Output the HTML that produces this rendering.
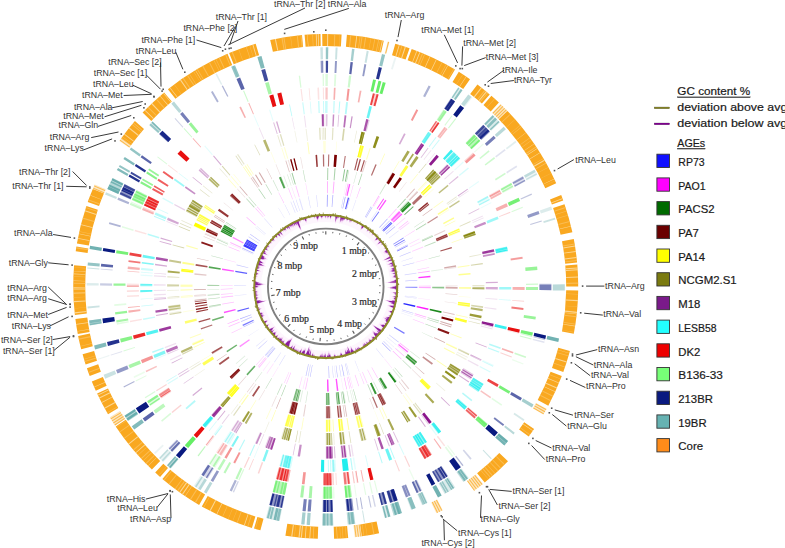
<!DOCTYPE html>
<html><head><meta charset="utf-8"><style>
html,body{margin:0;padding:0;background:#fff;width:785px;height:548px;overflow:hidden}
svg{display:block}
</style></head><body>
<svg width="785" height="548" viewBox="0 0 785 548">
<rect width="785" height="548" fill="#fff"/>
<path d="M167.9,89.3A252.5,252.5 0 0 1 227.5,53.8L232.2,64.9A240.5,240.5 0 0 0 175.4,98.7ZM229.1,53.1A252.5,252.5 0 0 1 255.7,43.8L259.1,55.3A240.5,240.5 0 0 0 233.7,64.2ZM270.2,40.1A252.5,252.5 0 0 1 302.0,35.0L303.1,47.0A240.5,240.5 0 0 0 272.9,51.8ZM304.6,34.8A252.5,252.5 0 0 1 320.5,34.0L320.7,46.0A240.5,240.5 0 0 0 305.6,46.7ZM322.2,33.9A252.5,252.5 0 0 1 341.6,34.4L340.9,46.4A240.5,240.5 0 0 0 322.4,45.9ZM346.9,34.8A252.5,252.5 0 0 1 383.8,40.7L381.1,52.4A240.5,240.5 0 0 0 345.9,46.7ZM395.3,43.7A252.5,252.5 0 0 1 409.6,48.2L405.6,59.6A240.5,240.5 0 0 0 392.0,55.2ZM411.7,49.0A252.5,252.5 0 0 1 455.0,69.5L448.9,79.8A240.5,240.5 0 0 0 407.6,60.3ZM458.8,71.8A252.5,252.5 0 0 1 470.0,79.2L463.2,89.0A240.5,240.5 0 0 0 452.5,82.0ZM477.4,84.5A252.5,252.5 0 0 1 489.7,94.4L481.9,103.5A240.5,240.5 0 0 0 470.2,94.1ZM491.4,95.8A252.5,252.5 0 0 1 498.9,102.6L490.7,111.4A240.5,240.5 0 0 0 483.5,104.9ZM507.4,111.0A252.5,252.5 0 0 1 556.2,183.3L545.3,188.2A240.5,240.5 0 0 0 498.8,119.3ZM561.2,195.1A252.5,252.5 0 0 1 563.2,200.5L551.9,204.5A240.5,240.5 0 0 0 550.0,199.4ZM564.5,204.2A252.5,252.5 0 0 1 572.4,232.2L560.6,234.8A240.5,240.5 0 0 0 553.1,208.1ZM573.8,239.1A252.5,252.5 0 0 1 577.1,262.6L565.2,263.8A240.5,240.5 0 0 0 562.0,241.3ZM577.3,264.4A252.5,252.5 0 0 1 578.2,286.4L566.2,286.4A240.5,240.5 0 0 0 565.3,265.4ZM578.2,290.4A252.5,252.5 0 0 1 573.8,333.7L562.0,331.5A240.5,240.5 0 0 0 566.2,290.2ZM569.9,350.9A252.5,252.5 0 0 1 563.3,371.9L552.0,367.9A240.5,240.5 0 0 0 558.3,347.8ZM561.8,376.1A252.5,252.5 0 0 1 548.3,405.7L537.7,400.0A240.5,240.5 0 0 0 550.6,371.8ZM534.1,429.1A252.5,252.5 0 0 1 528.7,436.6L519.1,429.5A240.5,240.5 0 0 0 524.2,422.3ZM508.0,461.2A252.5,252.5 0 0 1 484.7,482.6L477.1,473.3A240.5,240.5 0 0 0 499.3,452.9ZM379.1,533.2A252.5,252.5 0 0 1 361.8,536.3L360.1,524.4A240.5,240.5 0 0 0 376.6,521.5ZM348.2,537.9A252.5,252.5 0 0 1 334.1,538.8L333.7,526.8A240.5,240.5 0 0 0 347.1,525.9ZM317.8,538.8A252.5,252.5 0 0 1 285.4,535.7L287.3,523.8A240.5,240.5 0 0 0 318.2,526.8ZM260.4,530.3A252.5,252.5 0 0 1 254.0,528.5L257.4,517.0A240.5,240.5 0 0 0 263.5,518.7ZM251.9,527.9A252.5,252.5 0 0 1 201.8,506.4L207.7,495.9A240.5,240.5 0 0 0 255.4,516.4ZM199.1,504.9A252.5,252.5 0 0 1 162.4,479.0L170.2,469.8A240.5,240.5 0 0 0 205.1,494.5ZM160.1,477.0A252.5,252.5 0 0 1 155.2,472.6L163.3,463.7A240.5,240.5 0 0 0 168.0,467.9ZM151.9,469.6A252.5,252.5 0 0 1 115.7,426.5L125.7,419.8A240.5,240.5 0 0 0 160.2,460.9ZM108.0,414.2A252.5,252.5 0 0 1 97.1,393.5L108.0,388.4A240.5,240.5 0 0 0 118.3,408.1ZM95.8,390.7A252.5,252.5 0 0 1 91.8,381.4L102.9,376.9A240.5,240.5 0 0 0 106.7,385.8ZM89.7,376.1A252.5,252.5 0 0 1 86.9,368.2L98.2,364.3A240.5,240.5 0 0 0 100.9,371.8ZM85.6,364.4A252.5,252.5 0 0 1 82.6,354.3L94.1,351.1A240.5,240.5 0 0 0 97.0,360.7ZM81.2,349.2A252.5,252.5 0 0 1 78.1,335.9L89.9,333.5A240.5,240.5 0 0 0 92.8,346.2ZM77.8,334.1A252.5,252.5 0 0 1 75.4,318.9L87.3,317.4A240.5,240.5 0 0 0 89.6,331.9ZM74.9,315.0A252.5,252.5 0 0 1 74.1,265.3L86.1,266.3A240.5,240.5 0 0 0 86.8,313.6ZM75.7,251.3A252.5,252.5 0 0 1 76.4,246.5L88.3,248.4A240.5,240.5 0 0 0 87.6,252.9ZM76.9,243.4A252.5,252.5 0 0 1 86.4,205.9L97.8,209.7A240.5,240.5 0 0 0 88.8,245.5ZM87.7,202.1A252.5,252.5 0 0 1 92.8,189.0L103.9,193.6A240.5,240.5 0 0 0 99.0,206.1ZM121.5,138.0A252.5,252.5 0 0 1 134.9,121.1L144.0,128.9A240.5,240.5 0 0 0 131.2,145.0ZM142.6,112.6A252.5,252.5 0 0 1 164.1,92.4L171.8,101.6A240.5,240.5 0 0 0 151.3,120.9Z" fill="#f9a820"/>
<path d="M387.7,41.6A252.5,252.5 0 0 1 389.4,42.1L386.4,53.7A240.5,240.5 0 0 0 384.7,53.2ZM500.5,104.2A252.5,252.5 0 0 1 507.4,111.0L498.8,119.3A240.5,240.5 0 0 0 492.2,112.8ZM546.6,408.8A252.5,252.5 0 0 1 543.3,414.6L533.0,408.5A240.5,240.5 0 0 0 536.1,403.0ZM482.9,484.0A252.5,252.5 0 0 1 474.2,490.7L467.1,481.0A240.5,240.5 0 0 0 475.5,474.6ZM442.7,510.2A252.5,252.5 0 0 1 436.4,513.3L431.2,502.6A240.5,240.5 0 0 0 437.2,499.5ZM361.8,536.3A252.5,252.5 0 0 1 354.8,537.2L353.4,525.3A240.5,240.5 0 0 0 360.1,524.4ZM115.2,425.8A252.5,252.5 0 0 1 109.8,417.2L120.0,411.0A240.5,240.5 0 0 0 125.2,419.1ZM92.8,189.0A252.5,252.5 0 0 1 94.7,184.5L105.7,189.3A240.5,240.5 0 0 0 103.9,193.6ZM119.4,140.9A252.5,252.5 0 0 1 121.5,138.0L131.2,145.0A240.5,240.5 0 0 0 129.2,147.8Z" fill="#f9a820" fill-opacity="0.3"/>
<path d="M388.1,41.7A252.5,252.5 0 0 1 389.1,42.0L386.0,53.6A240.5,240.5 0 0 0 385.2,53.4ZM500.8,104.5A252.5,252.5 0 0 1 501.5,105.1L493.2,113.7A240.5,240.5 0 0 0 492.5,113.1ZM502.6,106.1A252.5,252.5 0 0 1 503.3,106.8L494.8,115.4A240.5,240.5 0 0 0 494.2,114.7ZM504.3,107.9A252.5,252.5 0 0 1 505.0,108.5L496.5,117.0A240.5,240.5 0 0 0 495.8,116.3ZM506.0,109.6A252.5,252.5 0 0 1 506.7,110.3L498.1,118.6A240.5,240.5 0 0 0 497.4,118.0ZM546.4,409.2A252.5,252.5 0 0 1 545.9,410.0L535.4,404.2A240.5,240.5 0 0 0 535.9,403.4ZM545.2,411.3A252.5,252.5 0 0 1 544.7,412.2L534.3,406.2A240.5,240.5 0 0 0 534.8,405.4ZM544.0,413.4A252.5,252.5 0 0 1 543.5,414.2L533.1,408.2A240.5,240.5 0 0 0 533.6,407.4ZM482.6,484.3A252.5,252.5 0 0 1 481.8,484.9L474.4,475.5A240.5,240.5 0 0 0 475.1,474.9ZM480.7,485.8A252.5,252.5 0 0 1 479.9,486.4L472.6,476.9A240.5,240.5 0 0 0 473.3,476.3ZM478.8,487.3A252.5,252.5 0 0 1 478.0,487.8L470.8,478.3A240.5,240.5 0 0 0 471.5,477.7ZM476.8,488.7A252.5,252.5 0 0 1 476.0,489.3L468.9,479.7A240.5,240.5 0 0 0 469.6,479.1ZM474.9,490.2A252.5,252.5 0 0 1 474.1,490.7L467.0,481.0A240.5,240.5 0 0 0 467.8,480.5ZM442.3,510.4A252.5,252.5 0 0 1 441.5,510.8L436.0,500.2A240.5,240.5 0 0 0 436.8,499.7ZM440.2,511.5A252.5,252.5 0 0 1 439.3,511.9L433.9,501.2A240.5,240.5 0 0 0 434.7,500.8ZM438.0,512.6A252.5,252.5 0 0 1 437.2,513.0L431.9,502.2A240.5,240.5 0 0 0 432.7,501.8ZM361.3,536.4A252.5,252.5 0 0 1 360.4,536.5L358.7,524.6A240.5,240.5 0 0 0 359.6,524.5ZM358.9,536.7A252.5,252.5 0 0 1 358.0,536.8L356.4,524.9A240.5,240.5 0 0 0 357.3,524.8ZM356.5,537.0A252.5,252.5 0 0 1 355.6,537.1L354.1,525.2A240.5,240.5 0 0 0 355.1,525.1ZM115.0,425.4A252.5,252.5 0 0 1 114.4,424.6L124.5,418.0A240.5,240.5 0 0 0 125.0,418.8ZM113.6,423.4A252.5,252.5 0 0 1 113.1,422.6L123.2,416.1A240.5,240.5 0 0 0 123.7,416.9ZM112.3,421.3A252.5,252.5 0 0 1 111.8,420.5L122.0,414.1A240.5,240.5 0 0 0 122.5,414.9ZM111.0,419.3A252.5,252.5 0 0 1 110.5,418.4L120.8,412.2A240.5,240.5 0 0 0 121.2,413.0ZM93.0,188.6A252.5,252.5 0 0 1 93.4,187.7L104.4,192.4A240.5,240.5 0 0 0 104.0,193.2ZM93.9,186.3A252.5,252.5 0 0 1 94.3,185.4L105.3,190.2A240.5,240.5 0 0 0 104.9,191.1ZM119.7,140.5A252.5,252.5 0 0 1 120.2,139.7L130.0,146.7A240.5,240.5 0 0 0 129.5,147.4ZM121.1,138.5A252.5,252.5 0 0 1 121.7,137.7L131.4,144.8A240.5,240.5 0 0 0 130.8,145.5Z" fill="#f9a820" fill-opacity="0.75"/>
<path d="M169.7,87.9A252.5,252.5 0 0 1 170.2,87.5L177.6,97.0A240.5,240.5 0 0 0 177.1,97.4ZM180.0,80.2A252.5,252.5 0 0 1 180.9,79.6L187.7,89.4A240.5,240.5 0 0 0 186.9,90.0ZM195.2,70.3A252.5,252.5 0 0 1 195.6,70.1L201.7,80.3A240.5,240.5 0 0 0 201.4,80.5ZM252.4,44.8A252.5,252.5 0 0 1 253.3,44.5L256.7,56.0A240.5,240.5 0 0 0 255.9,56.3ZM274.8,39.1A252.5,252.5 0 0 1 275.9,38.9L278.3,50.6A240.5,240.5 0 0 0 277.3,50.8ZM307.2,34.6A252.5,252.5 0 0 1 307.6,34.6L308.5,46.5A240.5,240.5 0 0 0 308.0,46.6ZM315.8,34.1A252.5,252.5 0 0 1 316.7,34.1L317.1,46.1A240.5,240.5 0 0 0 316.3,46.1ZM317.8,34.0A252.5,252.5 0 0 1 318.7,34.0L319.0,46.0A240.5,240.5 0 0 0 318.2,46.0ZM327.1,33.9A252.5,252.5 0 0 1 328.2,33.9L328.1,45.9A240.5,240.5 0 0 0 327.0,45.9ZM356.3,35.8A252.5,252.5 0 0 1 357.2,35.9L355.7,47.8A240.5,240.5 0 0 0 354.9,47.7ZM382.0,40.3A252.5,252.5 0 0 1 382.9,40.5L380.2,52.1A240.5,240.5 0 0 0 379.4,52.0ZM398.9,44.7A252.5,252.5 0 0 1 399.7,45.0L396.2,56.4A240.5,240.5 0 0 0 395.4,56.2ZM404.9,46.6A252.5,252.5 0 0 1 405.9,47.0L402.1,58.3A240.5,240.5 0 0 0 401.1,58.0ZM416.5,50.8A252.5,252.5 0 0 1 417.2,51.0L412.8,62.2A240.5,240.5 0 0 0 412.2,62.0ZM419.5,51.9A252.5,252.5 0 0 1 420.3,52.3L415.8,63.4A240.5,240.5 0 0 0 415.0,63.1ZM429.8,56.3A252.5,252.5 0 0 1 430.4,56.6L425.4,67.5A240.5,240.5 0 0 0 424.8,67.3ZM436.1,59.3A252.5,252.5 0 0 1 436.7,59.6L431.5,70.4A240.5,240.5 0 0 0 430.9,70.1ZM447.6,65.2A252.5,252.5 0 0 1 448.1,65.5L442.3,76.0A240.5,240.5 0 0 0 441.8,75.7ZM466.0,76.4A252.5,252.5 0 0 1 466.5,76.8L459.8,86.7A240.5,240.5 0 0 0 459.3,86.4ZM481.1,87.3A252.5,252.5 0 0 1 481.9,88.0L474.5,97.4A240.5,240.5 0 0 0 473.7,96.8ZM486.0,91.3A252.5,252.5 0 0 1 486.9,92.0L479.2,101.2A240.5,240.5 0 0 0 478.4,100.6ZM525.9,132.4A252.5,252.5 0 0 1 526.1,132.8L516.6,140.1A240.5,240.5 0 0 0 516.4,139.7ZM534.0,143.7A252.5,252.5 0 0 1 534.3,144.0L524.4,150.8A240.5,240.5 0 0 0 524.1,150.5ZM537.1,148.2A252.5,252.5 0 0 1 537.4,148.8L527.4,155.3A240.5,240.5 0 0 0 527.0,154.8ZM539.8,152.5A252.5,252.5 0 0 1 540.0,152.9L529.9,159.2A240.5,240.5 0 0 0 529.6,158.8ZM544.2,159.7A252.5,252.5 0 0 1 544.7,160.7L534.3,166.7A240.5,240.5 0 0 0 533.8,165.7ZM554.2,178.8A252.5,252.5 0 0 1 554.3,179.2L543.5,184.3A240.5,240.5 0 0 0 543.3,183.9ZM562.3,198.2A252.5,252.5 0 0 1 562.6,199.0L551.4,203.2A240.5,240.5 0 0 0 551.1,202.4ZM570.9,225.9A252.5,252.5 0 0 1 571.0,226.4L559.4,229.2A240.5,240.5 0 0 0 559.3,228.8ZM574.9,245.4A252.5,252.5 0 0 1 575.1,246.5L563.2,248.4A240.5,240.5 0 0 0 563.1,247.4ZM575.8,251.0A252.5,252.5 0 0 1 575.9,251.9L564.0,253.5A240.5,240.5 0 0 0 563.9,252.7ZM576.5,257.0A252.5,252.5 0 0 1 576.7,258.1L564.7,259.4A240.5,240.5 0 0 0 564.6,258.4ZM577.5,267.4A252.5,252.5 0 0 1 577.6,268.5L565.6,269.3A240.5,240.5 0 0 0 565.6,268.3ZM577.7,269.3A252.5,252.5 0 0 1 577.7,270.2L565.8,271.0A240.5,240.5 0 0 0 565.7,270.1ZM578.1,276.6A252.5,252.5 0 0 1 578.1,277.5L566.1,277.9A240.5,240.5 0 0 0 566.1,277.1ZM577.9,300.1A252.5,252.5 0 0 1 577.8,301.2L565.8,300.5A240.5,240.5 0 0 0 565.9,299.5ZM577.0,311.8A252.5,252.5 0 0 1 576.9,312.9L564.9,311.7A240.5,240.5 0 0 0 565.0,310.6ZM576.8,313.7A252.5,252.5 0 0 1 576.7,314.2L564.8,312.9A240.5,240.5 0 0 0 564.8,312.4ZM575.2,325.7A252.5,252.5 0 0 1 575.1,326.4L563.2,324.5A240.5,240.5 0 0 0 563.3,323.9ZM569.3,352.9A252.5,252.5 0 0 1 569.2,353.3L557.7,350.1A240.5,240.5 0 0 0 557.8,349.7ZM566.8,361.5A252.5,252.5 0 0 1 566.5,362.5L555.1,358.9A240.5,240.5 0 0 0 555.4,357.9ZM559.2,382.7A252.5,252.5 0 0 1 558.9,383.3L547.8,378.7A240.5,240.5 0 0 0 548.1,378.1ZM557.1,387.5A252.5,252.5 0 0 1 556.7,388.5L545.7,383.7A240.5,240.5 0 0 0 546.1,382.7ZM555.4,391.4A252.5,252.5 0 0 1 555.1,392.0L544.2,387.0A240.5,240.5 0 0 0 544.5,386.4ZM533.0,430.6A252.5,252.5 0 0 1 532.7,431.1L522.8,424.3A240.5,240.5 0 0 0 523.2,423.7ZM337.4,538.6A252.5,252.5 0 0 1 337.0,538.7L336.4,526.7A240.5,240.5 0 0 0 336.9,526.6ZM313.6,538.6A252.5,252.5 0 0 1 313.2,538.6L313.8,526.6A240.5,240.5 0 0 0 314.2,526.6ZM310.2,538.4A252.5,252.5 0 0 1 309.3,538.4L310.1,526.4A240.5,240.5 0 0 0 311.0,526.4ZM305.7,538.1A252.5,252.5 0 0 1 304.8,538.0L305.8,526.1A240.5,240.5 0 0 0 306.6,526.1ZM301.9,537.8A252.5,252.5 0 0 1 300.8,537.7L302.0,525.7A240.5,240.5 0 0 0 303.0,525.8ZM299.6,537.5A252.5,252.5 0 0 1 298.5,537.4L299.8,525.5A240.5,240.5 0 0 0 300.9,525.6ZM292.3,536.7A252.5,252.5 0 0 1 291.2,536.5L292.9,524.6A240.5,240.5 0 0 0 293.9,524.8ZM244.7,525.5A252.5,252.5 0 0 1 243.9,525.3L247.8,513.9A240.5,240.5 0 0 0 248.5,514.2ZM217.1,514.3A252.5,252.5 0 0 1 216.5,514.1L221.7,503.2A240.5,240.5 0 0 0 222.3,503.5ZM210.6,511.1A252.5,252.5 0 0 1 209.6,510.6L215.2,500.0A240.5,240.5 0 0 0 216.1,500.4ZM185.3,496.3A252.5,252.5 0 0 1 185.0,496.0L191.7,486.1A240.5,240.5 0 0 0 192.0,486.3ZM183.0,494.6A252.5,252.5 0 0 1 182.0,494.0L188.9,484.1A240.5,240.5 0 0 0 189.7,484.7ZM180.2,492.7A252.5,252.5 0 0 1 179.3,492.1L186.2,482.3A240.5,240.5 0 0 0 187.1,482.9ZM148.4,466.1A252.5,252.5 0 0 1 148.1,465.8L156.5,457.3A240.5,240.5 0 0 0 156.8,457.6ZM136.1,453.1A252.5,252.5 0 0 1 135.5,452.4L144.6,444.6A240.5,240.5 0 0 0 145.1,445.2ZM128.9,444.5A252.5,252.5 0 0 1 128.2,443.7L137.6,436.2A240.5,240.5 0 0 0 138.3,437.0ZM104.8,408.7A252.5,252.5 0 0 1 104.3,407.7L114.8,401.9A240.5,240.5 0 0 0 115.3,402.9ZM101.7,402.9A252.5,252.5 0 0 1 101.4,402.3L112.1,396.8A240.5,240.5 0 0 0 112.4,397.3ZM99.5,398.5A252.5,252.5 0 0 1 99.0,397.6L109.8,392.3A240.5,240.5 0 0 0 110.3,393.2ZM98.0,395.4A252.5,252.5 0 0 1 97.7,394.8L108.5,389.6A240.5,240.5 0 0 0 108.8,390.2ZM94.3,387.2A252.5,252.5 0 0 1 94.1,386.8L105.1,382.1A240.5,240.5 0 0 0 105.3,382.4ZM77.3,331.6A252.5,252.5 0 0 1 77.3,331.2L89.1,329.1A240.5,240.5 0 0 0 89.1,329.5ZM76.2,324.7A252.5,252.5 0 0 1 76.1,324.1L87.9,322.3A240.5,240.5 0 0 0 88.0,322.9ZM74.7,313.4A252.5,252.5 0 0 1 74.6,312.3L86.5,311.1A240.5,240.5 0 0 0 86.6,312.1ZM73.7,302.2A252.5,252.5 0 0 1 73.7,301.1L85.7,300.4A240.5,240.5 0 0 0 85.7,301.5ZM73.4,293.6A252.5,252.5 0 0 1 73.3,292.8L85.3,292.5A240.5,240.5 0 0 0 85.3,293.3ZM73.3,289.6A252.5,252.5 0 0 1 73.3,288.5L85.3,288.4A240.5,240.5 0 0 0 85.3,289.5ZM73.3,287.9A252.5,252.5 0 0 1 73.3,287.2L85.3,287.2A240.5,240.5 0 0 0 85.3,287.8ZM73.3,281.1A252.5,252.5 0 0 1 73.3,280.6L85.3,280.9A240.5,240.5 0 0 0 85.3,281.3ZM73.5,274.2A252.5,252.5 0 0 1 73.6,273.5L85.6,274.2A240.5,240.5 0 0 0 85.5,274.8ZM73.7,271.3A252.5,252.5 0 0 1 73.7,270.9L85.7,271.6A240.5,240.5 0 0 0 85.7,272.0ZM77.8,238.7A252.5,252.5 0 0 1 77.9,238.0L89.7,240.3A240.5,240.5 0 0 0 89.6,240.9ZM78.7,234.1A252.5,252.5 0 0 1 78.9,233.4L90.6,235.9A240.5,240.5 0 0 0 90.5,236.6ZM80.8,225.1A252.5,252.5 0 0 1 81.0,224.2L92.7,227.2A240.5,240.5 0 0 0 92.4,228.0ZM84.7,211.3A252.5,252.5 0 0 1 85.0,210.3L96.4,213.9A240.5,240.5 0 0 0 96.1,214.9ZM90.2,195.4A252.5,252.5 0 0 1 90.4,195.0L101.5,199.4A240.5,240.5 0 0 0 101.4,199.8ZM124.0,134.5A252.5,252.5 0 0 1 124.6,133.8L134.1,141.1A240.5,240.5 0 0 0 133.6,141.7ZM128.8,128.4A252.5,252.5 0 0 1 129.5,127.5L138.8,135.1A240.5,240.5 0 0 0 138.2,135.9ZM144.6,110.5A252.5,252.5 0 0 1 145.2,109.9L153.8,118.3A240.5,240.5 0 0 0 153.2,118.9ZM151.3,103.9A252.5,252.5 0 0 1 152.1,103.1L160.3,111.8A240.5,240.5 0 0 0 159.5,112.6ZM159.7,96.1A252.5,252.5 0 0 1 160.2,95.7L168.1,104.8A240.5,240.5 0 0 0 167.6,105.2ZM163.0,93.3A252.5,252.5 0 0 1 163.5,92.9L171.2,102.1A240.5,240.5 0 0 0 170.8,102.5Z" fill="#fde6b8" fill-opacity="0.75"/>
<path d="M174.0,84.6A252.5,252.5 0 0 1 174.4,84.3L181.5,93.9A240.5,240.5 0 0 0 181.2,94.2ZM182.6,78.4A252.5,252.5 0 0 1 183.5,77.8L190.3,87.7A240.5,240.5 0 0 0 189.4,88.3ZM186.9,75.5A252.5,252.5 0 0 1 187.8,74.9L194.3,85.0A240.5,240.5 0 0 0 193.5,85.6ZM189.1,74.1A252.5,252.5 0 0 1 189.7,73.7L196.1,83.8A240.5,240.5 0 0 0 195.6,84.2ZM193.3,71.4A252.5,252.5 0 0 1 193.7,71.2L200.0,81.4A240.5,240.5 0 0 0 199.6,81.6ZM196.9,69.3A252.5,252.5 0 0 1 197.6,68.8L203.7,79.2A240.5,240.5 0 0 0 203.0,79.6ZM202.2,66.2A252.5,252.5 0 0 1 203.2,65.6L209.0,76.1A240.5,240.5 0 0 0 208.1,76.6ZM208.8,62.6A252.5,252.5 0 0 1 209.8,62.1L215.3,72.8A240.5,240.5 0 0 0 214.3,73.3ZM213.5,60.2A252.5,252.5 0 0 1 214.1,59.9L219.4,70.7A240.5,240.5 0 0 0 218.9,71.0ZM215.6,59.2A252.5,252.5 0 0 1 216.2,58.9L221.4,69.7A240.5,240.5 0 0 0 220.9,70.0ZM218.7,57.7A252.5,252.5 0 0 1 219.7,57.3L224.7,68.2A240.5,240.5 0 0 0 223.8,68.6ZM225.1,54.8A252.5,252.5 0 0 1 226.1,54.4L230.8,65.4A240.5,240.5 0 0 0 229.9,65.8ZM231.6,52.1A252.5,252.5 0 0 1 232.7,51.7L237.1,62.8A240.5,240.5 0 0 0 236.1,63.2ZM238.5,49.5A252.5,252.5 0 0 1 238.9,49.3L243.0,60.6A240.5,240.5 0 0 0 242.6,60.7ZM245.9,46.9A252.5,252.5 0 0 1 246.5,46.6L250.3,58.0A240.5,240.5 0 0 0 249.7,58.2ZM249.5,45.7A252.5,252.5 0 0 1 249.9,45.6L253.5,57.0A240.5,240.5 0 0 0 253.1,57.1ZM281.4,37.8A252.5,252.5 0 0 1 282.5,37.6L284.6,49.5A240.5,240.5 0 0 0 283.5,49.6ZM283.3,37.5A252.5,252.5 0 0 1 284.4,37.3L286.3,49.2A240.5,240.5 0 0 0 285.3,49.3ZM290.3,36.4A252.5,252.5 0 0 1 290.8,36.3L292.4,48.2A240.5,240.5 0 0 0 292.0,48.3ZM296.8,35.6A252.5,252.5 0 0 1 297.8,35.4L299.2,47.4A240.5,240.5 0 0 0 298.1,47.5ZM300.5,35.2A252.5,252.5 0 0 1 301.4,35.1L302.6,47.0A240.5,240.5 0 0 0 301.7,47.1ZM312.2,34.3A252.5,252.5 0 0 1 312.9,34.2L313.5,46.2A240.5,240.5 0 0 0 312.9,46.2ZM334.2,34.0A252.5,252.5 0 0 1 335.3,34.1L334.9,46.1A240.5,240.5 0 0 0 333.8,46.0ZM339.7,34.3A252.5,252.5 0 0 1 340.1,34.3L339.4,46.3A240.5,240.5 0 0 0 339.0,46.3ZM350.2,35.1A252.5,252.5 0 0 1 351.3,35.2L350.1,47.1A240.5,240.5 0 0 0 349.0,47.0ZM359.7,36.2A252.5,252.5 0 0 1 360.5,36.3L358.9,48.2A240.5,240.5 0 0 0 358.1,48.1ZM361.5,36.4A252.5,252.5 0 0 1 362.6,36.6L360.8,48.5A240.5,240.5 0 0 0 359.8,48.3ZM365.1,37.0A252.5,252.5 0 0 1 366.2,37.2L364.3,49.0A240.5,240.5 0 0 0 363.3,48.8ZM370.7,37.9A252.5,252.5 0 0 1 371.2,38.0L369.0,49.8A240.5,240.5 0 0 0 368.6,49.7ZM374.5,38.6A252.5,252.5 0 0 1 375.3,38.8L373.0,50.6A240.5,240.5 0 0 0 372.2,50.4ZM378.3,39.4A252.5,252.5 0 0 1 379.2,39.6L376.7,51.3A240.5,240.5 0 0 0 375.8,51.2ZM380.2,39.8A252.5,252.5 0 0 1 380.6,39.9L378.0,51.6A240.5,240.5 0 0 0 377.6,51.6ZM401.6,45.6A252.5,252.5 0 0 1 402.5,45.8L398.8,57.3A240.5,240.5 0 0 0 398.0,57.0ZM422.2,53.0A252.5,252.5 0 0 1 423.2,53.5L418.6,64.5A240.5,240.5 0 0 0 417.6,64.1ZM424.3,53.9A252.5,252.5 0 0 1 425.2,54.3L420.4,65.3A240.5,240.5 0 0 0 419.7,65.0ZM441.8,62.2A252.5,252.5 0 0 1 442.4,62.5L436.9,73.1A240.5,240.5 0 0 0 436.3,72.8ZM445.8,64.3A252.5,252.5 0 0 1 446.4,64.6L440.7,75.1A240.5,240.5 0 0 0 440.1,74.8ZM453.6,68.6A252.5,252.5 0 0 1 454.2,69.0L448.0,79.3A240.5,240.5 0 0 0 447.5,79.0ZM462.7,74.3A252.5,252.5 0 0 1 463.1,74.5L456.5,84.6A240.5,240.5 0 0 0 456.2,84.3ZM484.5,90.0A252.5,252.5 0 0 1 485.3,90.7L477.7,100.0A240.5,240.5 0 0 0 476.9,99.4ZM487.4,92.4A252.5,252.5 0 0 1 488.2,93.1L480.5,102.3A240.5,240.5 0 0 0 479.7,101.6ZM494.5,98.6A252.5,252.5 0 0 1 494.9,98.9L486.8,107.8A240.5,240.5 0 0 0 486.5,107.5ZM510.1,113.9A252.5,252.5 0 0 1 510.7,114.5L501.9,122.7A240.5,240.5 0 0 0 501.3,122.1ZM515.0,119.2A252.5,252.5 0 0 1 515.3,119.6L506.3,127.5A240.5,240.5 0 0 0 506.0,127.2ZM520.0,125.1A252.5,252.5 0 0 1 520.3,125.5L511.1,133.1A240.5,240.5 0 0 0 510.8,132.8ZM521.3,126.7A252.5,252.5 0 0 1 521.7,127.2L512.4,134.8A240.5,240.5 0 0 0 512.0,134.3ZM529.7,137.5A252.5,252.5 0 0 1 530.1,138.0L520.4,145.1A240.5,240.5 0 0 0 520.0,144.6ZM531.6,140.1A252.5,252.5 0 0 1 531.8,140.5L522.0,147.4A240.5,240.5 0 0 0 521.8,147.1ZM535.9,146.4A252.5,252.5 0 0 1 536.5,147.3L526.5,154.0A240.5,240.5 0 0 0 525.9,153.1ZM543.3,158.2A252.5,252.5 0 0 1 543.6,158.7L533.2,164.8A240.5,240.5 0 0 0 532.9,164.3ZM545.9,162.7A252.5,252.5 0 0 1 546.3,163.5L535.8,169.3A240.5,240.5 0 0 0 535.4,168.6ZM548.3,167.1A252.5,252.5 0 0 1 548.5,167.5L537.9,173.1A240.5,240.5 0 0 0 537.7,172.7ZM551.3,172.9A252.5,252.5 0 0 1 551.5,173.3L540.8,178.6A240.5,240.5 0 0 0 540.6,178.3ZM555.1,180.7A252.5,252.5 0 0 1 555.3,181.1L544.4,186.1A240.5,240.5 0 0 0 544.2,185.8ZM565.4,206.9A252.5,252.5 0 0 1 565.8,207.9L554.3,211.7A240.5,240.5 0 0 0 554.0,210.7ZM566.6,210.7A252.5,252.5 0 0 1 566.8,211.3L555.4,214.9A240.5,240.5 0 0 0 555.2,214.3ZM567.9,214.9A252.5,252.5 0 0 1 568.1,215.5L556.6,218.9A240.5,240.5 0 0 0 556.4,218.3ZM569.6,220.9A252.5,252.5 0 0 1 569.9,221.9L558.3,225.0A240.5,240.5 0 0 0 558.0,224.0ZM574.6,243.4A252.5,252.5 0 0 1 574.8,244.5L562.9,246.5A240.5,240.5 0 0 0 562.7,245.5ZM576.9,260.1A252.5,252.5 0 0 1 577.0,261.0L565.0,262.2A240.5,240.5 0 0 0 564.9,261.4ZM578.2,282.6A252.5,252.5 0 0 1 578.2,283.7L566.2,283.9A240.5,240.5 0 0 0 566.2,282.8ZM578.1,293.9A252.5,252.5 0 0 1 578.1,294.4L566.1,294.0A240.5,240.5 0 0 0 566.1,293.6ZM577.4,306.6A252.5,252.5 0 0 1 577.4,307.1L565.4,306.1A240.5,240.5 0 0 0 565.5,305.7ZM576.5,316.2A252.5,252.5 0 0 1 576.4,317.3L564.4,315.8A240.5,240.5 0 0 0 564.6,314.8ZM575.5,323.8A252.5,252.5 0 0 1 575.3,324.6L563.5,322.8A240.5,240.5 0 0 0 563.6,322.0ZM574.1,332.0A252.5,252.5 0 0 1 574.0,332.5L562.2,330.3A240.5,240.5 0 0 0 562.3,329.9ZM568.6,355.6A252.5,252.5 0 0 1 568.4,356.3L556.9,352.9A240.5,240.5 0 0 0 557.0,352.3ZM565.2,366.7A252.5,252.5 0 0 1 564.9,367.5L553.5,363.6A240.5,240.5 0 0 0 553.8,362.8ZM560.8,378.7A252.5,252.5 0 0 1 560.5,379.3L549.4,374.9A240.5,240.5 0 0 0 549.6,374.3ZM553.3,395.8A252.5,252.5 0 0 1 552.8,396.8L542.1,391.5A240.5,240.5 0 0 0 542.5,390.6ZM551.1,400.2A252.5,252.5 0 0 1 550.6,401.2L540.0,395.8A240.5,240.5 0 0 0 540.4,394.8ZM530.2,434.6A252.5,252.5 0 0 1 529.8,435.2L520.1,428.1A240.5,240.5 0 0 0 520.5,427.6ZM504.9,464.3A252.5,252.5 0 0 1 504.1,465.1L495.7,456.6A240.5,240.5 0 0 0 496.4,455.9ZM501.1,468.1A252.5,252.5 0 0 1 500.5,468.7L492.1,460.0A240.5,240.5 0 0 0 492.8,459.5ZM498.4,470.6A252.5,252.5 0 0 1 497.8,471.2L489.6,462.4A240.5,240.5 0 0 0 490.2,461.9ZM495.4,473.4A252.5,252.5 0 0 1 494.9,473.9L486.9,464.9A240.5,240.5 0 0 0 487.3,464.5ZM493.0,475.6A252.5,252.5 0 0 1 492.2,476.3L484.3,467.3A240.5,240.5 0 0 0 485.0,466.6ZM491.0,477.3A252.5,252.5 0 0 1 490.2,478.0L482.4,468.9A240.5,240.5 0 0 0 483.1,468.2ZM488.7,479.3A252.5,252.5 0 0 1 488.4,479.6L480.6,470.4A240.5,240.5 0 0 0 481.0,470.1ZM374.5,534.2A252.5,252.5 0 0 1 373.4,534.4L371.1,522.6A240.5,240.5 0 0 0 372.2,522.4ZM367.4,535.4A252.5,252.5 0 0 1 367.0,535.5L365.0,523.7A240.5,240.5 0 0 0 365.4,523.6ZM364.3,535.9A252.5,252.5 0 0 1 363.6,536.0L361.8,524.2A240.5,240.5 0 0 0 362.4,524.1ZM346.6,538.0A252.5,252.5 0 0 1 345.9,538.1L345.0,526.1A240.5,240.5 0 0 0 345.6,526.1ZM343.4,538.3A252.5,252.5 0 0 1 342.7,538.3L341.9,526.4A240.5,240.5 0 0 0 342.5,526.3ZM340.8,538.5A252.5,252.5 0 0 1 340.3,538.5L339.6,526.5A240.5,240.5 0 0 0 340.0,526.5ZM294.5,537.0A252.5,252.5 0 0 1 294.1,536.9L295.6,525.0A240.5,240.5 0 0 0 296.0,525.1ZM255.7,529.0A252.5,252.5 0 0 1 255.2,528.9L258.6,517.3A240.5,240.5 0 0 0 259.0,517.4ZM248.1,526.7A252.5,252.5 0 0 1 247.3,526.4L251.0,515.0A240.5,240.5 0 0 0 251.8,515.2ZM237.5,523.0A252.5,252.5 0 0 1 236.7,522.7L240.9,511.5A240.5,240.5 0 0 0 241.7,511.7ZM232.8,521.2A252.5,252.5 0 0 1 232.4,521.0L236.8,509.9A240.5,240.5 0 0 0 237.2,510.0ZM228.3,519.3A252.5,252.5 0 0 1 227.9,519.2L232.5,508.1A240.5,240.5 0 0 0 232.9,508.3ZM222.8,517.0A252.5,252.5 0 0 1 222.2,516.7L227.1,505.7A240.5,240.5 0 0 0 227.7,506.0ZM204.0,507.6A252.5,252.5 0 0 1 203.4,507.3L209.2,496.8A240.5,240.5 0 0 0 209.8,497.1ZM195.8,502.9A252.5,252.5 0 0 1 194.8,502.3L201.0,492.0A240.5,240.5 0 0 0 201.9,492.6ZM190.9,499.8A252.5,252.5 0 0 1 189.9,499.3L196.4,489.1A240.5,240.5 0 0 0 197.3,489.7ZM178.0,491.2A252.5,252.5 0 0 1 177.1,490.5L184.2,480.8A240.5,240.5 0 0 0 185.1,481.5ZM175.4,489.2A252.5,252.5 0 0 1 174.7,488.7L181.9,479.1A240.5,240.5 0 0 0 182.5,479.6ZM169.4,484.6A252.5,252.5 0 0 1 168.5,483.9L176.0,474.6A240.5,240.5 0 0 0 176.8,475.2ZM164.3,480.5A252.5,252.5 0 0 1 163.6,480.0L171.3,470.8A240.5,240.5 0 0 0 172.0,471.3ZM158.6,475.7A252.5,252.5 0 0 1 158.3,475.4L166.3,466.4A240.5,240.5 0 0 0 166.6,466.7ZM146.3,464.1A252.5,252.5 0 0 1 145.5,463.3L154.1,454.9A240.5,240.5 0 0 0 154.9,455.6ZM143.4,461.1A252.5,252.5 0 0 1 143.0,460.6L151.6,452.3A240.5,240.5 0 0 0 152.1,452.8ZM141.6,459.1A252.5,252.5 0 0 1 140.8,458.3L149.6,450.2A240.5,240.5 0 0 0 150.3,450.9ZM138.1,455.4A252.5,252.5 0 0 1 137.7,454.9L146.6,446.9A240.5,240.5 0 0 0 147.0,447.3ZM133.8,450.4A252.5,252.5 0 0 1 133.1,449.6L142.2,441.8A240.5,240.5 0 0 0 142.9,442.6ZM124.4,438.7A252.5,252.5 0 0 1 123.9,438.0L133.5,430.8A240.5,240.5 0 0 0 134.0,431.5ZM119.8,432.5A252.5,252.5 0 0 1 119.3,431.7L129.1,424.8A240.5,240.5 0 0 0 129.6,425.5ZM116.4,427.6A252.5,252.5 0 0 1 116.2,427.3L126.1,420.6A240.5,240.5 0 0 0 126.4,420.9ZM107.3,413.0A252.5,252.5 0 0 1 107.0,412.5L117.4,406.5A240.5,240.5 0 0 0 117.7,407.0ZM88.5,372.9A252.5,252.5 0 0 1 88.2,371.9L99.5,367.8A240.5,240.5 0 0 0 99.8,368.8ZM84.8,361.9A252.5,252.5 0 0 1 84.6,361.1L96.0,357.6A240.5,240.5 0 0 0 96.3,358.4ZM84.1,359.5A252.5,252.5 0 0 1 83.9,359.0L95.4,355.6A240.5,240.5 0 0 0 95.5,356.0ZM80.5,346.6A252.5,252.5 0 0 1 80.4,345.9L92.0,343.1A240.5,240.5 0 0 0 92.2,343.7ZM78.9,339.7A252.5,252.5 0 0 1 78.7,338.6L90.4,336.1A240.5,240.5 0 0 0 90.7,337.2ZM74.2,308.6A252.5,252.5 0 0 1 74.2,308.2L86.1,307.2A240.5,240.5 0 0 0 86.2,307.6ZM73.5,297.7A252.5,252.5 0 0 1 73.5,297.2L85.5,296.7A240.5,240.5 0 0 0 85.5,297.1ZM73.3,283.8A252.5,252.5 0 0 1 73.3,282.7L85.3,282.9A240.5,240.5 0 0 0 85.3,283.9ZM73.4,276.8A252.5,252.5 0 0 1 73.5,276.2L85.4,276.7A240.5,240.5 0 0 0 85.4,277.3ZM74.0,267.6A252.5,252.5 0 0 1 74.0,267.2L85.9,268.1A240.5,240.5 0 0 0 85.9,268.5ZM76.1,248.4A252.5,252.5 0 0 1 76.3,247.3L88.2,249.1A240.5,240.5 0 0 0 88.0,250.2ZM79.3,231.7A252.5,252.5 0 0 1 79.4,231.2L91.1,233.8A240.5,240.5 0 0 0 91.0,234.3ZM82.5,218.7A252.5,252.5 0 0 1 82.8,217.6L94.3,220.9A240.5,240.5 0 0 0 94.1,221.9ZM85.7,208.1A252.5,252.5 0 0 1 86.0,207.2L97.4,211.0A240.5,240.5 0 0 0 97.1,211.8ZM88.3,200.5A252.5,252.5 0 0 1 88.7,199.5L99.9,203.6A240.5,240.5 0 0 0 99.6,204.6ZM122.3,136.9A252.5,252.5 0 0 1 122.6,136.5L132.2,143.6A240.5,240.5 0 0 0 132.0,144.0ZM131.8,124.7A252.5,252.5 0 0 1 132.4,124.0L141.6,131.8A240.5,240.5 0 0 0 141.0,132.4ZM133.1,123.2A252.5,252.5 0 0 1 133.6,122.5L142.8,130.3A240.5,240.5 0 0 0 142.2,131.0ZM147.6,107.4A252.5,252.5 0 0 1 148.4,106.7L156.8,115.2A240.5,240.5 0 0 0 156.1,115.9ZM155.9,99.6A252.5,252.5 0 0 1 156.7,98.8L164.7,107.8A240.5,240.5 0 0 0 164.0,108.5Z" fill="#fbc568" fill-opacity="0.7"/>
<path d="M534.4,169.6A239.1,239.1 0 0 1 537.4,175.1L526.7,180.7A227.1,227.1 0 0 0 523.9,175.4Z" fill="#5fa8a8" fill-opacity="0.1"/>
<path d="M98.2,359.7A239.1,239.1 0 0 1 97.9,358.7L109.3,355.1A227.1,227.1 0 0 0 109.6,356.0ZM155.3,454.1A239.1,239.1 0 0 1 154.0,452.8L162.6,444.4A227.1,227.1 0 0 0 163.9,445.7ZM394.5,57.4A239.1,239.1 0 0 1 396.3,57.9L392.8,69.4A227.1,227.1 0 0 0 391.0,68.9Z" fill="#5fa8a8" fill-opacity="0.12"/>
<path d="M468.3,94.4A239.1,239.1 0 0 1 472.3,97.5L464.9,107.0A227.1,227.1 0 0 0 461.2,104.1ZM163.4,462.0A239.1,239.1 0 0 1 158.9,457.7L167.3,449.1A227.1,227.1 0 0 0 171.6,453.2ZM200.8,490.3A239.1,239.1 0 0 1 193.8,485.8L200.4,475.8A227.1,227.1 0 0 0 207.1,480.0Z" fill="#5fa8a8" fill-opacity="0.13"/>
<path d="M515.4,140.8A239.1,239.1 0 0 1 516.5,142.2L506.9,149.5A227.1,227.1 0 0 0 505.9,148.1ZM215.5,74.2A239.1,239.1 0 0 1 216.8,73.6L222.3,84.2A227.1,227.1 0 0 0 221.1,84.9Z" fill="#5fa8a8" fill-opacity="0.18"/>
<path d="M458.1,87.2A239.1,239.1 0 0 1 462.2,90.1L455.4,99.9A227.1,227.1 0 0 0 451.4,97.2ZM427.7,502.7A239.1,239.1 0 0 1 422.0,505.3L417.2,494.3A227.1,227.1 0 0 0 422.6,491.8Z" fill="#5fa8a8" fill-opacity="0.2"/>
<path d="M86.7,285.6A239.1,239.1 0 0 1 86.7,283.1L98.7,283.2A227.1,227.1 0 0 0 98.7,285.6ZM551.1,206.6A239.1,239.1 0 0 1 552.2,209.7L540.9,213.6A227.1,227.1 0 0 0 539.8,210.6Z" fill="#5fa8a8" fill-opacity="0.22"/>
<path d="M149.2,125.2A239.1,239.1 0 0 1 152.6,121.5L161.3,129.8A227.1,227.1 0 0 0 158.0,133.3ZM492.6,115.1A239.1,239.1 0 0 1 499.9,122.6L491.2,130.8A227.1,227.1 0 0 0 484.2,123.7ZM468.8,478.0A239.1,239.1 0 0 1 463.7,481.7L456.8,471.9A227.1,227.1 0 0 0 461.6,468.4ZM455.3,487.4A239.1,239.1 0 0 1 444.6,493.9L438.6,483.5A227.1,227.1 0 0 0 448.8,477.3ZM390.7,516.5A239.1,239.1 0 0 1 384.6,518.1L381.7,506.5A227.1,227.1 0 0 0 387.4,505.0ZM279.7,521.0A239.1,239.1 0 0 1 265.9,517.9L268.9,506.3A227.1,227.1 0 0 0 282.0,509.3ZM415.7,507.9A239.1,239.1 0 0 1 411.0,509.8L406.8,498.6A227.1,227.1 0 0 0 411.2,496.8Z" fill="#5fa8a8" fill-opacity="0.23"/>
<path d="M464.5,481.1A239.1,239.1 0 0 1 463.3,482.0L456.4,472.2A227.1,227.1 0 0 0 457.5,471.4ZM524.5,419.4A239.1,239.1 0 0 1 523.4,420.9L513.5,414.2A227.1,227.1 0 0 0 514.5,412.7ZM232.6,66.2A239.1,239.1 0 0 1 233.8,65.7L238.4,76.8A227.1,227.1 0 0 0 237.3,77.2Z" fill="#5fa8a8" fill-opacity="0.25"/>
<path d="M536.4,173.2A239.1,239.1 0 0 1 537.1,174.5L526.5,180.1A227.1,227.1 0 0 0 525.8,178.9Z" fill="#5fa8a8" fill-opacity="0.28"/>
<path d="M468.3,94.4A239.1,239.1 0 0 1 470.4,96.0L463.1,105.6A227.1,227.1 0 0 0 461.1,104.1ZM470.3,95.9A239.1,239.1 0 0 1 471.5,96.8L464.1,106.3A227.1,227.1 0 0 0 463.0,105.5ZM162.8,461.4A239.1,239.1 0 0 1 161.7,460.3L169.9,451.6A227.1,227.1 0 0 0 171.0,452.6ZM160.2,459.0A239.1,239.1 0 0 1 159.2,457.9L167.5,449.3A227.1,227.1 0 0 0 168.5,450.3Z" fill="#5fa8a8" fill-opacity="0.31"/>
<path d="M365.0,522.3A239.1,239.1 0 0 1 364.0,522.4L362.1,510.6A227.1,227.1 0 0 0 363.0,510.4ZM425.7,503.6A239.1,239.1 0 0 1 424.4,504.2L419.4,493.3A227.1,227.1 0 0 0 420.7,492.7ZM87.3,268.6A239.1,239.1 0 0 1 87.4,267.6L99.4,268.5A227.1,227.1 0 0 0 99.3,269.5ZM491.8,458.5A239.1,239.1 0 0 1 491.0,459.2L482.7,450.5A227.1,227.1 0 0 0 483.4,449.8ZM554.8,217.8A239.1,239.1 0 0 1 555.3,219.6L543.8,223.0A227.1,227.1 0 0 0 543.3,221.2ZM87.7,308.4A239.1,239.1 0 0 1 87.5,306.6L99.5,305.6A227.1,227.1 0 0 0 99.6,307.3Z" fill="#5fa8a8" fill-opacity="0.32"/>
<path d="M105.0,194.5A239.1,239.1 0 0 1 106.0,192.2L117.0,196.9A227.1,227.1 0 0 0 116.1,199.1ZM320.3,47.4A239.1,239.1 0 0 1 322.8,47.3L323.0,59.3A227.1,227.1 0 0 0 320.6,59.4ZM335.6,47.5A239.1,239.1 0 0 1 337.6,47.6L337.0,59.6A227.1,227.1 0 0 0 335.1,59.5ZM366.7,50.8A239.1,239.1 0 0 1 368.7,51.2L366.6,63.0A227.1,227.1 0 0 0 364.6,62.6ZM534.5,169.7A239.1,239.1 0 0 1 535.7,172.1L525.2,177.8A227.1,227.1 0 0 0 524.0,175.6ZM105.2,378.7A239.1,239.1 0 0 1 103.6,374.8L114.7,370.4A227.1,227.1 0 0 0 116.2,374.0Z" fill="#5fa8a8" fill-opacity="0.33"/>
<path d="M200.5,490.1A239.1,239.1 0 0 1 198.2,488.7L204.6,478.5A227.1,227.1 0 0 0 206.8,479.9ZM196.3,487.4A239.1,239.1 0 0 1 195.0,486.6L201.6,476.6A227.1,227.1 0 0 0 202.8,477.3Z" fill="#5fa8a8" fill-opacity="0.37"/>
<path d="M171.4,103.8A239.1,239.1 0 0 1 174.0,101.6L181.6,110.9A227.1,227.1 0 0 0 179.2,112.9ZM503.7,126.7A239.1,239.1 0 0 1 505.9,129.2L496.9,137.1A227.1,227.1 0 0 0 494.8,134.7ZM564.8,284.3A239.1,239.1 0 0 1 564.8,287.7L552.8,287.6A227.1,227.1 0 0 0 552.8,284.4ZM564.8,287.2A239.1,239.1 0 0 1 564.8,290.6L552.8,290.4A227.1,227.1 0 0 0 552.8,287.2ZM514.8,432.8A239.1,239.1 0 0 1 513.5,434.4L504.1,427.0A227.1,227.1 0 0 0 505.3,425.4ZM206.4,493.6A239.1,239.1 0 0 1 203.9,492.1L210.0,481.8A227.1,227.1 0 0 0 212.4,483.2Z" fill="#5fa8a8" fill-opacity="0.44"/>
<path d="M107.3,189.1A239.1,239.1 0 0 1 112.7,177.9L123.4,183.3A227.1,227.1 0 0 0 118.3,194.0ZM508.1,441.0A239.1,239.1 0 0 1 504.3,445.5L495.3,437.5A227.1,227.1 0 0 0 499.0,433.3ZM333.3,525.4A239.1,239.1 0 0 1 322.4,525.5L322.6,513.5A227.1,227.1 0 0 0 332.9,513.4ZM355.3,523.7A239.1,239.1 0 0 1 347.8,524.5L346.7,512.5A227.1,227.1 0 0 0 353.8,511.8ZM401.6,513.1A239.1,239.1 0 0 1 393.7,515.7L390.2,504.1A227.1,227.1 0 0 0 397.8,501.8ZM170.8,468.5A239.1,239.1 0 0 1 167.0,465.2L175.0,456.2A227.1,227.1 0 0 0 178.6,459.3ZM89.9,325.5A239.1,239.1 0 0 1 89.1,320.5L101.0,318.8A227.1,227.1 0 0 0 101.7,323.5ZM128.2,421.1A239.1,239.1 0 0 1 124.5,415.6L134.6,409.1A227.1,227.1 0 0 0 138.1,414.4Z" fill="#5fa8a8" fill-opacity="0.45"/>
<path d="M425.2,503.8A239.1,239.1 0 0 1 422.8,504.9L417.9,494.0A227.1,227.1 0 0 0 420.2,492.9Z" fill="#5fa8a8" fill-opacity="0.47"/>
<path d="M149.4,124.9A239.1,239.1 0 0 1 150.9,123.4L159.6,131.5A227.1,227.1 0 0 0 158.3,133.0ZM448.8,491.4A239.1,239.1 0 0 1 447.5,492.2L441.4,481.9A227.1,227.1 0 0 0 442.6,481.1ZM446.8,492.6A239.1,239.1 0 0 1 445.5,493.3L439.5,482.9A227.1,227.1 0 0 0 440.8,482.2Z" fill="#5fa8a8" fill-opacity="0.55"/>
<path d="M352.0,48.7A239.1,239.1 0 0 1 354.5,49.0L353.0,60.9A227.1,227.1 0 0 0 350.7,60.7ZM533.6,404.5A239.1,239.1 0 0 1 532.0,407.4L521.6,401.3A227.1,227.1 0 0 0 523.2,398.6ZM304.5,524.6A239.1,239.1 0 0 1 301.2,524.2L302.4,512.3A227.1,227.1 0 0 0 305.6,512.6ZM309.9,525.0A239.1,239.1 0 0 1 306.6,524.7L307.5,512.8A227.1,227.1 0 0 0 310.7,513.0Z" fill="#5fa8a8" fill-opacity="0.56"/>
<path d="M458.3,87.4A239.1,239.1 0 0 1 459.5,88.2L452.8,98.2A227.1,227.1 0 0 0 451.6,97.4Z" fill="#5fa8a8" fill-opacity="0.57"/>
<path d="M332.6,525.4A239.1,239.1 0 0 1 330.5,525.5L330.2,513.5A227.1,227.1 0 0 0 332.2,513.4ZM328.4,525.5A239.1,239.1 0 0 1 326.9,525.5L326.8,513.5A227.1,227.1 0 0 0 328.3,513.5ZM325.4,525.5A239.1,239.1 0 0 1 322.7,525.5L322.9,513.5A227.1,227.1 0 0 0 325.4,513.5ZM354.4,523.8A239.1,239.1 0 0 1 351.7,524.1L350.4,512.2A227.1,227.1 0 0 0 353.0,511.9ZM350.6,524.2A239.1,239.1 0 0 1 349.1,524.4L347.9,512.4A227.1,227.1 0 0 0 349.3,512.3ZM168.2,466.3A239.1,239.1 0 0 1 167.1,465.3L175.1,456.3A227.1,227.1 0 0 0 176.1,457.2ZM89.8,325.3A239.1,239.1 0 0 1 89.6,323.8L101.4,321.9A227.1,227.1 0 0 0 101.7,323.3ZM89.5,323.3A239.1,239.1 0 0 1 89.1,320.6L101.0,318.9A227.1,227.1 0 0 0 101.4,321.4Z" fill="#5fa8a8" fill-opacity="0.62"/>
<path d="M492.7,115.2A239.1,239.1 0 0 1 494.2,116.7L485.7,125.2A227.1,227.1 0 0 0 484.3,123.8ZM495.1,117.6A239.1,239.1 0 0 1 497.0,119.5L488.4,127.9A227.1,227.1 0 0 0 486.6,126.1ZM498.4,121.0A239.1,239.1 0 0 1 499.4,122.1L490.7,130.3A227.1,227.1 0 0 0 489.7,129.3ZM452.4,489.2A239.1,239.1 0 0 1 451.1,490.0L444.8,479.8A227.1,227.1 0 0 0 446.0,479.0ZM279.0,520.9A239.1,239.1 0 0 1 276.4,520.4L278.9,508.6A227.1,227.1 0 0 0 281.4,509.1ZM271.5,519.3A239.1,239.1 0 0 1 269.5,518.8L272.3,507.1A227.1,227.1 0 0 0 274.2,507.6ZM268.8,518.6A239.1,239.1 0 0 1 266.8,518.1L269.8,506.5A227.1,227.1 0 0 0 271.7,507.0ZM415.7,507.9A239.1,239.1 0 0 1 413.2,508.9L408.8,497.8A227.1,227.1 0 0 0 411.2,496.8ZM413.7,508.7A239.1,239.1 0 0 1 411.8,509.5L407.5,498.3A227.1,227.1 0 0 0 409.3,497.6Z" fill="#5fa8a8" fill-opacity="0.66"/>
<path d="M87.6,265.4A239.1,239.1 0 0 1 87.9,262.4L99.8,263.6A227.1,227.1 0 0 0 99.5,266.4ZM118.8,166.7A239.1,239.1 0 0 1 119.8,164.9L130.2,171.0A227.1,227.1 0 0 0 129.2,172.7ZM129.7,149.6A239.1,239.1 0 0 1 131.1,147.6L140.9,154.5A227.1,227.1 0 0 0 139.5,156.5ZM231.2,66.8A239.1,239.1 0 0 1 235.0,65.2L239.6,76.3A227.1,227.1 0 0 0 235.9,77.8ZM325.8,47.3A239.1,239.1 0 0 1 328.3,47.3L328.1,59.3A227.1,227.1 0 0 0 325.8,59.3ZM382.0,54.0A239.1,239.1 0 0 1 385.2,54.8L382.2,66.4A227.1,227.1 0 0 0 379.2,65.7ZM460.7,89.1A239.1,239.1 0 0 1 462.5,90.2L455.6,100.1A227.1,227.1 0 0 0 454.0,99.0ZM427.1,502.9A239.1,239.1 0 0 1 425.8,503.6L420.8,492.7A227.1,227.1 0 0 0 422.1,492.1ZM402.0,513.0A239.1,239.1 0 0 1 398.0,514.3L394.4,502.9A227.1,227.1 0 0 0 398.2,501.6Z" fill="#5fa8a8" fill-opacity="0.67"/>
<path d="M110.4,182.4A239.1,239.1 0 0 1 111.1,181.1L121.9,186.3A227.1,227.1 0 0 0 121.3,187.6ZM506.0,443.5A239.1,239.1 0 0 1 504.3,445.5L495.3,437.5A227.1,227.1 0 0 0 497.0,435.6ZM400.1,513.7A239.1,239.1 0 0 1 398.6,514.1L395.0,502.7A227.1,227.1 0 0 0 396.3,502.3ZM397.0,514.6A239.1,239.1 0 0 1 395.0,515.2L391.6,503.8A227.1,227.1 0 0 0 393.5,503.2Z" fill="#5fa8a8" fill-opacity="0.76"/>
<path d="M116.8,170.1A239.1,239.1 0 0 1 118.1,167.9L128.5,173.9A227.1,227.1 0 0 0 127.3,176.0ZM123.4,159.0A239.1,239.1 0 0 1 124.8,156.9L134.9,163.4A227.1,227.1 0 0 0 133.6,165.4ZM151.5,122.7A239.1,239.1 0 0 1 152.5,121.6L161.2,129.9A227.1,227.1 0 0 0 160.2,130.9ZM257.4,57.3A239.1,239.1 0 0 1 261.5,56.1L264.7,67.7A227.1,227.1 0 0 0 260.9,68.8ZM468.0,478.6A239.1,239.1 0 0 1 466.4,479.8L459.3,470.1A227.1,227.1 0 0 0 460.9,468.9ZM466.1,480.0A239.1,239.1 0 0 1 464.4,481.2L457.5,471.4A227.1,227.1 0 0 0 459.1,470.2ZM454.1,488.1A239.1,239.1 0 0 1 452.8,488.9L446.4,478.8A227.1,227.1 0 0 0 447.6,478.0ZM390.3,516.6A239.1,239.1 0 0 1 388.3,517.2L385.2,505.6A227.1,227.1 0 0 0 387.1,505.1ZM386.7,517.6A239.1,239.1 0 0 1 385.2,518.0L382.3,506.4A227.1,227.1 0 0 0 383.6,506.0ZM276.1,520.3A239.1,239.1 0 0 1 273.5,519.7L276.1,508.0A227.1,227.1 0 0 0 278.6,508.5ZM95.1,349.5A239.1,239.1 0 0 1 94.1,345.5L105.7,342.5A227.1,227.1 0 0 0 106.7,346.3ZM134.3,429.6A239.1,239.1 0 0 1 131.8,426.3L141.6,419.2A227.1,227.1 0 0 0 143.9,422.4Z" fill="#5fa8a8" fill-opacity="0.78"/>
<path d="M89.6,249.0A239.1,239.1 0 0 1 90.1,245.7L102.0,247.7A227.1,227.1 0 0 0 101.4,250.9ZM107.4,189.1A239.1,239.1 0 0 1 108.5,186.6L119.4,191.6A227.1,227.1 0 0 0 118.3,194.0ZM108.6,186.2A239.1,239.1 0 0 1 109.5,184.4L120.4,189.5A227.1,227.1 0 0 0 119.5,191.3ZM111.6,180.2A239.1,239.1 0 0 1 112.5,178.3L123.2,183.7A227.1,227.1 0 0 0 122.3,185.5ZM559.1,338.4A239.1,239.1 0 0 1 558.3,342.0L546.6,339.2A227.1,227.1 0 0 0 547.4,335.7ZM508.0,441.1A239.1,239.1 0 0 1 506.3,443.2L497.2,435.3A227.1,227.1 0 0 0 498.9,433.4ZM441.7,495.5A239.1,239.1 0 0 1 438.0,497.5L432.4,486.9A227.1,227.1 0 0 0 435.9,485.0ZM170.3,468.0A239.1,239.1 0 0 1 169.1,467.1L177.0,458.0A227.1,227.1 0 0 0 178.1,458.9ZM127.8,420.6A239.1,239.1 0 0 1 126.4,418.4L136.4,411.7A227.1,227.1 0 0 0 137.8,413.8ZM125.8,417.5A239.1,239.1 0 0 1 124.6,415.7L134.7,409.2A227.1,227.1 0 0 0 135.8,410.9Z" fill="#5fa8a8" fill-opacity="0.89"/>
<path d="M461.3,466.8A225.7,225.7 0 0 1 459.9,467.9L452.8,458.3A213.7,213.7 0 0 0 454.1,457.2ZM544.6,341.6A225.7,225.7 0 0 1 544.2,343.0L532.6,340.0A213.7,213.7 0 0 0 533.0,338.7ZM504.7,148.9A225.7,225.7 0 0 1 505.8,150.3L496.2,157.6A213.7,213.7 0 0 0 495.2,156.2ZM516.4,165.5A225.7,225.7 0 0 1 517.3,167.0L507.1,173.4A213.7,213.7 0 0 0 506.2,172.0ZM110.9,355.6A225.7,225.7 0 0 1 110.6,354.7L122.1,351.0A213.7,213.7 0 0 0 122.3,351.9ZM551.4,283.4A225.7,225.7 0 0 1 551.4,284.7L539.4,284.8A213.7,213.7 0 0 0 539.4,283.5ZM496.0,434.6A225.7,225.7 0 0 1 495.2,435.5L486.2,427.6A213.7,213.7 0 0 0 486.9,426.7Z" fill="#0a1a80" fill-opacity="0.12"/>
<path d="M522.7,176.1A225.7,225.7 0 0 1 525.5,181.3L514.9,186.9A213.7,213.7 0 0 0 512.2,182.0Z" fill="#0a1a80" fill-opacity="0.13"/>
<path d="M172.5,452.1A225.7,225.7 0 0 1 168.3,448.1L176.6,439.5A213.7,213.7 0 0 0 180.7,443.3ZM207.8,478.8A225.7,225.7 0 0 1 201.2,474.6L207.8,464.6A213.7,213.7 0 0 0 214.1,468.6ZM410.7,495.5A225.7,225.7 0 0 1 406.3,497.2L402.0,486.0A213.7,213.7 0 0 0 406.1,484.4Z" fill="#0a1a80" fill-opacity="0.17"/>
<path d="M174.6,118.8A225.7,225.7 0 0 1 175.4,118.1L183.4,127.1A213.7,213.7 0 0 0 182.7,127.7ZM234.0,492.6A225.7,225.7 0 0 1 232.7,492.0L237.7,481.1A213.7,213.7 0 0 0 238.9,481.6ZM100.7,269.6A225.7,225.7 0 0 1 100.7,268.7L112.7,269.6A213.7,213.7 0 0 0 112.6,270.5ZM471.7,458.6A225.7,225.7 0 0 1 470.3,459.7L462.7,450.5A213.7,213.7 0 0 0 463.9,449.4ZM322.4,60.7A225.7,225.7 0 0 1 323.6,60.7L323.7,72.7A213.7,213.7 0 0 0 322.6,72.7ZM375.9,506.5A225.7,225.7 0 0 1 374.5,506.8L371.9,495.1A213.7,213.7 0 0 0 373.2,494.8Z" fill="#0a1a80" fill-opacity="0.18"/>
<path d="M100.1,285.6A225.7,225.7 0 0 1 100.1,283.2L112.1,283.4A213.7,213.7 0 0 0 112.1,285.7Z" fill="#0a1a80" fill-opacity="0.22"/>
<path d="M422.0,490.5A225.7,225.7 0 0 1 416.6,493.0L411.8,482.0A213.7,213.7 0 0 0 416.9,479.7Z" fill="#0a1a80" fill-opacity="0.23"/>
<path d="M545.2,339.2A225.7,225.7 0 0 1 545.0,340.2L533.3,337.3A213.7,213.7 0 0 0 533.5,336.4ZM531.5,193.6A225.7,225.7 0 0 1 532.0,194.7L521.0,199.5A213.7,213.7 0 0 0 520.5,198.5ZM541.6,220.5A225.7,225.7 0 0 1 541.9,221.4L530.4,224.9A213.7,213.7 0 0 0 530.1,224.0ZM358.7,509.7A225.7,225.7 0 0 1 357.5,509.9L355.8,498.0A213.7,213.7 0 0 0 356.9,497.8ZM371.5,507.4A225.7,225.7 0 0 1 370.4,507.6L368.0,495.9A213.7,213.7 0 0 0 369.1,495.7Z" fill="#0a1a80" fill-opacity="0.25"/>
<path d="M362.8,509.0A225.7,225.7 0 0 1 361.8,509.2L359.9,497.4A213.7,213.7 0 0 0 360.8,497.2ZM221.7,86.1A225.7,225.7 0 0 1 222.9,85.5L228.4,96.2A213.7,213.7 0 0 0 227.2,96.8ZM108.9,223.9A225.7,225.7 0 0 1 109.4,222.2L120.9,225.6A213.7,213.7 0 0 0 120.4,227.2ZM329.4,512.1A225.7,225.7 0 0 1 328.4,512.1L328.3,500.1A213.7,213.7 0 0 0 329.2,500.1ZM124.0,387.5A225.7,225.7 0 0 1 123.4,386.5L134.2,381.1A213.7,213.7 0 0 0 134.7,382.1ZM463.5,465.2A225.7,225.7 0 0 1 462.4,466.0L455.1,456.5A213.7,213.7 0 0 0 456.2,455.7Z" fill="#0a1a80" fill-opacity="0.32"/>
<path d="M117.4,199.7A225.7,225.7 0 0 1 118.3,197.5L129.3,202.2A213.7,213.7 0 0 0 128.5,204.3ZM211.0,92.0A225.7,225.7 0 0 1 212.7,91.0L218.7,101.4A213.7,213.7 0 0 0 217.1,102.4ZM428.6,85.5A225.7,225.7 0 0 1 430.7,86.6L425.1,97.2A213.7,213.7 0 0 0 423.1,96.2ZM231.8,491.6A225.7,225.7 0 0 1 229.7,490.6L234.8,479.8A213.7,213.7 0 0 0 236.8,480.7Z" fill="#0a1a80" fill-opacity="0.33"/>
<path d="M523.0,176.6A225.7,225.7 0 0 1 523.9,178.4L513.4,184.1A213.7,213.7 0 0 0 512.5,182.5ZM524.7,179.8A225.7,225.7 0 0 1 525.4,181.1L514.8,186.7A213.7,213.7 0 0 0 514.1,185.5Z" fill="#0a1a80" fill-opacity="0.37"/>
<path d="M169.8,449.6A225.7,225.7 0 0 1 168.8,448.6L177.1,440.0A213.7,213.7 0 0 0 178.1,440.9ZM410.5,495.6A225.7,225.7 0 0 1 408.7,496.3L404.2,485.2A213.7,213.7 0 0 0 406.0,484.5ZM408.2,496.5A225.7,225.7 0 0 1 405.9,497.4L401.6,486.2A213.7,213.7 0 0 0 403.9,485.3Z" fill="#0a1a80" fill-opacity="0.39"/>
<path d="M320.6,60.8A225.7,225.7 0 0 1 323.0,60.7L323.1,72.7A213.7,213.7 0 0 0 320.9,72.8ZM335.0,60.9A225.7,225.7 0 0 1 337.0,61.0L336.4,73.0A213.7,213.7 0 0 0 334.5,72.9ZM364.4,64.0A225.7,225.7 0 0 1 366.3,64.4L364.1,76.2A213.7,213.7 0 0 0 362.3,75.9ZM538.5,211.1A225.7,225.7 0 0 1 539.5,214.0L528.2,217.9A213.7,213.7 0 0 0 527.2,215.1ZM213.1,482.0A225.7,225.7 0 0 1 210.7,480.6L216.8,470.2A213.7,213.7 0 0 0 219.1,471.6ZM117.5,373.5A225.7,225.7 0 0 1 116.0,369.9L127.2,365.4A213.7,213.7 0 0 0 128.6,368.9Z" fill="#0a1a80" fill-opacity="0.44"/>
<path d="M119.6,194.6A225.7,225.7 0 0 1 124.6,183.9L135.3,189.4A213.7,213.7 0 0 0 130.5,199.5ZM159.1,134.2A225.7,225.7 0 0 1 162.3,130.8L171.0,139.0A213.7,213.7 0 0 0 167.9,142.3ZM450.7,98.4A225.7,225.7 0 0 1 454.6,101.1L447.7,110.9A213.7,213.7 0 0 0 444.0,108.4ZM483.2,124.7A225.7,225.7 0 0 1 490.1,131.8L481.4,140.0A213.7,213.7 0 0 0 474.9,133.3ZM448.0,476.1A225.7,225.7 0 0 1 437.9,482.3L432.0,471.8A213.7,213.7 0 0 0 441.5,466.0ZM387.0,503.6A225.7,225.7 0 0 1 381.3,505.2L378.4,493.5A213.7,213.7 0 0 0 383.8,492.1ZM282.3,507.9A225.7,225.7 0 0 1 269.2,504.9L272.2,493.3A213.7,213.7 0 0 0 284.6,496.1ZM332.8,512.0A225.7,225.7 0 0 1 322.6,512.1L322.8,500.1A213.7,213.7 0 0 0 332.5,500.0ZM353.6,510.4A225.7,225.7 0 0 1 346.6,511.1L345.5,499.2A213.7,213.7 0 0 0 352.2,498.5ZM397.4,500.4A225.7,225.7 0 0 1 389.9,502.8L386.4,491.3A213.7,213.7 0 0 0 393.6,489.1Z" fill="#0a1a80" fill-opacity="0.45"/>
<path d="M207.0,478.3A225.7,225.7 0 0 1 205.8,477.6L212.1,467.4A213.7,213.7 0 0 0 213.3,468.1Z" fill="#0a1a80" fill-opacity="0.48"/>
<path d="M421.2,490.9A225.7,225.7 0 0 1 419.9,491.5L414.9,480.6A213.7,213.7 0 0 0 416.1,480.0ZM418.5,492.2A225.7,225.7 0 0 1 416.7,493.0L411.8,482.0A213.7,213.7 0 0 0 413.5,481.2Z" fill="#0a1a80" fill-opacity="0.55"/>
<path d="M180.1,114.0A225.7,225.7 0 0 1 182.5,112.0L190.1,121.3A213.7,213.7 0 0 0 187.8,123.2ZM493.7,135.7A225.7,225.7 0 0 1 495.8,138.0L486.8,145.9A213.7,213.7 0 0 0 484.8,143.7ZM551.4,284.4A225.7,225.7 0 0 1 551.4,287.6L539.4,287.5A213.7,213.7 0 0 0 539.4,284.5ZM551.4,287.2A225.7,225.7 0 0 1 551.4,290.3L539.4,290.1A213.7,213.7 0 0 0 539.4,287.1ZM504.2,424.6A225.7,225.7 0 0 1 503.0,426.1L493.6,418.7A213.7,213.7 0 0 0 494.7,417.2ZM305.7,511.2A225.7,225.7 0 0 1 302.5,510.9L303.8,499.0A213.7,213.7 0 0 0 306.8,499.3ZM310.8,511.6A225.7,225.7 0 0 1 307.6,511.4L308.6,499.4A213.7,213.7 0 0 0 311.6,499.6ZM172.0,451.7A225.7,225.7 0 0 1 170.6,450.3L178.9,441.6A213.7,213.7 0 0 0 180.2,442.9ZM203.6,476.2A225.7,225.7 0 0 1 201.5,474.8L208.1,464.8A213.7,213.7 0 0 0 210.1,466.1Z" fill="#0a1a80" fill-opacity="0.56"/>
<path d="M119.8,194.1A225.7,225.7 0 0 1 120.6,192.3L131.5,197.3A213.7,213.7 0 0 0 130.7,199.0ZM123.4,186.5A225.7,225.7 0 0 1 124.5,184.2L135.2,189.7A213.7,213.7 0 0 0 134.1,191.8ZM483.4,124.9A225.7,225.7 0 0 1 485.2,126.7L476.7,135.1A213.7,213.7 0 0 0 475.0,133.5ZM485.8,127.2A225.7,225.7 0 0 1 487.5,129.0L478.9,137.4A213.7,213.7 0 0 0 477.3,135.7ZM442.1,479.8A225.7,225.7 0 0 1 440.9,480.5L434.8,470.2A213.7,213.7 0 0 0 435.9,469.5ZM439.5,481.3A225.7,225.7 0 0 1 438.3,482.1L432.3,471.7A213.7,213.7 0 0 0 433.4,471.0ZM275.1,506.3A225.7,225.7 0 0 1 273.7,506.0L276.5,494.3A213.7,213.7 0 0 0 277.8,494.6ZM352.3,510.5A225.7,225.7 0 0 1 350.4,510.8L349.1,498.8A213.7,213.7 0 0 0 350.9,498.6ZM396.8,500.6A225.7,225.7 0 0 1 395.0,501.2L391.3,489.8A213.7,213.7 0 0 0 393.1,489.2Z" fill="#0a1a80" fill-opacity="0.62"/>
<path d="M100.9,266.5A225.7,225.7 0 0 1 101.2,263.8L113.1,265.0A213.7,213.7 0 0 0 112.9,267.6ZM140.6,157.3A225.7,225.7 0 0 1 142.0,155.3L151.8,162.3A213.7,213.7 0 0 0 150.5,164.1ZM236.5,79.1A225.7,225.7 0 0 1 240.1,77.6L244.7,88.7A213.7,213.7 0 0 0 241.2,90.1ZM350.5,62.1A225.7,225.7 0 0 1 352.9,62.3L351.4,74.2A213.7,213.7 0 0 0 349.2,74.0ZM522.0,397.9A225.7,225.7 0 0 1 520.4,400.6L510.1,394.5A213.7,213.7 0 0 0 511.6,392.0ZM145.0,421.6A225.7,225.7 0 0 1 142.7,418.4L152.4,411.4A213.7,213.7 0 0 0 154.6,414.4Z" fill="#0a1a80" fill-opacity="0.67"/>
<path d="M445.6,477.7A225.7,225.7 0 0 1 443.9,478.7L437.6,468.5A213.7,213.7 0 0 0 439.2,467.5ZM386.8,503.7A225.7,225.7 0 0 1 384.9,504.2L381.7,492.6A213.7,213.7 0 0 0 383.5,492.1ZM382.9,504.8A225.7,225.7 0 0 1 381.5,505.1L378.5,493.5A213.7,213.7 0 0 0 379.8,493.1ZM281.8,507.8A225.7,225.7 0 0 1 280.4,507.5L282.8,495.7A213.7,213.7 0 0 0 284.1,496.0ZM278.7,507.1A225.7,225.7 0 0 1 276.2,506.6L278.8,494.9A213.7,213.7 0 0 0 281.2,495.4ZM392.6,502.0A225.7,225.7 0 0 1 390.2,502.7L386.8,491.2A213.7,213.7 0 0 0 389.1,490.5Z" fill="#0a1a80" fill-opacity="0.76"/>
<path d="M130.4,173.4A225.7,225.7 0 0 1 131.4,171.7L141.7,177.8A213.7,213.7 0 0 0 140.8,179.4ZM261.3,70.1A225.7,225.7 0 0 1 265.1,69.0L268.3,80.6A213.7,213.7 0 0 0 264.7,81.6ZM325.8,60.7A225.7,225.7 0 0 1 328.1,60.7L328.0,72.7A213.7,213.7 0 0 0 325.8,72.7Z" fill="#0a1a80" fill-opacity="0.78"/>
<path d="M121.4,190.7A225.7,225.7 0 0 1 122.0,189.4L132.8,194.6A213.7,213.7 0 0 0 132.2,195.8ZM122.1,189.2A225.7,225.7 0 0 1 123.2,186.9L133.9,192.2A213.7,213.7 0 0 0 132.9,194.3ZM128.5,176.6A225.7,225.7 0 0 1 129.7,174.6L140.1,180.5A213.7,213.7 0 0 0 139.0,182.5ZM134.8,166.1A225.7,225.7 0 0 1 136.0,164.1L146.1,170.6A213.7,213.7 0 0 0 144.9,172.5ZM159.5,133.7A225.7,225.7 0 0 1 160.9,132.3L169.6,140.5A213.7,213.7 0 0 0 168.4,141.9ZM160.6,132.5A225.7,225.7 0 0 1 162.4,130.7L171.1,139.0A213.7,213.7 0 0 0 169.4,140.7ZM378.8,67.0A225.7,225.7 0 0 1 381.9,67.8L378.9,79.4A213.7,213.7 0 0 0 376.0,78.7ZM451.3,98.8A225.7,225.7 0 0 1 452.9,99.9L446.1,109.8A213.7,213.7 0 0 0 444.6,108.8ZM453.0,100.0A225.7,225.7 0 0 1 455.1,101.4L448.2,111.3A213.7,213.7 0 0 0 446.2,109.9ZM487.7,129.2A225.7,225.7 0 0 1 489.5,131.1L480.8,139.3A213.7,213.7 0 0 0 479.1,137.6ZM447.4,476.5A225.7,225.7 0 0 1 446.3,477.2L439.8,467.1A213.7,213.7 0 0 0 441.0,466.4ZM397.7,500.3A225.7,225.7 0 0 1 394.0,501.5L390.4,490.1A213.7,213.7 0 0 0 393.9,488.9ZM271.5,505.5A225.7,225.7 0 0 1 269.6,505.0L272.6,493.4A213.7,213.7 0 0 0 274.4,493.8ZM332.7,512.0A225.7,225.7 0 0 1 330.7,512.0L330.4,500.0A213.7,213.7 0 0 0 332.3,500.0ZM328.4,512.1A225.7,225.7 0 0 1 327.0,512.1L326.9,500.1A213.7,213.7 0 0 0 328.2,500.1ZM325.9,512.1A225.7,225.7 0 0 1 323.4,512.1L323.5,500.1A213.7,213.7 0 0 0 325.9,500.1ZM349.4,510.9A225.7,225.7 0 0 1 347.5,511.1L346.3,499.1A213.7,213.7 0 0 0 348.2,498.9ZM108.0,346.0A225.7,225.7 0 0 1 107.0,342.1L118.7,339.2A213.7,213.7 0 0 0 119.6,342.8Z" fill="#0a1a80" fill-opacity="0.89"/>
<path d="M102.8,251.1A225.7,225.7 0 0 1 103.3,248.0L115.2,250.0A213.7,213.7 0 0 0 114.7,253.0ZM460.3,105.2A225.7,225.7 0 0 1 464.1,108.1L456.7,117.5A213.7,213.7 0 0 0 453.2,114.8ZM546.1,335.4A225.7,225.7 0 0 1 545.3,338.9L533.6,336.1A213.7,213.7 0 0 0 534.3,332.8ZM497.9,432.4A225.7,225.7 0 0 1 494.3,436.5L485.3,428.6A213.7,213.7 0 0 0 488.7,424.6ZM460.8,467.2A225.7,225.7 0 0 1 456.0,470.7L449.1,460.9A213.7,213.7 0 0 0 453.6,457.6ZM435.2,483.8A225.7,225.7 0 0 1 431.7,485.7L426.1,475.1A213.7,213.7 0 0 0 429.4,473.3ZM179.5,458.3A225.7,225.7 0 0 1 175.9,455.2L183.9,446.2A213.7,213.7 0 0 0 187.2,449.1ZM103.1,323.3A225.7,225.7 0 0 1 102.4,318.6L114.2,316.9A213.7,213.7 0 0 0 114.9,321.3ZM139.3,413.6A225.7,225.7 0 0 1 135.8,408.3L145.9,401.8A213.7,213.7 0 0 0 149.2,406.8Z" fill="#0a1a80" fill-opacity="1.0"/>
<path d="M523.6,363.4A212.3,212.3 0 0 1 523.1,364.6L512.0,360.2A200.3,200.3 0 0 0 512.4,359.0ZM482.9,143.6A212.3,212.3 0 0 1 483.7,144.6L474.8,152.6A200.3,200.3 0 0 0 474.0,151.7ZM334.7,498.5A212.3,212.3 0 0 1 333.0,498.6L332.6,486.6A200.3,200.3 0 0 0 334.1,486.5ZM414.5,479.3A212.3,212.3 0 0 1 413.3,479.8L408.4,468.9A200.3,200.3 0 0 0 409.5,468.4ZM134.2,377.9A212.3,212.3 0 0 1 133.5,376.4L144.4,371.3A200.3,200.3 0 0 0 145.0,372.8ZM356.7,496.4A212.3,212.3 0 0 1 355.6,496.6L353.9,484.7A200.3,200.3 0 0 0 355.0,484.6ZM325.2,74.1A212.3,212.3 0 0 1 326.1,74.1L326.1,86.1A200.3,200.3 0 0 0 325.3,86.1ZM329.2,498.7A212.3,212.3 0 0 1 328.3,498.7L328.1,486.7A200.3,200.3 0 0 0 329.0,486.7ZM215.3,467.7A212.3,212.3 0 0 1 214.5,467.2L220.8,457.0A200.3,200.3 0 0 0 221.6,457.5ZM455.3,454.6A212.3,212.3 0 0 1 454.3,455.4L447.0,445.8A200.3,200.3 0 0 0 448.0,445.1Z" fill="#66ee66" fill-opacity="0.12"/>
<path d="M214.8,467.4A212.3,212.3 0 0 1 208.6,463.4L215.2,453.4A200.3,200.3 0 0 0 221.1,457.2Z" fill="#66ee66" fill-opacity="0.13"/>
<path d="M511.0,182.7A212.3,212.3 0 0 1 513.6,187.6L503.0,193.1A200.3,200.3 0 0 0 500.5,188.5Z" fill="#66ee66" fill-opacity="0.17"/>
<path d="M453.3,456.1A212.3,212.3 0 0 1 451.9,457.1L444.8,447.5A200.3,200.3 0 0 0 446.1,446.5ZM116.9,324.7A212.3,212.3 0 0 1 116.6,323.1L128.5,321.0A200.3,200.3 0 0 0 128.7,322.6ZM121.8,227.6A212.3,212.3 0 0 1 122.2,226.0L133.7,229.4A200.3,200.3 0 0 0 133.3,230.9ZM377.9,492.2A212.3,212.3 0 0 1 376.8,492.5L373.9,480.8A200.3,200.3 0 0 0 375.0,480.6ZM519.3,199.1A212.3,212.3 0 0 1 519.7,200.1L508.8,205.0A200.3,200.3 0 0 0 508.3,204.0ZM130.7,202.6A212.3,212.3 0 0 1 131.1,201.6L142.1,206.4A200.3,200.3 0 0 0 141.7,207.3ZM198.4,456.2A212.3,212.3 0 0 1 197.3,455.5L204.6,445.9A200.3,200.3 0 0 0 205.6,446.6ZM366.3,494.8A212.3,212.3 0 0 1 365.2,495.0L363.0,483.2A200.3,200.3 0 0 0 364.0,483.0ZM372.9,493.4A212.3,212.3 0 0 1 371.6,493.7L369.0,482.0A200.3,200.3 0 0 0 370.2,481.7ZM136.0,381.5A212.3,212.3 0 0 1 135.5,380.5L146.2,375.2A200.3,200.3 0 0 0 146.7,376.1ZM502.2,404.5A212.3,212.3 0 0 1 501.3,405.8L491.3,399.1A200.3,200.3 0 0 0 492.2,397.8ZM114.4,306.0A212.3,212.3 0 0 1 114.2,304.3L126.2,303.3A200.3,200.3 0 0 0 126.3,304.9Z" fill="#66ee66" fill-opacity="0.18"/>
<path d="M443.2,109.6A212.3,212.3 0 0 1 446.9,112.1L440.1,121.9A200.3,200.3 0 0 0 436.6,119.6ZM150.4,406.0A212.3,212.3 0 0 1 147.1,401.1L157.2,394.6A200.3,200.3 0 0 0 160.3,399.3Z" fill="#66ee66" fill-opacity="0.2"/>
<path d="M325.8,74.1A212.3,212.3 0 0 1 328.0,74.1L327.8,86.1A200.3,200.3 0 0 0 325.8,86.1ZM334.5,74.3A212.3,212.3 0 0 1 336.3,74.4L335.7,86.3A200.3,200.3 0 0 0 334.0,86.3Z" fill="#66ee66" fill-opacity="0.22"/>
<path d="M162.1,421.7A212.3,212.3 0 0 1 161.1,420.4L170.4,412.8A200.3,200.3 0 0 0 171.4,414.0ZM239.4,480.4A212.3,212.3 0 0 1 238.3,479.8L243.2,468.9A200.3,200.3 0 0 0 244.3,469.4ZM123.7,351.5A212.3,212.3 0 0 1 123.4,350.6L134.8,347.0A200.3,200.3 0 0 0 135.1,347.8ZM145.4,398.3A212.3,212.3 0 0 1 144.7,397.2L154.9,391.0A200.3,200.3 0 0 0 155.6,392.0ZM157.3,157.2A212.3,212.3 0 0 1 157.8,156.5L167.3,163.8A200.3,200.3 0 0 0 166.8,164.5ZM451.6,115.4A212.3,212.3 0 0 1 452.4,116.1L445.3,125.7A200.3,200.3 0 0 0 444.4,125.1ZM522.5,206.7A212.3,212.3 0 0 1 522.9,207.7L511.8,212.2A200.3,200.3 0 0 0 511.4,211.2ZM322.6,74.1A212.3,212.3 0 0 1 323.8,74.1L323.9,86.1A200.3,200.3 0 0 0 322.8,86.1ZM298.8,75.8A212.3,212.3 0 0 1 300.1,75.7L301.5,87.6A200.3,200.3 0 0 0 300.3,87.7Z" fill="#66ee66" fill-opacity="0.25"/>
<path d="M532.2,336.1A212.3,212.3 0 0 1 531.9,337.0L520.3,334.1A200.3,200.3 0 0 0 520.5,333.3ZM531.6,338.4A212.3,212.3 0 0 1 531.3,339.6L519.7,336.6A200.3,200.3 0 0 0 520.0,335.4ZM494.1,157.1A212.3,212.3 0 0 1 495.1,158.4L485.6,165.6A200.3,200.3 0 0 0 484.6,164.4ZM183.6,128.7A212.3,212.3 0 0 1 184.3,128.1L192.3,137.0A200.3,200.3 0 0 0 191.6,137.6ZM505.0,172.7A212.3,212.3 0 0 1 505.9,174.1L495.8,180.5A200.3,200.3 0 0 0 494.9,179.1ZM328.6,498.7A212.3,212.3 0 0 1 327.0,498.7L326.9,486.7A200.3,200.3 0 0 0 328.5,486.7ZM455.3,118.2A212.3,212.3 0 0 1 456.2,118.9L448.8,128.4A200.3,200.3 0 0 0 448.0,127.7ZM488.6,150.2A212.3,212.3 0 0 1 489.7,151.5L480.4,159.1A200.3,200.3 0 0 0 479.4,157.9ZM538.0,283.5A212.3,212.3 0 0 1 538.0,284.8L526.0,284.9A200.3,200.3 0 0 0 526.0,283.7ZM485.9,425.8A212.3,212.3 0 0 1 485.1,426.6L476.1,418.7A200.3,200.3 0 0 0 476.8,417.9ZM243.1,90.9A212.3,212.3 0 0 1 244.1,90.4L248.7,101.5A200.3,200.3 0 0 0 247.7,101.9ZM198.5,456.4A212.3,212.3 0 0 1 197.8,455.8L205.0,446.2A200.3,200.3 0 0 0 205.7,446.7Z" fill="#66ee66" fill-opacity="0.32"/>
<path d="M129.8,204.8A212.3,212.3 0 0 1 130.6,202.8L141.6,207.5A200.3,200.3 0 0 0 140.8,209.4ZM349.0,75.4A212.3,212.3 0 0 1 351.3,75.6L349.8,87.6A200.3,200.3 0 0 0 347.7,87.3ZM526.2,356.4A212.3,212.3 0 0 1 525.6,358.1L514.3,354.1A200.3,200.3 0 0 0 514.9,352.4Z" fill="#66ee66" fill-opacity="0.33"/>
<path d="M210.3,464.6A212.3,212.3 0 0 1 209.2,463.9L215.8,453.8A200.3,200.3 0 0 0 216.8,454.5Z" fill="#66ee66" fill-opacity="0.37"/>
<path d="M512.6,185.6A212.3,212.3 0 0 1 513.2,186.7L502.6,192.4A200.3,200.3 0 0 0 502.0,191.3Z" fill="#66ee66" fill-opacity="0.39"/>
<path d="M219.8,470.3A212.3,212.3 0 0 1 217.5,469.0L223.6,458.7A200.3,200.3 0 0 0 225.8,460.0ZM155.8,413.6A212.3,212.3 0 0 1 153.6,410.6L163.3,403.6A200.3,200.3 0 0 0 165.4,406.4ZM214.2,467.0A212.3,212.3 0 0 1 212.6,466.1L219.0,455.9A200.3,200.3 0 0 0 220.5,456.8ZM225.4,473.5A212.3,212.3 0 0 1 223.5,472.4L229.3,461.9A200.3,200.3 0 0 0 231.1,462.9ZM237.4,479.4A212.3,212.3 0 0 1 235.4,478.5L240.5,467.6A200.3,200.3 0 0 0 242.4,468.5Z" fill="#66ee66" fill-opacity="0.44"/>
<path d="M131.8,200.0A212.3,212.3 0 0 1 136.6,190.0L147.3,195.5A200.3,200.3 0 0 0 142.8,204.9ZM473.9,134.3A212.3,212.3 0 0 1 480.4,140.9L471.6,149.2A200.3,200.3 0 0 0 465.5,142.9ZM487.7,423.7A212.3,212.3 0 0 1 484.3,427.6L475.3,419.6A200.3,200.3 0 0 0 478.5,416.0ZM284.9,494.7A212.3,212.3 0 0 1 272.6,491.9L275.6,480.3A200.3,200.3 0 0 0 287.2,483.0ZM332.4,498.6A212.3,212.3 0 0 1 322.8,498.7L323.0,486.7A200.3,200.3 0 0 0 332.0,486.6ZM352.0,497.1A212.3,212.3 0 0 1 345.4,497.8L344.3,485.8A200.3,200.3 0 0 0 350.5,485.2Z" fill="#66ee66" fill-opacity="0.45"/>
<path d="M443.8,110.0A212.3,212.3 0 0 1 444.9,110.7L438.2,120.7A200.3,200.3 0 0 0 437.2,119.9Z" fill="#66ee66" fill-opacity="0.47"/>
<path d="M265.1,82.9A212.3,212.3 0 0 1 268.7,81.9L271.9,93.5A200.3,200.3 0 0 0 268.5,94.4ZM511.2,183.1A212.3,212.3 0 0 1 512.1,184.7L501.6,190.5A200.3,200.3 0 0 0 500.7,189.0ZM538.0,287.1A212.3,212.3 0 0 1 538.0,290.1L526.0,289.9A200.3,200.3 0 0 0 526.0,287.1ZM303.2,497.5A212.3,212.3 0 0 1 300.2,497.2L301.7,485.2A200.3,200.3 0 0 0 304.5,485.6ZM311.7,498.2A212.3,212.3 0 0 1 308.7,498.0L309.7,486.1A200.3,200.3 0 0 0 312.5,486.3ZM116.5,322.5A212.3,212.3 0 0 1 116.2,320.3L128.0,318.4A200.3,200.3 0 0 0 128.4,320.5ZM129.9,368.3A212.3,212.3 0 0 1 128.5,364.9L139.6,360.5A200.3,200.3 0 0 0 141.0,363.7Z" fill="#66ee66" fill-opacity="0.56"/>
<path d="M445.0,110.8A212.3,212.3 0 0 1 446.6,111.8L439.7,121.7A200.3,200.3 0 0 0 438.3,120.7Z" fill="#66ee66" fill-opacity="0.57"/>
<path d="M132.0,199.6A212.3,212.3 0 0 1 132.8,197.9L143.7,202.9A200.3,200.3 0 0 0 142.9,204.5ZM133.2,197.0A212.3,212.3 0 0 1 134.0,195.3L144.8,200.5A200.3,200.3 0 0 0 144.1,202.0ZM474.3,134.7A212.3,212.3 0 0 1 475.9,136.4L467.5,144.8A200.3,200.3 0 0 0 465.9,143.3ZM284.9,494.7A212.3,212.3 0 0 1 282.5,494.3L285.0,482.5A200.3,200.3 0 0 0 287.2,483.0ZM281.7,494.1A212.3,212.3 0 0 1 279.8,493.7L282.4,482.0A200.3,200.3 0 0 0 284.1,482.3ZM277.5,493.1A212.3,212.3 0 0 1 276.2,492.8L279.0,481.2A200.3,200.3 0 0 0 280.2,481.5ZM331.9,498.6A212.3,212.3 0 0 1 329.5,498.7L329.3,486.7A200.3,200.3 0 0 0 331.6,486.6ZM327.7,498.7A212.3,212.3 0 0 1 326.4,498.7L326.4,486.7A200.3,200.3 0 0 0 327.6,486.7Z" fill="#66ee66" fill-opacity="0.62"/>
<path d="M113.5,285.7A212.3,212.3 0 0 1 113.5,283.4L125.5,283.6A200.3,200.3 0 0 0 125.5,285.7ZM142.0,180.1A212.3,212.3 0 0 1 142.9,178.5L153.3,184.6A200.3,200.3 0 0 0 152.4,186.1ZM148.2,170.0A212.3,212.3 0 0 1 149.2,168.5L159.2,175.1A200.3,200.3 0 0 0 158.2,176.6ZM188.7,124.2A212.3,212.3 0 0 1 191.0,122.3L198.6,131.6A200.3,200.3 0 0 0 196.5,133.4ZM537.1,266.4A212.3,212.3 0 0 1 537.4,270.1L525.5,271.0A200.3,200.3 0 0 0 525.2,267.6ZM535.9,316.7A212.3,212.3 0 0 1 535.4,319.6L523.6,317.7A200.3,200.3 0 0 0 524.0,315.0ZM115.3,314.5A212.3,212.3 0 0 1 115.0,312.3L126.9,310.8A200.3,200.3 0 0 0 127.2,312.9ZM150.1,405.6A212.3,212.3 0 0 1 149.3,404.5L159.3,397.8A200.3,200.3 0 0 0 160.0,398.9ZM148.5,403.3A212.3,212.3 0 0 1 147.2,401.3L157.3,394.8A200.3,200.3 0 0 0 158.5,396.6Z" fill="#66ee66" fill-opacity="0.67"/>
<path d="M134.1,195.0A212.3,212.3 0 0 1 134.9,193.4L145.7,198.6A200.3,200.3 0 0 0 145.0,200.2ZM135.6,192.1A212.3,212.3 0 0 1 136.2,190.9L146.9,196.3A200.3,200.3 0 0 0 146.3,197.4ZM476.6,137.0A212.3,212.3 0 0 1 477.5,137.9L468.9,146.3A200.3,200.3 0 0 0 468.1,145.4ZM478.9,139.4A212.3,212.3 0 0 1 480.2,140.7L471.5,149.0A200.3,200.3 0 0 0 470.3,147.7ZM485.6,426.1A212.3,212.3 0 0 1 484.4,427.5L475.4,419.5A200.3,200.3 0 0 0 476.5,418.2ZM274.7,492.5A212.3,212.3 0 0 1 272.9,492.0L275.9,480.4A200.3,200.3 0 0 0 277.6,480.8ZM350.8,497.2A212.3,212.3 0 0 1 349.0,497.4L347.7,485.5A200.3,200.3 0 0 0 349.4,485.3Z" fill="#66ee66" fill-opacity="0.76"/>
<path d="M140.2,183.2A212.3,212.3 0 0 1 141.3,181.2L151.8,187.2A200.3,200.3 0 0 0 150.7,189.0ZM146.1,173.3A212.3,212.3 0 0 1 147.3,171.4L157.4,177.9A200.3,200.3 0 0 0 156.3,179.7ZM121.0,342.4A212.3,212.3 0 0 1 120.0,338.8L131.7,335.9A200.3,200.3 0 0 0 132.5,339.3Z" fill="#66ee66" fill-opacity="0.78"/>
<path d="M116.1,253.2A212.3,212.3 0 0 1 116.5,250.3L128.4,252.3A200.3,200.3 0 0 0 127.9,255.1ZM518.6,197.7A212.3,212.3 0 0 1 520.1,201.1L509.2,205.9A200.3,200.3 0 0 0 507.7,202.7ZM533.0,332.5A212.3,212.3 0 0 1 532.2,335.8L520.6,333.0A200.3,200.3 0 0 0 521.3,329.9ZM510.3,391.3A212.3,212.3 0 0 1 508.9,393.8L498.5,387.8A200.3,200.3 0 0 0 499.9,385.3ZM487.3,424.2A212.3,212.3 0 0 1 485.7,426.0L476.7,418.1A200.3,200.3 0 0 0 478.1,416.4ZM325.6,498.7A212.3,212.3 0 0 1 323.8,498.7L323.9,486.7A200.3,200.3 0 0 0 325.6,486.7ZM347.5,497.6A212.3,212.3 0 0 1 345.6,497.8L344.5,485.8A200.3,200.3 0 0 0 346.2,485.7Z" fill="#66ee66" fill-opacity="0.89"/>
<path d="M373.1,79.5A212.3,212.3 0 0 1 376.0,80.1L373.2,91.8A200.3,200.3 0 0 0 370.5,91.2ZM378.5,80.8A212.3,212.3 0 0 1 381.4,81.5L378.3,93.1A200.3,200.3 0 0 0 375.6,92.4ZM382.8,81.9A212.3,212.3 0 0 1 385.7,82.7L382.3,94.2A200.3,200.3 0 0 0 379.6,93.5ZM188.2,448.1A212.3,212.3 0 0 1 184.8,445.2L192.8,436.2A200.3,200.3 0 0 0 195.9,438.9Z" fill="#66ee66" fill-opacity="1.0"/>
<path d="M444.3,126.7A198.9,198.9 0 0 1 447.7,129.2L440.3,138.7A186.9,186.9 0 0 0 437.2,136.4ZM499.3,189.2A198.9,198.9 0 0 1 501.8,193.8L491.2,199.4A186.9,186.9 0 0 0 488.8,195.1ZM221.8,456.0A198.9,198.9 0 0 1 216.0,452.3L222.6,442.3A186.9,186.9 0 0 0 228.1,445.8Z" fill="#e81010" fill-opacity="0.1"/>
<path d="M126.9,285.7A198.9,198.9 0 0 1 126.9,283.6L138.9,283.8A186.9,186.9 0 0 0 138.9,285.7Z" fill="#e81010" fill-opacity="0.11"/>
<path d="M519.1,332.9A198.9,198.9 0 0 1 518.9,333.8L507.3,330.9A186.9,186.9 0 0 0 507.5,330.1ZM445.2,445.4A198.9,198.9 0 0 1 444.0,446.3L436.8,436.7A186.9,186.9 0 0 0 438.0,435.8ZM144.7,204.1A198.9,198.9 0 0 1 145.1,203.1L156.0,208.2A186.9,186.9 0 0 0 155.6,209.0ZM317.4,87.7A198.9,198.9 0 0 1 319.0,87.6L319.4,99.6A186.9,186.9 0 0 0 317.9,99.7ZM130.1,322.3A198.9,198.9 0 0 1 129.8,320.8L141.7,318.7A186.9,186.9 0 0 0 141.9,320.1ZM358.2,482.6A198.9,198.9 0 0 1 356.7,482.9L354.8,471.0A186.9,186.9 0 0 0 356.3,470.8ZM134.6,231.3A198.9,198.9 0 0 1 135.1,229.8L146.6,233.2A186.9,186.9 0 0 0 146.2,234.6ZM206.4,445.5A198.9,198.9 0 0 1 205.4,444.8L212.7,435.2A186.9,186.9 0 0 0 213.6,435.9ZM127.1,297.0A198.9,198.9 0 0 1 127.1,295.5L139.0,294.9A186.9,186.9 0 0 0 139.1,296.4ZM167.9,165.4A198.9,198.9 0 0 1 168.4,164.7L177.9,172.0A186.9,186.9 0 0 0 177.4,172.7ZM325.3,87.5A198.9,198.9 0 0 1 326.1,87.5L326.1,99.5A186.9,186.9 0 0 0 325.3,99.5ZM308.7,88.2A198.9,198.9 0 0 1 309.5,88.2L310.5,100.1A186.9,186.9 0 0 0 309.7,100.2ZM322.8,87.5A198.9,198.9 0 0 1 323.9,87.5L324.0,99.5A186.9,186.9 0 0 0 323.0,99.5ZM337.1,485.0A198.9,198.9 0 0 1 335.9,485.0L335.3,473.1A186.9,186.9 0 0 0 336.4,473.0ZM207.5,446.3A198.9,198.9 0 0 1 206.7,445.7L213.9,436.1A186.9,186.9 0 0 0 214.6,436.7ZM300.5,89.1A198.9,198.9 0 0 1 301.7,89.0L303.1,100.9A186.9,186.9 0 0 0 302.0,101.0ZM522.5,257.0A198.9,198.9 0 0 1 522.7,258.5L510.8,260.2A186.9,186.9 0 0 0 510.6,258.7Z" fill="#e81010" fill-opacity="0.12"/>
<path d="M161.4,398.5A198.9,198.9 0 0 1 158.4,393.9L168.5,387.4A186.9,186.9 0 0 0 171.4,391.7Z" fill="#e81010" fill-opacity="0.17"/>
<path d="M524.1,300.7A198.9,198.9 0 0 1 524.1,301.8L512.1,300.8A186.9,186.9 0 0 0 512.2,299.9ZM511.9,356.5A198.9,198.9 0 0 1 511.5,357.5L500.3,353.2A186.9,186.9 0 0 0 500.6,352.3ZM473.0,152.6A198.9,198.9 0 0 1 473.8,153.5L464.8,161.6A186.9,186.9 0 0 0 464.1,160.7ZM334.1,485.1A198.9,198.9 0 0 1 332.5,485.2L332.1,473.2A186.9,186.9 0 0 0 333.6,473.1ZM328.4,485.3A198.9,198.9 0 0 1 326.9,485.3L326.8,473.3A186.9,186.9 0 0 0 328.3,473.3ZM172.5,413.1A198.9,198.9 0 0 1 171.5,411.9L180.8,404.4A186.9,186.9 0 0 0 181.7,405.5ZM143.0,207.9A198.9,198.9 0 0 1 143.4,206.9L154.4,211.7A186.9,186.9 0 0 0 154.0,212.6ZM244.9,468.1A198.9,198.9 0 0 1 243.8,467.6L248.7,456.7A186.9,186.9 0 0 0 249.8,457.2ZM126.9,291.8A198.9,198.9 0 0 1 126.9,290.6L138.9,290.3A186.9,186.9 0 0 0 138.9,291.5ZM156.7,391.3A198.9,198.9 0 0 1 156.1,390.2L166.3,384.0A186.9,186.9 0 0 0 166.9,384.9ZM329.0,485.3A198.9,198.9 0 0 1 328.1,485.3L328.0,473.3A186.9,186.9 0 0 0 328.8,473.3ZM510.1,211.7A198.9,198.9 0 0 1 510.5,212.7L499.3,217.1A186.9,186.9 0 0 0 499.0,216.2ZM375.1,93.7A198.9,198.9 0 0 1 376.6,94.1L373.6,105.7A186.9,186.9 0 0 0 372.1,105.3ZM399.9,471.0A198.9,198.9 0 0 1 398.9,471.4L394.5,460.2A186.9,186.9 0 0 0 395.4,459.8ZM331.7,485.2A198.9,198.9 0 0 1 330.9,485.2L330.6,473.2A186.9,186.9 0 0 0 331.4,473.2ZM259.1,473.8A198.9,198.9 0 0 1 257.7,473.3L261.8,462.0A186.9,186.9 0 0 0 263.2,462.5ZM410.2,466.5A198.9,198.9 0 0 1 409.1,467.0L404.1,456.1A186.9,186.9 0 0 0 405.1,455.6ZM249.4,470.1A198.9,198.9 0 0 1 248.6,469.7L253.3,458.7A186.9,186.9 0 0 0 254.0,459.0Z" fill="#e81010" fill-opacity="0.18"/>
<path d="M350.3,483.8A198.9,198.9 0 0 1 344.1,484.4L343.0,472.5A186.9,186.9 0 0 0 348.9,471.9Z" fill="#e81010" fill-opacity="0.2"/>
<path d="M325.8,87.5A198.9,198.9 0 0 1 327.8,87.5L327.7,99.5A186.9,186.9 0 0 0 325.8,99.5Z" fill="#e81010" fill-opacity="0.22"/>
<path d="M435.8,120.7A198.9,198.9 0 0 1 439.3,123.1L432.4,132.9A186.9,186.9 0 0 0 429.2,130.7ZM444.6,126.9A198.9,198.9 0 0 1 446.0,128.0L438.8,137.5A186.9,186.9 0 0 0 437.5,136.6ZM446.4,128.3A198.9,198.9 0 0 1 447.4,129.0L440.0,138.5A186.9,186.9 0 0 0 439.1,137.8ZM500.9,192.1A198.9,198.9 0 0 1 501.7,193.7L491.1,199.3A186.9,186.9 0 0 0 490.3,197.8ZM477.4,415.0A198.9,198.9 0 0 1 474.3,418.7L465.3,410.7A186.9,186.9 0 0 0 468.3,407.3ZM221.0,455.5A198.9,198.9 0 0 1 219.1,454.3L225.6,444.2A186.9,186.9 0 0 0 227.3,445.3Z" fill="#e81010" fill-opacity="0.23"/>
<path d="M146.3,372.2A198.9,198.9 0 0 1 145.6,370.7L156.5,365.7A186.9,186.9 0 0 0 157.1,367.0ZM354.8,483.2A198.9,198.9 0 0 1 353.7,483.3L352.0,471.4A186.9,186.9 0 0 0 353.0,471.3ZM127.4,271.6A198.9,198.9 0 0 1 127.5,270.8L139.4,271.7A186.9,186.9 0 0 0 139.4,272.5ZM491.1,397.0A198.9,198.9 0 0 1 490.2,398.3L480.3,391.6A186.9,186.9 0 0 0 481.1,390.3Z" fill="#e81010" fill-opacity="0.25"/>
<path d="M218.1,453.7A198.9,198.9 0 0 1 217.1,453.0L223.6,442.9A186.9,186.9 0 0 0 224.6,443.6Z" fill="#e81010" fill-opacity="0.28"/>
<path d="M358.4,482.6A198.9,198.9 0 0 1 357.5,482.7L355.6,470.9A186.9,186.9 0 0 0 356.4,470.8ZM441.5,448.2A198.9,198.9 0 0 1 440.5,448.9L433.6,439.1A186.9,186.9 0 0 0 434.5,438.4ZM126.9,287.0A198.9,198.9 0 0 1 126.9,285.4L138.9,285.5A186.9,186.9 0 0 0 138.9,287.0ZM192.6,138.7A198.9,198.9 0 0 1 193.2,138.1L201.2,147.0A186.9,186.9 0 0 0 200.6,147.6ZM128.0,308.0A198.9,198.9 0 0 1 127.9,307.1L139.9,305.9A186.9,186.9 0 0 0 140.0,306.7ZM363.8,481.6A198.9,198.9 0 0 1 362.8,481.8L360.5,470.0A186.9,186.9 0 0 0 361.5,469.9ZM248.3,103.2A198.9,198.9 0 0 1 249.2,102.8L253.9,113.9A186.9,186.9 0 0 0 253.0,114.3ZM206.5,445.6A198.9,198.9 0 0 1 205.9,445.1L213.1,435.5A186.9,186.9 0 0 0 213.7,436.0ZM288.4,481.8A198.9,198.9 0 0 1 287.6,481.6L289.9,469.8A186.9,186.9 0 0 0 290.7,470.0Z" fill="#e81010" fill-opacity="0.32"/>
<path d="M127.6,268.9A198.9,198.9 0 0 1 127.9,266.5L139.8,267.7A186.9,186.9 0 0 0 139.6,269.9ZM142.1,210.0A198.9,198.9 0 0 1 142.9,208.0L154.0,212.8A186.9,186.9 0 0 0 153.2,214.6ZM239.3,107.3A198.9,198.9 0 0 1 240.9,106.5L246.0,117.4A186.9,186.9 0 0 0 244.6,118.1ZM333.9,87.7A198.9,198.9 0 0 1 335.6,87.7L335.0,99.7A186.9,186.9 0 0 0 333.4,99.7ZM359.8,90.4A198.9,198.9 0 0 1 361.5,90.7L359.3,102.5A186.9,186.9 0 0 0 357.7,102.3ZM499.7,189.9A198.9,198.9 0 0 1 500.5,191.4L490.0,197.2A186.9,186.9 0 0 0 489.2,195.7ZM506.5,203.3A198.9,198.9 0 0 1 507.9,206.5L496.9,211.3A186.9,186.9 0 0 0 495.6,208.3ZM522.4,256.7A198.9,198.9 0 0 1 522.7,258.7L510.8,260.4A186.9,186.9 0 0 0 510.5,258.5ZM524.6,287.1A198.9,198.9 0 0 1 524.6,289.9L512.6,289.7A186.9,186.9 0 0 0 512.6,287.1ZM513.5,352.0A198.9,198.9 0 0 1 512.9,353.6L501.7,349.6A186.9,186.9 0 0 0 502.2,348.0ZM128.6,312.7A198.9,198.9 0 0 1 128.3,310.6L140.2,309.2A186.9,186.9 0 0 0 140.5,311.1Z" fill="#e81010" fill-opacity="0.33"/>
<path d="M160.0,396.3A198.9,198.9 0 0 1 158.8,394.5L168.8,388.0A186.9,186.9 0 0 0 170.0,389.7Z" fill="#e81010" fill-opacity="0.39"/>
<path d="M347.6,88.7A198.9,198.9 0 0 1 349.6,88.9L348.2,100.9A186.9,186.9 0 0 0 346.3,100.6ZM416.4,109.3A198.9,198.9 0 0 1 418.2,110.3L412.6,120.9A186.9,186.9 0 0 0 410.9,120.0ZM473.8,153.6A198.9,198.9 0 0 1 475.6,155.6L466.6,163.5A186.9,186.9 0 0 0 464.9,161.6ZM304.6,484.2A198.9,198.9 0 0 1 301.9,483.9L303.3,471.9A186.9,186.9 0 0 0 305.9,472.2ZM226.5,458.7A198.9,198.9 0 0 1 224.4,457.5L230.5,447.2A186.9,186.9 0 0 0 232.4,448.3ZM235.1,463.5A198.9,198.9 0 0 1 233.3,462.5L238.9,451.9A186.9,186.9 0 0 0 240.6,452.8ZM142.3,363.2A198.9,198.9 0 0 1 140.9,359.9L152.1,355.5A186.9,186.9 0 0 0 153.3,358.5Z" fill="#e81010" fill-opacity="0.44"/>
<path d="M144.0,205.5A198.9,198.9 0 0 1 148.5,196.1L159.2,201.5A186.9,186.9 0 0 0 155.0,210.4ZM431.9,454.6A198.9,198.9 0 0 1 424.4,459.1L418.5,448.7A186.9,186.9 0 0 0 425.5,444.5ZM287.5,481.6A198.9,198.9 0 0 1 275.9,479.0L279.0,467.3A186.9,186.9 0 0 0 289.8,469.8ZM332.0,485.2A198.9,198.9 0 0 1 323.0,485.3L323.1,473.3A186.9,186.9 0 0 0 331.6,473.2Z" fill="#e81010" fill-opacity="0.45"/>
<path d="M346.6,484.2A198.9,198.9 0 0 1 344.4,484.4L343.3,472.5A186.9,186.9 0 0 0 345.3,472.3Z" fill="#e81010" fill-opacity="0.47"/>
<path d="M436.0,120.9A198.9,198.9 0 0 1 437.0,121.6L430.3,131.5A186.9,186.9 0 0 0 429.4,130.8ZM475.7,417.1A198.9,198.9 0 0 1 474.6,418.4L465.6,410.4A186.9,186.9 0 0 0 466.7,409.2Z" fill="#e81010" fill-opacity="0.55"/>
<path d="M128.4,262.0A198.9,198.9 0 0 1 128.6,260.3L140.5,261.8A186.9,186.9 0 0 0 140.3,263.5ZM523.5,307.9A198.9,198.9 0 0 1 523.3,310.0L511.3,308.5A186.9,186.9 0 0 0 511.6,306.6ZM160.9,397.6A198.9,198.9 0 0 1 160.2,396.6L170.2,390.0A186.9,186.9 0 0 0 170.8,390.9Z" fill="#e81010" fill-opacity="0.56"/>
<path d="M431.2,455.0A198.9,198.9 0 0 1 429.7,456.0L423.4,445.7A186.9,186.9 0 0 0 424.8,444.9ZM426.3,458.0A198.9,198.9 0 0 1 424.8,458.9L418.8,448.5A186.9,186.9 0 0 0 420.2,447.6ZM286.7,481.4A198.9,198.9 0 0 1 285.0,481.1L287.5,469.3A186.9,186.9 0 0 0 289.1,469.7ZM328.6,485.3A198.9,198.9 0 0 1 326.3,485.3L326.3,473.3A186.9,186.9 0 0 0 328.4,473.3Z" fill="#e81010" fill-opacity="0.62"/>
<path d="M477.1,415.4A198.9,198.9 0 0 1 476.3,416.4L467.2,408.6A186.9,186.9 0 0 0 468.0,407.7Z" fill="#e81010" fill-opacity="0.66"/>
<path d="M153.6,186.8A198.9,198.9 0 0 1 154.5,185.3L164.8,191.4A186.9,186.9 0 0 0 164.0,192.8ZM162.6,172.6A198.9,198.9 0 0 1 163.8,170.9L173.6,177.9A186.9,186.9 0 0 0 172.5,179.5ZM152.0,189.7A198.9,198.9 0 0 1 153.0,187.9L163.4,193.8A186.9,186.9 0 0 0 162.4,195.5ZM157.4,180.4A198.9,198.9 0 0 1 158.6,178.7L168.6,185.2A186.9,186.9 0 0 0 167.6,186.8ZM349.8,483.8A198.9,198.9 0 0 1 348.1,484.0L346.7,472.1A186.9,186.9 0 0 0 348.3,471.9Z" fill="#e81010" fill-opacity="0.67"/>
<path d="M145.2,203.0A198.9,198.9 0 0 1 146.1,201.0L157.0,206.1A186.9,186.9 0 0 0 156.1,208.0ZM147.5,198.2A198.9,198.9 0 0 1 148.5,196.2L159.2,201.7A186.9,186.9 0 0 0 158.2,203.5ZM429.3,456.2A198.9,198.9 0 0 1 427.4,457.4L421.2,447.1A186.9,186.9 0 0 0 423.0,446.0ZM281.7,480.4A198.9,198.9 0 0 1 279.5,479.8L282.3,468.2A186.9,186.9 0 0 0 284.3,468.6ZM278.0,479.5A198.9,198.9 0 0 1 276.8,479.2L279.8,467.6A186.9,186.9 0 0 0 280.9,467.8ZM325.6,485.3A198.9,198.9 0 0 1 324.3,485.3L324.4,473.3A186.9,186.9 0 0 0 325.6,473.3Z" fill="#e81010" fill-opacity="0.76"/>
<path d="M129.3,255.3A198.9,198.9 0 0 1 129.8,252.5L141.6,254.6A186.9,186.9 0 0 0 141.2,257.2ZM372.9,93.2A198.9,198.9 0 0 1 374.9,93.7L371.9,105.3A186.9,186.9 0 0 0 370.0,104.8ZM376.6,94.1A198.9,198.9 0 0 1 378.6,94.6L375.4,106.2A186.9,186.9 0 0 0 373.5,105.7ZM438.0,122.2A198.9,198.9 0 0 1 439.4,123.2L432.5,133.0A186.9,186.9 0 0 0 431.2,132.1ZM498.7,384.6A198.9,198.9 0 0 1 497.3,387.1L487.0,381.0A186.9,186.9 0 0 0 488.3,378.7Z" fill="#e81010" fill-opacity="0.78"/>
<path d="M144.1,205.4A198.9,198.9 0 0 1 144.8,203.8L155.7,208.8A186.9,186.9 0 0 0 155.1,210.3ZM146.4,200.5A198.9,198.9 0 0 1 147.1,198.9L157.9,204.2A186.9,186.9 0 0 0 157.2,205.7ZM373.5,479.5A198.9,198.9 0 0 1 370.8,480.1L368.1,468.4A186.9,186.9 0 0 0 370.6,467.8ZM284.2,480.9A198.9,198.9 0 0 1 283.0,480.7L285.6,468.9A186.9,186.9 0 0 0 286.7,469.2ZM330.8,485.2A198.9,198.9 0 0 1 329.6,485.3L329.4,473.3A186.9,186.9 0 0 0 330.5,473.2ZM133.9,338.9A198.9,198.9 0 0 1 133.0,335.5L144.6,332.6A186.9,186.9 0 0 0 145.5,335.7Z" fill="#e81010" fill-opacity="0.89"/>
<path d="M177.5,153.8A198.9,198.9 0 0 1 180.8,150.2L189.5,158.5A186.9,186.9 0 0 0 186.4,161.8ZM269.3,95.7A198.9,198.9 0 0 1 273.3,94.5L276.4,106.1A186.9,186.9 0 0 0 272.7,107.2ZM277.3,93.5A198.9,198.9 0 0 1 281.3,92.5L284.0,104.2A186.9,186.9 0 0 0 280.2,105.1ZM519.9,329.6A198.9,198.9 0 0 1 519.2,332.7L507.5,329.9A186.9,186.9 0 0 0 508.2,327.0ZM372.9,479.6A198.9,198.9 0 0 1 370.2,480.3L367.5,468.6A186.9,186.9 0 0 0 370.0,468.0ZM196.8,437.9A198.9,198.9 0 0 1 193.7,435.1L201.7,426.2A186.9,186.9 0 0 0 204.6,428.7Z" fill="#e81010" fill-opacity="1.0"/>
<path d="M487.6,195.8A185.5,185.5 0 0 1 489.9,200.0L479.3,205.6A173.5,173.5 0 0 0 477.1,201.6ZM228.8,444.6A185.5,185.5 0 0 1 223.4,441.1L230.0,431.1A173.5,173.5 0 0 0 235.1,434.3Z" fill="#22eeee" fill-opacity="0.1"/>
<path d="M356.2,469.4A185.5,185.5 0 0 1 355.4,469.5L353.5,457.7A173.5,173.5 0 0 0 354.2,457.5ZM437.2,434.7A185.5,185.5 0 0 1 436.0,435.6L428.9,425.9A173.5,173.5 0 0 0 430.0,425.1ZM269.0,109.8A185.5,185.5 0 0 1 270.1,109.5L273.7,120.9A173.5,173.5 0 0 0 272.7,121.2ZM140.3,287.0A185.5,185.5 0 0 1 140.3,285.5L152.3,285.6A173.5,173.5 0 0 0 152.3,286.9ZM478.5,181.1A185.5,185.5 0 0 1 479.1,182.1L469.2,188.8A173.5,173.5 0 0 0 468.6,187.9ZM355.7,469.5A185.5,185.5 0 0 1 354.7,469.6L352.8,457.8A173.5,173.5 0 0 0 353.7,457.6ZM463.0,161.6A185.5,185.5 0 0 1 463.8,162.5L454.9,170.5A173.5,173.5 0 0 0 454.2,169.7ZM204.3,146.2A185.5,185.5 0 0 1 205.1,145.5L212.9,154.6A173.5,173.5 0 0 0 212.1,155.3ZM499.5,351.5A185.5,185.5 0 0 1 499.2,352.2L488.0,348.0A173.5,173.5 0 0 0 488.2,347.3ZM356.0,469.4A185.5,185.5 0 0 1 354.6,469.6L352.7,457.8A173.5,173.5 0 0 0 354.1,457.6ZM491.1,202.2A185.5,185.5 0 0 1 491.4,203.0L480.7,208.4A173.5,173.5 0 0 0 480.4,207.7ZM155.4,359.8A185.5,185.5 0 0 1 154.9,358.8L166.0,354.1A173.5,173.5 0 0 0 166.4,355.1ZM214.5,434.8A185.5,185.5 0 0 1 213.6,434.1L220.8,424.6A173.5,173.5 0 0 0 221.7,425.2ZM353.2,469.9A185.5,185.5 0 0 1 351.8,470.1L350.1,458.2A173.5,173.5 0 0 0 351.5,458.0ZM336.3,471.6A185.5,185.5 0 0 1 335.2,471.7L334.6,459.7A173.5,173.5 0 0 0 335.6,459.6ZM140.6,275.8A185.5,185.5 0 0 1 140.6,274.4L152.6,275.2A173.5,173.5 0 0 0 152.5,276.5ZM229.3,444.8A185.5,185.5 0 0 1 228.6,444.4L234.9,434.2A173.5,173.5 0 0 0 235.5,434.6ZM253.5,115.5A185.5,185.5 0 0 1 254.4,115.2L259.0,126.3A173.5,173.5 0 0 0 258.2,126.6ZM493.8,365.0A185.5,185.5 0 0 1 493.3,366.1L482.4,360.9A173.5,173.5 0 0 0 482.9,359.9ZM214.6,434.9A185.5,185.5 0 0 1 213.9,434.4L221.2,424.8A173.5,173.5 0 0 0 221.8,425.3ZM254.6,457.7A185.5,185.5 0 0 1 253.8,457.4L258.5,446.3A173.5,173.5 0 0 0 259.2,446.6Z" fill="#22eeee" fill-opacity="0.12"/>
<path d="M510.8,299.8A185.5,185.5 0 0 1 510.7,300.7L498.7,299.8A173.5,173.5 0 0 0 498.8,298.9ZM333.5,471.7A185.5,185.5 0 0 1 332.1,471.8L331.7,459.8A173.5,173.5 0 0 0 333.0,459.7ZM480.4,388.9A185.5,185.5 0 0 1 479.7,389.8L469.8,383.2A173.5,173.5 0 0 0 470.4,382.3ZM140.7,299.5A185.5,185.5 0 0 1 140.7,298.7L152.6,297.9A173.5,173.5 0 0 0 152.7,298.6ZM490.7,371.4A185.5,185.5 0 0 1 490.0,372.6L479.4,367.1A173.5,173.5 0 0 0 480.0,365.9ZM140.8,272.6A185.5,185.5 0 0 1 140.8,271.8L152.8,272.8A173.5,173.5 0 0 0 152.7,273.5ZM168.1,384.2A185.5,185.5 0 0 1 167.5,383.2L177.8,377.0A173.5,173.5 0 0 0 178.3,377.9ZM368.6,466.9A185.5,185.5 0 0 1 367.7,467.1L365.0,455.4A173.5,173.5 0 0 0 365.9,455.2ZM178.5,173.5A185.5,185.5 0 0 1 179.0,172.9L188.5,180.2A173.5,173.5 0 0 0 188.1,180.8ZM209.5,431.0A185.5,185.5 0 0 1 208.8,430.4L216.3,421.0A173.5,173.5 0 0 0 217.0,421.6ZM309.8,101.6A185.5,185.5 0 0 1 310.6,101.5L311.6,113.5A173.5,173.5 0 0 0 310.8,113.5ZM157.1,209.1A185.5,185.5 0 0 1 157.5,208.2L168.4,213.3A173.5,173.5 0 0 0 168.0,214.1ZM468.0,167.4A185.5,185.5 0 0 1 469.0,168.5L459.7,176.1A173.5,173.5 0 0 0 458.8,175.1ZM162.3,198.7A185.5,185.5 0 0 1 163.0,197.4L173.5,203.2A173.5,173.5 0 0 0 172.9,204.4ZM205.6,427.7A185.5,185.5 0 0 1 204.5,426.8L212.3,417.7A173.5,173.5 0 0 0 213.3,418.6ZM479.9,389.6A185.5,185.5 0 0 1 479.1,390.8L469.2,384.0A173.5,173.5 0 0 0 469.9,382.9ZM404.5,454.4A185.5,185.5 0 0 1 403.5,454.8L398.4,443.9A173.5,173.5 0 0 0 399.4,443.5ZM290.9,468.6A185.5,185.5 0 0 1 290.1,468.4L292.4,456.7A173.5,173.5 0 0 0 293.2,456.8Z" fill="#22eeee" fill-opacity="0.18"/>
<path d="M428.4,131.9A185.5,185.5 0 0 1 431.6,134.1L424.8,143.9A173.5,173.5 0 0 0 421.8,141.9ZM290.0,468.4A185.5,185.5 0 0 1 279.3,466.0L282.3,454.4A173.5,173.5 0 0 0 292.3,456.7Z" fill="#22eeee" fill-opacity="0.2"/>
<path d="M141.0,270.1A185.5,185.5 0 0 1 141.2,267.8L153.1,269.0A173.5,173.5 0 0 0 152.9,271.1ZM325.8,100.9A185.5,185.5 0 0 1 327.7,100.9L327.6,112.9A173.5,173.5 0 0 0 325.8,112.9ZM333.4,101.1A185.5,185.5 0 0 1 335.0,101.1L334.4,113.1A173.5,173.5 0 0 0 332.9,113.0Z" fill="#22eeee" fill-opacity="0.22"/>
<path d="M227.6,443.8A185.5,185.5 0 0 1 226.7,443.2L233.1,433.1A173.5,173.5 0 0 0 234.0,433.7Z" fill="#22eeee" fill-opacity="0.23"/>
<path d="M499.3,351.8A185.5,185.5 0 0 1 499.0,352.7L487.8,348.4A173.5,173.5 0 0 0 488.1,347.6ZM318.0,101.1A185.5,185.5 0 0 1 319.4,101.0L319.9,113.0A173.5,173.5 0 0 0 318.5,113.1ZM143.3,319.9A185.5,185.5 0 0 1 143.0,318.5L154.9,316.4A173.5,173.5 0 0 0 155.1,317.7ZM166.6,381.8A185.5,185.5 0 0 1 166.2,381.1L176.5,374.9A173.5,173.5 0 0 0 176.9,375.6ZM155.3,213.2A185.5,185.5 0 0 1 155.7,212.3L166.7,217.1A173.5,173.5 0 0 0 166.3,217.9ZM141.3,306.5A185.5,185.5 0 0 1 141.3,305.7L153.2,304.5A173.5,173.5 0 0 0 153.3,305.2ZM439.0,139.5A185.5,185.5 0 0 1 439.8,140.1L432.4,149.5A173.5,173.5 0 0 0 431.7,149.0ZM352.8,469.9A185.5,185.5 0 0 1 351.9,470.1L350.2,458.2A173.5,173.5 0 0 0 351.1,458.0ZM325.3,100.9A185.5,185.5 0 0 1 326.1,100.9L326.1,112.9A173.5,173.5 0 0 0 325.3,112.9ZM435.7,137.0A185.5,185.5 0 0 1 436.5,137.6L429.3,147.2A173.5,173.5 0 0 0 428.6,146.6ZM323.0,100.9A185.5,185.5 0 0 1 324.0,100.9L324.1,112.9A173.5,173.5 0 0 0 323.2,112.9ZM438.9,433.4A185.5,185.5 0 0 1 438.0,434.0L430.8,424.5A173.5,173.5 0 0 0 431.6,423.9ZM493.3,366.1A185.5,185.5 0 0 1 492.9,366.8L482.1,361.6A173.5,173.5 0 0 0 482.4,361.0ZM302.2,102.4A185.5,185.5 0 0 1 303.3,102.3L304.8,114.2A173.5,173.5 0 0 0 303.7,114.3Z" fill="#22eeee" fill-opacity="0.25"/>
<path d="M339.3,101.4A185.5,185.5 0 0 1 340.3,101.5L339.3,113.4A173.5,173.5 0 0 0 338.4,113.4ZM152.6,353.0A185.5,185.5 0 0 1 152.1,351.6L163.3,347.4A173.5,173.5 0 0 0 163.8,348.7ZM147.5,235.0A185.5,185.5 0 0 1 147.9,233.6L159.4,237.0A173.5,173.5 0 0 0 159.0,238.4ZM250.3,455.9A185.5,185.5 0 0 1 249.3,455.4L254.2,444.5A173.5,173.5 0 0 0 255.2,444.9ZM140.3,291.5A185.5,185.5 0 0 1 140.3,290.3L152.3,290.1A173.5,173.5 0 0 0 152.3,291.1ZM328.8,471.9A185.5,185.5 0 0 1 328.0,471.9L327.8,459.9A173.5,173.5 0 0 0 328.6,459.9ZM382.7,463.0A185.5,185.5 0 0 1 381.7,463.2L378.1,451.8A173.5,173.5 0 0 0 379.0,451.5ZM153.9,216.7A185.5,185.5 0 0 1 154.2,215.8L165.3,220.3A173.5,173.5 0 0 0 165.0,221.2ZM289.1,104.5A185.5,185.5 0 0 1 289.9,104.4L292.3,116.2A173.5,173.5 0 0 0 291.5,116.3ZM239.6,450.7A185.5,185.5 0 0 1 238.6,450.2L244.2,439.6A173.5,173.5 0 0 0 245.2,440.1ZM215.5,435.6A185.5,185.5 0 0 1 214.7,435.0L221.9,425.4A173.5,173.5 0 0 0 222.6,425.9ZM394.9,458.5A185.5,185.5 0 0 1 394.0,458.9L389.6,447.7A173.5,173.5 0 0 0 390.4,447.4ZM331.3,471.8A185.5,185.5 0 0 1 330.5,471.8L330.2,459.8A173.5,173.5 0 0 0 331.0,459.8ZM203.2,425.6A185.5,185.5 0 0 1 202.4,425.0L210.4,416.0A173.5,173.5 0 0 0 211.1,416.6Z" fill="#22eeee" fill-opacity="0.32"/>
<path d="M154.6,214.8A185.5,185.5 0 0 1 155.4,213.0L166.4,217.8A173.5,173.5 0 0 0 165.7,219.4ZM346.1,102.0A185.5,185.5 0 0 1 348.0,102.2L346.6,114.2A173.5,173.5 0 0 0 344.8,113.9ZM487.7,195.9A185.5,185.5 0 0 1 488.5,197.4L478.0,203.1A173.5,173.5 0 0 0 477.2,201.8ZM489.3,198.9A185.5,185.5 0 0 1 489.8,199.9L479.2,205.5A173.5,173.5 0 0 0 478.7,204.5ZM500.9,347.6A185.5,185.5 0 0 1 500.3,349.1L489.0,345.0A173.5,173.5 0 0 0 489.5,343.6ZM472.4,400.0A185.5,185.5 0 0 1 471.4,401.2L462.0,393.8A173.5,173.5 0 0 0 462.9,392.6ZM225.4,442.4A185.5,185.5 0 0 1 224.4,441.8L230.9,431.7A173.5,173.5 0 0 0 231.9,432.3ZM186.8,409.3A185.5,185.5 0 0 1 185.5,407.9L194.6,400.0A173.5,173.5 0 0 0 195.8,401.4Z" fill="#22eeee" fill-opacity="0.33"/>
<path d="M173.8,180.0A185.5,185.5 0 0 1 174.9,178.4L184.7,185.4A173.5,173.5 0 0 0 183.6,186.9ZM497.6,216.6A185.5,185.5 0 0 1 498.6,219.0L487.4,223.4A173.5,173.5 0 0 0 486.5,221.1ZM511.2,287.0A185.5,185.5 0 0 1 511.2,289.6L499.2,289.4A173.5,173.5 0 0 0 499.2,287.0ZM334.8,471.7A185.5,185.5 0 0 1 332.9,471.8L332.4,459.8A173.5,173.5 0 0 0 334.2,459.7Z" fill="#22eeee" fill-opacity="0.44"/>
<path d="M453.4,151.8A185.5,185.5 0 0 1 460.3,158.7L451.6,167.0A173.5,173.5 0 0 0 445.2,160.5ZM506.9,246.4A185.5,185.5 0 0 1 507.9,251.2L496.1,253.4A173.5,173.5 0 0 0 495.2,249.0ZM483.6,383.9A185.5,185.5 0 0 1 478.3,392.0L468.4,385.2A173.5,173.5 0 0 0 473.4,377.6ZM467.2,406.4A185.5,185.5 0 0 1 464.3,409.8L455.3,401.8A173.5,173.5 0 0 0 458.1,398.6ZM426.8,442.0A185.5,185.5 0 0 1 418.5,447.0L412.5,436.7A173.5,173.5 0 0 0 420.2,431.9ZM205.5,427.7A185.5,185.5 0 0 1 202.6,425.1L210.6,416.1A173.5,173.5 0 0 0 213.3,418.5Z" fill="#22eeee" fill-opacity="0.45"/>
<path d="M141.7,263.6A185.5,185.5 0 0 1 141.9,262.0L153.8,263.6A173.5,173.5 0 0 0 153.6,265.1ZM233.1,447.1A185.5,185.5 0 0 1 231.2,446.0L237.3,435.7A173.5,173.5 0 0 0 239.1,436.7ZM264.7,461.6A185.5,185.5 0 0 1 262.3,460.7L266.4,449.4A173.5,173.5 0 0 0 268.7,450.2ZM154.6,358.0A185.5,185.5 0 0 1 153.4,355.0L164.5,350.6A173.5,173.5 0 0 0 165.7,353.4Z" fill="#22eeee" fill-opacity="0.56"/>
<path d="M428.2,131.8A185.5,185.5 0 0 1 429.9,132.9L423.2,142.8A173.5,173.5 0 0 0 421.6,141.8ZM284.8,467.3A185.5,185.5 0 0 1 282.7,466.8L285.5,455.2A173.5,173.5 0 0 0 287.4,455.6ZM281.3,466.5A185.5,185.5 0 0 1 280.1,466.2L283.1,454.6A173.5,173.5 0 0 0 284.1,454.8Z" fill="#22eeee" fill-opacity="0.57"/>
<path d="M454.1,152.5A185.5,185.5 0 0 1 455.0,153.3L446.6,161.9A173.5,173.5 0 0 0 445.8,161.2ZM455.0,153.4A185.5,185.5 0 0 1 456.5,154.8L448.0,163.3A173.5,173.5 0 0 0 446.7,162.0ZM483.5,384.1A185.5,185.5 0 0 1 482.4,385.8L472.2,379.4A173.5,173.5 0 0 0 473.2,377.8ZM482.1,386.3A185.5,185.5 0 0 1 481.2,387.6L471.1,381.1A173.5,173.5 0 0 0 472.0,379.8Z" fill="#22eeee" fill-opacity="0.62"/>
<path d="M140.3,285.8A185.5,185.5 0 0 1 140.3,283.8L152.3,284.0A173.5,173.5 0 0 0 152.3,285.8ZM142.5,257.4A185.5,185.5 0 0 1 143.0,254.8L154.8,256.9A173.5,173.5 0 0 0 154.4,259.3ZM369.4,106.1A185.5,185.5 0 0 1 371.9,106.7L368.9,118.4A173.5,173.5 0 0 0 366.5,117.8ZM429.9,132.9A185.5,185.5 0 0 1 431.2,133.8L424.4,143.7A173.5,173.5 0 0 0 423.1,142.8ZM392.2,459.6A185.5,185.5 0 0 1 389.2,460.7L385.1,449.4A173.5,173.5 0 0 0 387.9,448.4ZM289.3,468.3A185.5,185.5 0 0 1 287.2,467.9L289.7,456.1A173.5,173.5 0 0 0 291.6,456.5ZM286.8,467.8A185.5,185.5 0 0 1 284.8,467.3L287.5,455.6A173.5,173.5 0 0 0 289.4,456.0ZM140.3,292.2A185.5,185.5 0 0 1 140.3,290.3L152.3,290.0A173.5,173.5 0 0 0 152.3,291.8Z" fill="#22eeee" fill-opacity="0.67"/>
<path d="M458.5,156.8A185.5,185.5 0 0 1 459.9,158.3L451.2,166.6A173.5,173.5 0 0 0 449.9,165.2ZM507.0,246.9A185.5,185.5 0 0 1 507.4,249.0L495.7,251.4A173.5,173.5 0 0 0 495.3,249.5ZM480.9,388.1A185.5,185.5 0 0 1 480.0,389.5L470.0,382.8A173.5,173.5 0 0 0 470.8,381.5ZM479.5,390.1A185.5,185.5 0 0 1 478.9,391.1L469.0,384.3A173.5,173.5 0 0 0 469.6,383.4ZM465.7,408.2A185.5,185.5 0 0 1 464.6,409.4L455.6,401.4A173.5,173.5 0 0 0 456.6,400.3ZM426.9,441.9A185.5,185.5 0 0 1 425.2,443.0L418.8,432.9A173.5,173.5 0 0 0 420.4,431.8ZM420.3,446.0A185.5,185.5 0 0 1 418.9,446.8L412.8,436.5A173.5,173.5 0 0 0 414.1,435.7ZM204.3,426.6A185.5,185.5 0 0 1 202.7,425.3L210.7,416.3A173.5,173.5 0 0 0 212.2,417.6Z" fill="#22eeee" fill-opacity="0.76"/>
<path d="M146.8,335.3A185.5,185.5 0 0 1 146.0,332.2L157.6,329.3A173.5,173.5 0 0 0 158.4,332.2Z" fill="#22eeee" fill-opacity="0.78"/>
<path d="M457.2,155.5A185.5,185.5 0 0 1 458.0,156.3L449.4,164.7A173.5,173.5 0 0 0 448.7,163.9ZM451.1,149.6A185.5,185.5 0 0 1 453.0,151.4L444.7,160.1A173.5,173.5 0 0 0 443.0,158.5ZM507.5,249.4A185.5,185.5 0 0 1 507.8,250.6L496.0,252.9A173.5,173.5 0 0 0 495.8,251.8ZM506.8,326.7A185.5,185.5 0 0 1 506.2,329.5L494.5,326.8A173.5,173.5 0 0 0 495.1,324.1ZM466.7,407.0A185.5,185.5 0 0 1 465.9,407.9L456.8,400.1A173.5,173.5 0 0 0 457.6,399.2ZM441.2,431.6A185.5,185.5 0 0 1 438.7,433.6L431.4,424.0A173.5,173.5 0 0 0 433.8,422.2ZM424.2,443.6A185.5,185.5 0 0 1 422.8,444.5L416.5,434.2A173.5,173.5 0 0 0 417.8,433.4ZM422.2,444.9A185.5,185.5 0 0 1 420.8,445.7L414.7,435.4A173.5,173.5 0 0 0 416.0,434.6ZM204.9,427.1A185.5,185.5 0 0 1 204.0,426.4L211.9,417.3A173.5,173.5 0 0 0 212.7,418.0Z" fill="#22eeee" fill-opacity="0.89"/>
<path d="M324.1,471.9A185.5,185.5 0 0 1 320.9,471.8L321.2,459.8A173.5,173.5 0 0 0 324.2,459.9ZM348.7,470.5A185.5,185.5 0 0 1 342.9,471.1L341.8,459.2A173.5,173.5 0 0 0 347.2,458.6Z" fill="#22eeee" fill-opacity="1.0"/>
<path d="M198.7,170.4A172.1,172.1 0 0 1 201.1,167.7L209.8,176.0A160.1,160.1 0 0 0 207.5,178.4ZM235.8,433.1A172.1,172.1 0 0 1 230.8,429.9L237.4,419.9A160.1,160.1 0 0 0 242.1,422.9Z" fill="#800080" fill-opacity="0.1"/>
<path d="M153.7,285.8A172.1,172.1 0 0 1 153.7,284.0L165.7,284.2A160.1,160.1 0 0 0 165.7,285.8Z" fill="#800080" fill-opacity="0.11"/>
<path d="M497.4,298.8A172.1,172.1 0 0 1 497.3,299.7L485.4,298.8A160.1,160.1 0 0 0 485.4,297.9ZM353.5,456.2A172.1,172.1 0 0 1 352.6,456.4L350.7,444.5A160.1,160.1 0 0 0 351.6,444.4ZM453.1,170.7A172.1,172.1 0 0 1 453.8,171.4L444.9,179.5A160.1,160.1 0 0 0 444.2,178.7ZM165.1,348.2A172.1,172.1 0 0 1 164.6,346.9L175.9,342.7A160.1,160.1 0 0 0 176.3,343.9ZM492.6,328.5A172.1,172.1 0 0 1 492.4,329.5L480.7,326.5A160.1,160.1 0 0 0 481.0,325.6ZM353.8,456.2A172.1,172.1 0 0 1 352.5,456.4L350.6,444.6A160.1,160.1 0 0 0 351.9,444.4ZM478.7,365.2A172.1,172.1 0 0 1 478.1,366.4L467.5,360.8A160.1,160.1 0 0 0 468.1,359.7ZM482.6,215.6A172.1,172.1 0 0 1 483.0,216.4L472.0,221.3A160.1,160.1 0 0 0 471.7,220.6ZM170.5,360.6A172.1,172.1 0 0 1 169.9,359.4L180.8,354.3A160.1,160.1 0 0 0 181.3,355.4ZM255.8,443.6A172.1,172.1 0 0 1 254.8,443.2L259.8,432.3A160.1,160.1 0 0 0 260.7,432.7ZM430.8,150.1A172.1,172.1 0 0 1 431.5,150.6L424.1,160.1A160.1,160.1 0 0 0 423.5,159.6ZM153.7,291.1A172.1,172.1 0 0 1 153.7,290.0L165.7,289.8A160.1,160.1 0 0 0 165.7,290.8ZM434.6,153.1A172.1,172.1 0 0 1 435.1,153.5L427.5,162.8A160.1,160.1 0 0 0 427.0,162.4ZM153.9,295.6A172.1,172.1 0 0 1 153.8,294.3L165.8,293.7A160.1,160.1 0 0 0 165.9,295.0ZM483.4,217.5A172.1,172.1 0 0 1 483.7,218.2L472.7,222.9A160.1,160.1 0 0 0 472.5,222.3ZM328.5,458.5A172.1,172.1 0 0 1 327.8,458.5L327.6,446.5A160.1,160.1 0 0 0 328.3,446.5ZM166.3,221.7A172.1,172.1 0 0 1 166.6,220.9L177.7,225.4A160.1,160.1 0 0 0 177.4,226.2ZM468.6,190.4A172.1,172.1 0 0 1 469.0,191.0L459.0,197.7A160.1,160.1 0 0 0 458.6,197.1ZM496.4,308.6A172.1,172.1 0 0 1 496.3,309.7L484.4,308.1A160.1,160.1 0 0 0 484.5,307.1ZM291.8,117.7A172.1,172.1 0 0 1 292.5,117.5L294.8,129.3A160.1,160.1 0 0 0 294.2,129.4ZM153.9,276.6A172.1,172.1 0 0 1 154.0,275.2L166.0,276.0A160.1,160.1 0 0 0 165.9,277.3ZM258.7,127.9A172.1,172.1 0 0 1 259.5,127.5L264.2,138.6A160.1,160.1 0 0 0 263.4,138.9ZM303.9,115.7A172.1,172.1 0 0 1 304.9,115.6L306.4,127.5A160.1,160.1 0 0 0 305.4,127.6Z" fill="#800080" fill-opacity="0.12"/>
<path d="M429.1,424.0A172.1,172.1 0 0 1 428.0,424.8L420.9,415.1A160.1,160.1 0 0 0 421.9,414.4ZM321.3,114.4A172.1,172.1 0 0 1 322.4,114.3L322.6,126.3A160.1,160.1 0 0 0 321.6,126.4ZM154.1,298.5A172.1,172.1 0 0 1 154.0,297.8L166.0,297.0A160.1,160.1 0 0 0 166.0,297.7ZM167.7,354.5A172.1,172.1 0 0 1 167.3,353.5L178.3,348.9A160.1,160.1 0 0 0 178.7,349.8ZM154.1,273.6A172.1,172.1 0 0 1 154.2,272.9L166.1,273.8A160.1,160.1 0 0 0 166.1,274.5ZM222.5,424.1A172.1,172.1 0 0 1 221.7,423.5L228.9,413.9A160.1,160.1 0 0 0 229.7,414.5ZM368.5,119.7A172.1,172.1 0 0 1 369.8,120.0L366.7,131.6A160.1,160.1 0 0 0 365.5,131.3ZM174.1,205.1A172.1,172.1 0 0 1 174.7,203.9L185.3,209.6A160.1,160.1 0 0 0 184.7,210.7ZM268.1,448.6A172.1,172.1 0 0 1 266.8,448.1L270.9,436.8A160.1,160.1 0 0 0 272.1,437.3ZM236.2,433.3A172.1,172.1 0 0 1 235.4,432.9L241.7,422.7A160.1,160.1 0 0 0 242.4,423.1ZM259.7,445.3A172.1,172.1 0 0 1 259.0,445.0L263.7,434.0A160.1,160.1 0 0 0 264.3,434.2Z" fill="#800080" fill-opacity="0.18"/>
<path d="M446.9,164.2A172.1,172.1 0 0 1 450.1,167.4L441.4,175.7A160.1,160.1 0 0 0 438.5,172.7ZM473.7,374.3A172.1,172.1 0 0 1 470.6,379.4L460.5,372.9A160.1,160.1 0 0 0 463.4,368.1ZM394.7,444.1A172.1,172.1 0 0 1 391.3,445.5L386.8,434.4A160.1,160.1 0 0 0 389.8,433.1ZM271.9,449.8A172.1,172.1 0 0 1 264.8,447.3L269.0,436.1A160.1,160.1 0 0 0 275.6,438.4Z" fill="#800080" fill-opacity="0.2"/>
<path d="M325.8,114.3A172.1,172.1 0 0 1 327.6,114.3L327.4,126.3A160.1,160.1 0 0 0 325.8,126.3Z" fill="#800080" fill-opacity="0.22"/>
<path d="M198.6,170.4A172.1,172.1 0 0 1 199.6,169.3L208.4,177.5A160.1,160.1 0 0 0 207.5,178.5ZM200.1,168.8A172.1,172.1 0 0 1 200.8,168.0L209.5,176.3A160.1,160.1 0 0 0 208.8,177.0ZM421.0,143.1A172.1,172.1 0 0 1 424.0,145.1L417.1,154.9A160.1,160.1 0 0 0 414.3,153.0ZM331.8,458.4A172.1,172.1 0 0 1 325.8,458.5L325.8,446.5A160.1,160.1 0 0 0 331.3,446.4ZM347.0,457.2A172.1,172.1 0 0 1 341.6,457.8L340.5,445.8A160.1,160.1 0 0 0 345.5,445.3ZM234.9,432.6A172.1,172.1 0 0 1 233.7,431.8L240.1,421.6A160.1,160.1 0 0 0 241.3,422.4Z" fill="#800080" fill-opacity="0.23"/>
<path d="M493.1,326.7A172.1,172.1 0 0 1 492.9,327.4L481.2,324.5A160.1,160.1 0 0 0 481.4,323.9ZM338.3,114.8A172.1,172.1 0 0 1 339.2,114.8L338.3,126.8A160.1,160.1 0 0 0 337.5,126.7ZM273.1,122.6A172.1,172.1 0 0 1 274.1,122.2L277.7,133.7A160.1,160.1 0 0 0 276.8,134.0ZM333.0,458.3A172.1,172.1 0 0 1 331.6,458.4L331.2,446.4A160.1,160.1 0 0 0 332.5,446.4ZM178.1,374.9A172.1,172.1 0 0 1 177.7,374.2L188.1,368.1A160.1,160.1 0 0 0 188.4,368.7ZM494.2,251.1A172.1,172.1 0 0 1 494.4,252.2L482.7,254.6A160.1,160.1 0 0 0 482.5,253.6ZM167.6,218.5A172.1,172.1 0 0 1 168.0,217.6L179.0,222.4A160.1,160.1 0 0 0 178.6,223.2ZM154.2,300.0A172.1,172.1 0 0 1 154.1,298.9L166.1,298.0A160.1,160.1 0 0 0 166.1,299.0ZM479.1,208.3A172.1,172.1 0 0 1 479.5,209.0L468.7,214.4A160.1,160.1 0 0 0 468.4,213.8ZM179.5,377.1A172.1,172.1 0 0 1 179.0,376.2L189.2,370.0A160.1,160.1 0 0 0 189.7,370.8ZM183.9,383.8A172.1,172.1 0 0 1 183.5,383.2L193.4,376.5A160.1,160.1 0 0 0 193.8,377.0ZM427.7,147.8A172.1,172.1 0 0 1 428.5,148.3L421.3,157.9A160.1,160.1 0 0 0 420.6,157.4ZM378.6,450.2A172.1,172.1 0 0 1 377.7,450.5L374.1,439.0A160.1,160.1 0 0 0 374.9,438.8ZM351.2,456.6A172.1,172.1 0 0 1 349.9,456.8L348.2,444.9A160.1,160.1 0 0 0 349.5,444.7ZM457.8,176.0A172.1,172.1 0 0 1 458.6,177.0L449.4,184.6A160.1,160.1 0 0 0 448.6,183.7ZM431.0,422.6A172.1,172.1 0 0 1 430.4,423.0L423.1,413.5A160.1,160.1 0 0 0 423.6,413.1ZM335.6,458.2A172.1,172.1 0 0 1 334.5,458.3L333.9,446.3A160.1,160.1 0 0 0 334.9,446.2ZM236.2,433.4A172.1,172.1 0 0 1 235.6,433.0L241.9,422.8A160.1,160.1 0 0 0 242.5,423.1ZM389.9,446.1A172.1,172.1 0 0 1 389.0,446.4L384.6,435.3A160.1,160.1 0 0 0 385.4,435.0ZM481.2,360.4A172.1,172.1 0 0 1 480.8,361.0L470.0,355.8A160.1,160.1 0 0 0 470.3,355.2ZM398.8,442.2A172.1,172.1 0 0 1 397.9,442.7L392.8,431.8A160.1,160.1 0 0 0 393.7,431.4ZM212.0,415.6A172.1,172.1 0 0 1 211.3,415.0L219.3,406.0A160.1,160.1 0 0 0 219.9,406.5ZM293.4,455.4A172.1,172.1 0 0 1 292.7,455.3L295.0,443.5A160.1,160.1 0 0 0 295.7,443.7Z" fill="#800080" fill-opacity="0.25"/>
<path d="M232.4,431.0A172.1,172.1 0 0 1 231.5,430.4L238.0,420.3A160.1,160.1 0 0 0 238.9,420.9Z" fill="#800080" fill-opacity="0.28"/>
<path d="M330.3,458.4A172.1,172.1 0 0 1 329.0,458.5L328.7,446.5A160.1,160.1 0 0 0 330.0,446.4ZM333.0,458.3A172.1,172.1 0 0 1 332.1,458.4L331.7,446.4A160.1,160.1 0 0 0 332.5,446.4ZM425.9,426.4A172.1,172.1 0 0 1 425.0,427.0L418.1,417.2A160.1,160.1 0 0 0 418.9,416.6ZM467.5,188.7A172.1,172.1 0 0 1 468.0,189.6L458.1,196.4A160.1,160.1 0 0 0 457.6,195.5ZM213.1,156.3A172.1,172.1 0 0 1 213.9,155.6L221.7,164.8A160.1,160.1 0 0 0 220.9,165.4ZM469.2,381.5A172.1,172.1 0 0 1 468.6,382.4L458.6,375.7A160.1,160.1 0 0 0 459.2,374.9ZM486.9,346.8A172.1,172.1 0 0 1 486.6,347.5L475.4,343.2A160.1,160.1 0 0 0 475.7,342.6ZM276.0,121.7A172.1,172.1 0 0 1 277.3,121.3L280.6,132.8A160.1,160.1 0 0 0 279.4,133.1ZM160.4,238.7A172.1,172.1 0 0 1 160.8,237.4L172.3,240.9A160.1,160.1 0 0 0 171.9,242.1ZM193.1,396.1A172.1,172.1 0 0 1 192.3,395.0L201.6,387.4A160.1,160.1 0 0 0 202.4,388.4ZM159.5,241.8A172.1,172.1 0 0 1 159.8,240.9L171.3,244.1A160.1,160.1 0 0 0 171.1,244.9ZM450.1,405.4A172.1,172.1 0 0 1 449.4,406.1L440.8,397.8A160.1,160.1 0 0 0 441.4,397.1ZM217.9,420.5A172.1,172.1 0 0 1 217.2,420.0L224.8,410.6A160.1,160.1 0 0 0 225.4,411.2ZM497.8,281.7A172.1,172.1 0 0 1 497.8,283.1L485.8,283.3A160.1,160.1 0 0 0 485.8,282.1ZM323.2,114.3A172.1,172.1 0 0 1 324.1,114.3L324.2,126.3A160.1,160.1 0 0 0 323.4,126.3ZM156.2,315.9A172.1,172.1 0 0 1 156.0,314.9L167.9,312.9A160.1,160.1 0 0 0 168.0,313.9ZM171.9,363.5A172.1,172.1 0 0 1 171.5,362.7L182.2,357.4A160.1,160.1 0 0 0 182.6,358.1ZM192.4,177.6A172.1,172.1 0 0 1 192.9,177.0L202.2,184.6A160.1,160.1 0 0 0 201.7,185.1ZM430.8,422.7A172.1,172.1 0 0 1 429.9,423.4L422.7,413.8A160.1,160.1 0 0 0 423.4,413.2ZM481.6,359.4A172.1,172.1 0 0 1 481.2,360.3L470.3,355.2A160.1,160.1 0 0 0 470.8,354.3Z" fill="#800080" fill-opacity="0.32"/>
<path d="M155.0,265.3A172.1,172.1 0 0 1 155.1,263.8L167.0,265.4A160.1,160.1 0 0 0 166.9,266.8ZM167.0,220.0A172.1,172.1 0 0 1 167.7,218.3L178.7,223.1A160.1,160.1 0 0 0 178.1,224.6ZM404.1,133.2A172.1,172.1 0 0 1 405.7,134.0L400.2,144.6A160.1,160.1 0 0 0 398.7,143.9ZM497.8,287.0A172.1,172.1 0 0 1 497.8,289.4L485.8,289.2A160.1,160.1 0 0 0 485.8,287.0Z" fill="#800080" fill-opacity="0.33"/>
<path d="M184.8,187.7A172.1,172.1 0 0 1 185.8,186.2L195.6,193.2A160.1,160.1 0 0 0 194.6,194.6ZM332.8,114.4A172.1,172.1 0 0 1 334.3,114.5L333.7,126.5A160.1,160.1 0 0 0 332.3,126.4ZM351.5,116.2A172.1,172.1 0 0 1 352.7,116.4L350.8,128.3A160.1,160.1 0 0 0 349.7,128.1ZM485.2,221.7A172.1,172.1 0 0 1 486.1,223.9L474.9,228.2A160.1,160.1 0 0 0 474.1,226.2ZM494.6,253.0A172.1,172.1 0 0 1 494.9,254.7L483.1,256.9A160.1,160.1 0 0 0 482.8,255.3ZM300.0,456.6A172.1,172.1 0 0 1 297.6,456.2L299.6,444.4A160.1,160.1 0 0 0 301.8,444.7ZM257.1,444.2A172.1,172.1 0 0 1 255.5,443.5L260.4,432.5A160.1,160.1 0 0 0 261.9,433.2Z" fill="#800080" fill-opacity="0.44"/>
<path d="M214.2,417.5A172.1,172.1 0 0 1 211.5,415.1L219.5,406.1A160.1,160.1 0 0 0 222.0,408.3Z" fill="#800080" fill-opacity="0.45"/>
<path d="M394.6,444.1A172.1,172.1 0 0 1 392.9,444.9L388.2,433.8A160.1,160.1 0 0 0 389.8,433.1ZM269.1,448.9A172.1,172.1 0 0 1 267.7,448.4L271.7,437.1A160.1,160.1 0 0 0 273.1,437.6ZM266.8,448.1A172.1,172.1 0 0 1 265.8,447.7L270.0,436.5A160.1,160.1 0 0 0 270.9,436.8Z" fill="#800080" fill-opacity="0.47"/>
<path d="M344.6,115.3A172.1,172.1 0 0 1 346.4,115.5L345.0,127.5A160.1,160.1 0 0 0 343.3,127.3ZM167.0,352.8A172.1,172.1 0 0 1 165.8,350.0L177.0,345.6A160.1,160.1 0 0 0 178.1,348.2Z" fill="#800080" fill-opacity="0.56"/>
<path d="M447.4,164.7A172.1,172.1 0 0 1 448.5,165.7L439.9,174.1A160.1,160.1 0 0 0 438.9,173.2ZM473.0,375.5A172.1,172.1 0 0 1 472.5,376.4L462.2,370.1A160.1,160.1 0 0 0 462.7,369.2ZM471.8,377.4A172.1,172.1 0 0 1 471.3,378.3L461.1,371.9A160.1,160.1 0 0 0 461.6,371.1Z" fill="#800080" fill-opacity="0.57"/>
<path d="M213.9,417.2A172.1,172.1 0 0 1 212.7,416.2L220.6,407.2A160.1,160.1 0 0 0 221.7,408.1Z" fill="#800080" fill-opacity="0.62"/>
<path d="M328.4,458.5A172.1,172.1 0 0 1 326.4,458.5L326.4,446.5A160.1,160.1 0 0 0 328.2,446.5ZM346.2,457.3A172.1,172.1 0 0 1 344.7,457.4L343.4,445.5A160.1,160.1 0 0 0 344.8,445.4ZM343.5,457.6A172.1,172.1 0 0 1 342.4,457.7L341.2,445.8A160.1,160.1 0 0 0 342.2,445.7Z" fill="#800080" fill-opacity="0.66"/>
<path d="M155.8,259.5A172.1,172.1 0 0 1 156.2,257.1L168.0,259.1A160.1,160.1 0 0 0 167.6,261.4ZM321.8,114.3A172.1,172.1 0 0 1 323.6,114.3L323.8,126.3A160.1,160.1 0 0 0 322.1,126.3ZM366.2,119.1A172.1,172.1 0 0 1 368.5,119.7L365.6,131.3A160.1,160.1 0 0 0 363.4,130.8ZM449.0,166.3A172.1,172.1 0 0 1 450.1,167.4L441.4,175.7A160.1,160.1 0 0 0 440.4,174.7ZM392.7,445.0A172.1,172.1 0 0 1 391.7,445.4L387.1,434.3A160.1,160.1 0 0 0 388.0,433.9ZM383.8,448.4A172.1,172.1 0 0 1 381.5,449.2L377.6,437.9A160.1,160.1 0 0 0 379.7,437.1ZM272.0,449.9A172.1,172.1 0 0 1 270.1,449.3L274.0,437.9A160.1,160.1 0 0 0 275.7,438.5ZM155.7,312.7A172.1,172.1 0 0 1 155.3,310.4L167.2,308.7A160.1,160.1 0 0 0 167.5,310.9Z" fill="#800080" fill-opacity="0.67"/>
<path d="M212.8,416.2A172.1,172.1 0 0 1 212.0,415.5L219.9,406.5A160.1,160.1 0 0 0 220.7,407.2Z" fill="#800080" fill-opacity="0.76"/>
<path d="M421.4,143.3A172.1,172.1 0 0 1 422.3,143.9L415.6,153.9A160.1,160.1 0 0 0 414.7,153.3ZM422.5,144.1A172.1,172.1 0 0 1 424.1,145.2L417.2,155.0A160.1,160.1 0 0 0 415.8,154.0ZM493.8,249.2A172.1,172.1 0 0 1 494.3,251.5L482.5,253.9A160.1,160.1 0 0 0 482.1,251.7ZM331.7,458.4A172.1,172.1 0 0 1 329.7,458.5L329.5,446.5A160.1,160.1 0 0 0 331.2,446.4ZM159.7,331.8A172.1,172.1 0 0 1 159.0,328.9L170.6,325.9A160.1,160.1 0 0 0 171.3,328.6Z" fill="#800080" fill-opacity="0.78"/>
<path d="M436.6,154.8A172.1,172.1 0 0 1 438.9,156.7L431.0,165.8A160.1,160.1 0 0 0 428.9,163.9ZM436.6,154.8A172.1,172.1 0 0 1 438.4,156.3L430.6,165.4A160.1,160.1 0 0 0 428.9,163.9ZM493.7,323.8A172.1,172.1 0 0 1 493.1,326.4L481.5,323.6A160.1,160.1 0 0 0 482.0,321.2ZM431.7,422.0A172.1,172.1 0 0 1 429.3,423.8L422.1,414.3A160.1,160.1 0 0 0 424.3,412.6Z" fill="#800080" fill-opacity="0.89"/>
<path d="M467.9,357.0A158.7,158.7 0 0 1 467.5,357.8L456.8,352.4A146.7,146.7 0 0 0 457.1,351.7ZM167.1,291.0A158.7,158.7 0 0 1 167.1,290.1L179.1,289.8A146.7,146.7 0 0 0 179.1,290.6ZM321.7,127.8A158.7,158.7 0 0 1 322.6,127.7L322.9,139.7A146.7,146.7 0 0 0 322.0,139.7ZM466.8,359.1A158.7,158.7 0 0 1 466.3,360.2L455.6,354.6A146.7,146.7 0 0 0 456.2,353.6ZM167.5,298.9A158.7,158.7 0 0 1 167.5,297.9L179.4,297.1A146.7,146.7 0 0 0 179.5,298.0ZM194.9,376.3A158.7,158.7 0 0 1 194.5,375.7L204.5,368.9A146.7,146.7 0 0 0 204.8,369.5ZM281.4,438.8A158.7,158.7 0 0 1 280.8,438.6L284.2,427.1A146.7,146.7 0 0 0 284.8,427.3ZM294.4,130.8A158.7,158.7 0 0 1 295.1,130.7L297.4,142.5A146.7,146.7 0 0 0 296.8,142.6ZM445.4,390.6A158.7,158.7 0 0 1 444.9,391.2L435.9,383.3A146.7,146.7 0 0 0 436.4,382.7ZM334.8,444.8A158.7,158.7 0 0 1 333.8,444.9L333.2,432.9A146.7,146.7 0 0 0 334.1,432.9ZM169.4,313.6A158.7,158.7 0 0 1 169.2,312.7L181.1,310.7A146.7,146.7 0 0 0 181.2,311.6ZM231.4,414.0A158.7,158.7 0 0 1 230.7,413.5L237.9,403.9A146.7,146.7 0 0 0 238.5,404.4ZM181.8,353.3A158.7,158.7 0 0 1 181.6,352.7L192.5,347.7A146.7,146.7 0 0 0 192.7,348.3ZM305.6,129.0A158.7,158.7 0 0 1 306.6,128.9L308.0,140.8A146.7,146.7 0 0 0 307.1,140.9ZM264.8,432.9A158.7,158.7 0 0 1 264.2,432.7L268.9,421.6A146.7,146.7 0 0 0 269.5,421.9Z" fill="#808000" fill-opacity="0.12"/>
<path d="M208.6,179.4A158.7,158.7 0 0 1 210.8,177.0L219.5,185.2A146.7,146.7 0 0 0 217.4,187.5ZM169.0,311.2A158.7,158.7 0 0 1 168.2,305.7L180.1,304.3A146.7,146.7 0 0 0 180.9,309.3Z" fill="#808000" fill-opacity="0.17"/>
<path d="M329.9,445.0A158.7,158.7 0 0 1 328.7,445.1L328.5,433.1A146.7,146.7 0 0 0 329.6,433.0ZM277.2,135.3A158.7,158.7 0 0 1 278.1,135.0L281.7,146.5A146.7,146.7 0 0 0 280.9,146.7ZM181.3,220.7A158.7,158.7 0 0 1 181.6,220.0L192.5,225.0A146.7,146.7 0 0 0 192.2,225.7ZM167.1,286.9A158.7,158.7 0 0 1 167.1,285.6L179.1,285.7A146.7,146.7 0 0 0 179.1,286.8ZM456.4,196.3A158.7,158.7 0 0 1 457.0,197.1L447.0,203.9A146.7,146.7 0 0 0 446.5,203.2ZM332.4,445.0A158.7,158.7 0 0 1 331.2,445.0L330.8,433.0A146.7,146.7 0 0 0 331.9,433.0ZM458.0,374.1A158.7,158.7 0 0 1 457.5,374.9L447.5,368.2A146.7,146.7 0 0 0 448.0,367.5ZM237.1,154.8A158.7,158.7 0 0 1 238.1,154.1L244.7,164.1A146.7,146.7 0 0 0 243.8,164.7ZM189.6,368.0A158.7,158.7 0 0 1 189.3,367.4L199.6,361.3A146.7,146.7 0 0 0 199.9,361.8ZM481.1,253.9A158.7,158.7 0 0 1 481.3,254.8L469.5,257.2A146.7,146.7 0 0 0 469.3,256.3ZM356.4,130.7A158.7,158.7 0 0 1 357.0,130.8L354.7,142.6A146.7,146.7 0 0 0 354.1,142.5ZM190.9,370.1A158.7,158.7 0 0 1 190.4,369.2L200.6,363.0A146.7,146.7 0 0 0 201.1,363.7ZM299.3,442.9A158.7,158.7 0 0 1 298.5,442.7L300.5,430.9A146.7,146.7 0 0 0 301.3,431.0ZM328.3,445.1A158.7,158.7 0 0 1 327.6,445.1L327.5,433.1A146.7,146.7 0 0 0 328.1,433.1ZM219.3,168.7A158.7,158.7 0 0 1 219.8,168.2L227.8,177.2A146.7,146.7 0 0 0 227.3,177.6ZM245.6,423.4A158.7,158.7 0 0 1 244.9,423.0L251.0,412.6A146.7,146.7 0 0 0 251.7,413.0ZM457.5,197.9A158.7,158.7 0 0 1 457.8,198.4L447.9,205.1A146.7,146.7 0 0 0 447.5,204.6ZM436.9,173.1A158.7,158.7 0 0 1 437.8,174.0L429.3,182.5A146.7,146.7 0 0 0 428.5,181.7ZM447.5,184.6A158.7,158.7 0 0 1 448.3,185.5L439.0,193.2A146.7,146.7 0 0 0 438.3,192.3ZM167.3,277.4A158.7,158.7 0 0 1 167.4,276.1L179.4,276.9A146.7,146.7 0 0 0 179.3,278.0ZM202.8,186.0A158.7,158.7 0 0 1 203.3,185.5L212.5,193.1A146.7,146.7 0 0 0 212.1,193.6ZM330.5,445.0A158.7,158.7 0 0 1 329.8,445.0L329.5,433.1A146.7,146.7 0 0 0 330.2,433.0ZM243.1,421.9A158.7,158.7 0 0 1 242.4,421.5L248.7,411.3A146.7,146.7 0 0 0 249.4,411.7Z" fill="#808000" fill-opacity="0.18"/>
<path d="M366.6,439.8A158.7,158.7 0 0 1 361.2,441.1L358.5,429.4A146.7,146.7 0 0 0 363.5,428.2Z" fill="#808000" fill-opacity="0.2"/>
<path d="M332.3,127.8A158.7,158.7 0 0 1 333.6,127.9L333.0,139.9A146.7,146.7 0 0 0 331.8,139.8Z" fill="#808000" fill-opacity="0.22"/>
<path d="M186.3,210.6A158.7,158.7 0 0 1 192.7,199.8L202.8,206.4A146.7,146.7 0 0 0 196.9,216.3ZM435.0,171.3A158.7,158.7 0 0 1 440.9,177.2L432.2,185.4A146.7,146.7 0 0 0 426.7,180.0ZM410.1,420.8A158.7,158.7 0 0 1 407.2,422.6L401.1,412.3A146.7,146.7 0 0 0 403.7,410.7ZM289.0,440.8A158.7,158.7 0 0 1 281.5,438.8L284.8,427.3A146.7,146.7 0 0 0 291.8,429.1ZM331.3,445.0A158.7,158.7 0 0 1 325.8,445.1L325.8,433.1A146.7,146.7 0 0 0 330.9,433.0ZM345.4,443.9A158.7,158.7 0 0 1 340.4,444.4L339.3,432.5A146.7,146.7 0 0 0 343.9,432.0Z" fill="#808000" fill-opacity="0.23"/>
<path d="M480.0,323.5A158.7,158.7 0 0 1 479.9,324.2L468.2,321.3A146.7,146.7 0 0 0 468.4,320.7ZM421.1,413.3A158.7,158.7 0 0 1 420.1,414.0L412.9,404.4A146.7,146.7 0 0 0 413.9,403.7ZM384.1,434.0A158.7,158.7 0 0 1 383.4,434.2L379.1,423.1A146.7,146.7 0 0 0 379.7,422.8ZM351.3,443.0A158.7,158.7 0 0 1 350.5,443.2L348.6,431.3A146.7,146.7 0 0 0 349.4,431.2ZM319.1,127.8A158.7,158.7 0 0 1 320.4,127.8L320.8,139.8A146.7,146.7 0 0 0 319.6,139.8ZM484.4,285.2A158.7,158.7 0 0 1 484.4,286.2L472.4,286.2A146.7,146.7 0 0 0 472.4,285.3ZM167.4,297.6A158.7,158.7 0 0 1 167.4,296.9L179.4,296.1A146.7,146.7 0 0 0 179.4,296.7ZM279.8,134.5A158.7,158.7 0 0 1 281.0,134.1L284.4,145.6A146.7,146.7 0 0 0 283.3,146.0ZM470.4,221.1A158.7,158.7 0 0 1 470.7,221.9L459.8,226.8A146.7,146.7 0 0 0 459.5,226.1ZM179.9,223.8A158.7,158.7 0 0 1 180.3,223.0L191.3,227.8A146.7,146.7 0 0 0 191.0,228.5ZM469.5,353.7A158.7,158.7 0 0 1 468.9,354.8L458.1,349.6A146.7,146.7 0 0 0 458.6,348.6ZM199.8,189.8A158.7,158.7 0 0 1 200.2,189.3L209.7,196.6A146.7,146.7 0 0 0 209.3,197.1ZM480.9,319.7A158.7,158.7 0 0 1 480.7,320.7L469.0,318.1A146.7,146.7 0 0 0 469.2,317.2ZM254.3,144.7A158.7,158.7 0 0 1 254.9,144.4L260.3,155.1A146.7,146.7 0 0 0 259.7,155.4ZM323.4,127.7A158.7,158.7 0 0 1 324.3,127.7L324.4,139.7A146.7,146.7 0 0 0 323.6,139.7ZM422.6,412.1A158.7,158.7 0 0 1 421.8,412.7L414.6,403.2A146.7,146.7 0 0 0 415.3,402.6ZM234.0,415.9A158.7,158.7 0 0 1 233.0,415.2L240.0,405.5A146.7,146.7 0 0 0 241.0,406.1ZM235.4,155.9A158.7,158.7 0 0 1 236.1,155.5L242.8,165.4A146.7,146.7 0 0 0 242.2,165.8Z" fill="#808000" fill-opacity="0.25"/>
<path d="M332.5,445.0A158.7,158.7 0 0 1 331.6,445.0L331.2,433.0A146.7,146.7 0 0 0 331.9,433.0ZM483.2,306.3A158.7,158.7 0 0 1 483.1,307.1L471.2,305.6A146.7,146.7 0 0 0 471.3,304.8ZM221.8,166.5A158.7,158.7 0 0 1 222.6,165.8L230.4,174.9A146.7,146.7 0 0 0 229.7,175.5ZM169.7,315.0A158.7,158.7 0 0 1 169.4,313.8L181.3,311.7A146.7,146.7 0 0 0 181.5,312.9ZM172.5,245.3A158.7,158.7 0 0 1 172.7,244.5L184.3,247.6A146.7,146.7 0 0 0 184.1,248.4ZM182.6,354.8A158.7,158.7 0 0 1 182.0,353.7L192.9,348.6A146.7,146.7 0 0 0 193.4,349.6ZM426.1,163.4A158.7,158.7 0 0 1 426.6,163.9L419.0,173.1A146.7,146.7 0 0 0 418.5,172.7ZM362.4,440.8A158.7,158.7 0 0 1 361.6,441.0L358.9,429.3A146.7,146.7 0 0 0 359.7,429.1ZM484.4,288.2A158.7,158.7 0 0 1 484.4,289.5L472.4,289.2A146.7,146.7 0 0 0 472.4,288.1ZM325.4,127.7A158.7,158.7 0 0 1 326.0,127.7L326.0,139.7A146.7,146.7 0 0 0 325.4,139.7ZM178.7,226.7A158.7,158.7 0 0 1 179.0,226.0L190.1,230.5A146.7,146.7 0 0 0 189.8,231.3ZM483.1,306.9A158.7,158.7 0 0 1 483.0,307.9L471.1,306.2A146.7,146.7 0 0 0 471.2,305.4ZM185.9,211.4A158.7,158.7 0 0 1 186.5,210.3L197.0,216.1A146.7,146.7 0 0 0 196.5,217.1ZM243.2,421.9A158.7,158.7 0 0 1 242.6,421.6L248.9,411.4A146.7,146.7 0 0 0 249.4,411.7ZM469.1,354.6A158.7,158.7 0 0 1 468.8,355.2L457.9,350.0A146.7,146.7 0 0 0 458.2,349.4ZM220.9,405.5A158.7,158.7 0 0 1 220.2,404.9L228.2,396.0A146.7,146.7 0 0 0 228.8,396.5ZM296.0,442.3A158.7,158.7 0 0 1 295.3,442.1L297.6,430.4A146.7,146.7 0 0 0 298.2,430.5ZM482.7,262.9A158.7,158.7 0 0 1 482.9,264.2L471.0,265.8A146.7,146.7 0 0 0 470.8,264.7Z" fill="#808000" fill-opacity="0.32"/>
<path d="M167.1,285.8A158.7,158.7 0 0 1 167.1,284.2L179.1,284.4A146.7,146.7 0 0 0 179.1,285.9ZM343.2,128.7A158.7,158.7 0 0 1 344.8,128.8L343.4,140.8A146.7,146.7 0 0 0 341.8,140.6Z" fill="#808000" fill-opacity="0.33"/>
<path d="M168.9,310.5A158.7,158.7 0 0 1 168.7,309.1L180.6,307.4A146.7,146.7 0 0 0 180.7,308.6ZM168.5,308.0A158.7,158.7 0 0 1 168.3,306.2L180.2,304.7A146.7,146.7 0 0 0 180.4,306.4Z" fill="#808000" fill-opacity="0.39"/>
<path d="M169.0,261.6A158.7,158.7 0 0 1 169.4,259.4L181.2,261.4A146.7,146.7 0 0 0 180.9,263.5ZM484.4,287.0A158.7,158.7 0 0 1 484.4,289.2L472.4,289.0A146.7,146.7 0 0 0 472.4,286.9ZM459.1,200.3A158.7,158.7 0 0 1 459.8,201.5L449.7,207.9A146.7,146.7 0 0 0 449.0,206.8ZM447.8,184.9A158.7,158.7 0 0 1 448.6,186.0L439.4,193.6A146.7,146.7 0 0 0 438.5,192.6Z" fill="#808000" fill-opacity="0.44"/>
<path d="M361.4,131.8A158.7,158.7 0 0 1 364.7,132.5L361.7,144.2A146.7,146.7 0 0 0 358.8,143.5ZM433.1,169.5A158.7,158.7 0 0 1 436.1,172.3L427.7,181.0A146.7,146.7 0 0 0 425.0,178.3ZM474.4,231.0A158.7,158.7 0 0 1 475.8,234.9L464.5,238.8A146.7,146.7 0 0 0 463.2,235.1ZM460.8,369.7A158.7,158.7 0 0 1 457.1,375.5L447.2,368.8A146.7,146.7 0 0 0 450.6,363.4ZM222.9,407.3A158.7,158.7 0 0 1 220.4,405.1L228.4,396.1A146.7,146.7 0 0 0 230.7,398.1Z" fill="#808000" fill-opacity="0.45"/>
<path d="M208.4,179.6A158.7,158.7 0 0 1 209.6,178.3L218.4,186.4A146.7,146.7 0 0 0 217.3,187.7Z" fill="#808000" fill-opacity="0.48"/>
<path d="M189.4,205.2A158.7,158.7 0 0 1 190.3,203.7L200.6,209.9A146.7,146.7 0 0 0 199.7,211.3ZM190.7,203.1A158.7,158.7 0 0 1 191.4,201.9L201.6,208.3A146.7,146.7 0 0 0 200.9,209.4ZM436.8,173.1A158.7,158.7 0 0 1 437.8,174.0L429.3,182.5A146.7,146.7 0 0 0 428.4,181.6ZM438.1,174.3A158.7,158.7 0 0 1 439.1,175.3L430.5,183.7A146.7,146.7 0 0 0 429.6,182.8ZM285.2,439.8A158.7,158.7 0 0 1 283.5,439.4L286.7,427.8A146.7,146.7 0 0 0 288.2,428.2ZM282.9,439.2A158.7,158.7 0 0 1 281.9,438.9L285.2,427.4A146.7,146.7 0 0 0 286.1,427.6ZM328.1,445.1A158.7,158.7 0 0 1 326.7,445.1L326.6,433.1A146.7,146.7 0 0 0 327.9,433.1Z" fill="#808000" fill-opacity="0.55"/>
<path d="M210.0,177.8A158.7,158.7 0 0 1 211.0,176.8L219.7,185.1A146.7,146.7 0 0 0 218.8,186.0ZM263.0,140.6A158.7,158.7 0 0 1 265.5,139.6L270.1,150.7A146.7,146.7 0 0 0 267.7,151.7ZM482.8,309.0A158.7,158.7 0 0 1 482.5,311.2L470.6,309.3A146.7,146.7 0 0 0 471.0,307.3ZM380.8,435.2A158.7,158.7 0 0 1 378.7,436.0L374.7,424.7A146.7,146.7 0 0 0 376.6,424.0ZM246.5,423.9A158.7,158.7 0 0 1 244.8,422.9L251.0,412.6A146.7,146.7 0 0 0 252.5,413.5ZM181.7,353.0A158.7,158.7 0 0 1 180.8,350.9L191.7,346.1A146.7,146.7 0 0 0 192.6,347.9Z" fill="#808000" fill-opacity="0.56"/>
<path d="M363.3,440.6A158.7,158.7 0 0 1 362.4,440.8L359.6,429.1A146.7,146.7 0 0 0 360.5,428.9Z" fill="#808000" fill-opacity="0.57"/>
<path d="M433.2,169.6A158.7,158.7 0 0 1 433.9,170.3L425.8,179.1A146.7,146.7 0 0 0 425.1,178.4ZM475.3,233.4A158.7,158.7 0 0 1 475.8,234.7L464.5,238.6A146.7,146.7 0 0 0 464.0,237.4ZM460.6,370.1A158.7,158.7 0 0 1 459.8,371.3L449.7,364.9A146.7,146.7 0 0 0 450.4,363.8ZM459.4,372.0A158.7,158.7 0 0 1 458.8,372.9L448.8,366.3A146.7,146.7 0 0 0 449.3,365.6ZM458.2,373.9A158.7,158.7 0 0 1 457.2,375.4L447.2,368.6A146.7,146.7 0 0 0 448.1,367.3ZM221.7,406.3A158.7,158.7 0 0 1 220.7,405.4L228.6,396.4A146.7,146.7 0 0 0 229.6,397.2Z" fill="#808000" fill-opacity="0.62"/>
<path d="M186.4,210.4A158.7,158.7 0 0 1 186.9,209.5L197.4,215.3A146.7,146.7 0 0 0 197.0,216.2ZM187.5,208.5A158.7,158.7 0 0 1 188.0,207.6L198.4,213.6A146.7,146.7 0 0 0 197.9,214.4ZM191.8,201.3A158.7,158.7 0 0 1 192.8,199.8L202.8,206.3A146.7,146.7 0 0 0 201.9,207.7ZM439.5,175.7A158.7,158.7 0 0 1 440.4,176.7L431.8,185.0A146.7,146.7 0 0 0 430.9,184.1ZM410.5,420.6A158.7,158.7 0 0 1 409.0,421.5L402.7,411.3A146.7,146.7 0 0 0 404.1,410.4ZM287.0,440.3A158.7,158.7 0 0 1 286.0,440.0L289.0,428.4A146.7,146.7 0 0 0 289.9,428.6ZM330.1,445.0A158.7,158.7 0 0 1 329.1,445.1L328.8,433.1A146.7,146.7 0 0 0 329.7,433.0ZM344.7,444.0A158.7,158.7 0 0 1 343.7,444.1L342.3,432.2A146.7,146.7 0 0 0 343.2,432.1ZM342.1,444.3A158.7,158.7 0 0 1 340.4,444.4L339.3,432.5A146.7,146.7 0 0 0 340.9,432.3Z" fill="#808000" fill-opacity="0.66"/>
<path d="M167.7,272.4A158.7,158.7 0 0 1 167.8,270.5L179.8,271.7A146.7,146.7 0 0 0 179.6,273.5ZM407.5,150.4A158.7,158.7 0 0 1 409.8,151.8L403.5,162.0A146.7,146.7 0 0 0 401.3,160.7ZM416.3,156.1A158.7,158.7 0 0 1 418.6,157.7L411.6,167.4A146.7,146.7 0 0 0 409.5,165.9ZM412.6,153.6A158.7,158.7 0 0 1 414.0,154.5L407.4,164.5A146.7,146.7 0 0 0 406.1,163.6ZM452.5,381.9A158.7,158.7 0 0 1 451.1,383.7L441.7,376.3A146.7,146.7 0 0 0 442.9,374.7ZM434.4,402.1A158.7,158.7 0 0 1 432.8,403.6L424.7,394.7A146.7,146.7 0 0 0 426.2,393.3ZM394.3,429.5A158.7,158.7 0 0 1 392.3,430.5L387.3,419.6A146.7,146.7 0 0 0 389.1,418.7ZM365.6,440.0A158.7,158.7 0 0 1 364.7,440.3L361.7,428.6A146.7,146.7 0 0 0 362.6,428.4ZM380.0,435.5A158.7,158.7 0 0 1 377.4,436.5L373.5,425.1A146.7,146.7 0 0 0 375.9,424.3ZM243.8,422.3A158.7,158.7 0 0 1 241.9,421.1L248.2,410.9A146.7,146.7 0 0 0 250.0,412.0Z" fill="#808000" fill-opacity="0.67"/>
<path d="M363.4,132.2A158.7,158.7 0 0 1 364.8,132.6L361.8,144.2A146.7,146.7 0 0 0 360.6,143.9ZM434.7,171.0A158.7,158.7 0 0 1 435.7,171.9L427.3,180.6A146.7,146.7 0 0 0 426.4,179.7ZM222.8,407.2A158.7,158.7 0 0 1 222.0,406.5L229.9,397.4A146.7,146.7 0 0 0 230.6,398.0Z" fill="#808000" fill-opacity="0.76"/>
<path d="M188.7,206.5A158.7,158.7 0 0 1 189.6,204.9L199.9,211.1A146.7,146.7 0 0 0 199.0,212.5ZM435.4,171.7A158.7,158.7 0 0 1 436.4,172.7L428.1,181.3A146.7,146.7 0 0 0 427.1,180.4ZM481.7,315.7A158.7,158.7 0 0 1 481.2,318.2L469.5,315.8A146.7,146.7 0 0 0 469.9,313.5ZM417.0,416.2A158.7,158.7 0 0 1 415.2,417.5L408.4,407.6A146.7,146.7 0 0 0 410.1,406.4ZM408.2,422.0A158.7,158.7 0 0 1 407.4,422.5L401.2,412.2A146.7,146.7 0 0 0 402.0,411.7ZM289.0,440.8A158.7,158.7 0 0 1 287.6,440.5L290.5,428.8A146.7,146.7 0 0 0 291.8,429.1Z" fill="#808000" fill-opacity="0.78"/>
<path d="M361.5,131.8A158.7,158.7 0 0 1 363.2,132.2L360.4,143.8A146.7,146.7 0 0 0 358.8,143.5ZM376.6,136.1A158.7,158.7 0 0 1 379.2,137.0L375.2,148.3A146.7,146.7 0 0 0 372.8,147.4ZM474.6,231.2A158.7,158.7 0 0 1 475.2,232.9L463.9,236.9A146.7,146.7 0 0 0 463.3,235.4ZM455.7,377.4A158.7,158.7 0 0 1 454.5,379.2L444.7,372.2A146.7,146.7 0 0 0 445.9,370.5Z" fill="#808000" fill-opacity="0.89"/>
<path d="M336.4,141.5A145.3,145.3 0 0 1 337.1,141.5L336.2,153.5A133.3,133.3 0 0 0 335.5,153.5ZM413.0,402.6A145.3,145.3 0 0 1 412.1,403.2L405.0,393.6A133.3,133.3 0 0 0 405.8,393.0ZM426.7,181.9A145.3,145.3 0 0 1 427.5,182.7L419.1,191.2A133.3,133.3 0 0 0 418.3,190.5ZM379.1,421.5A145.3,145.3 0 0 1 378.6,421.8L374.2,410.6A133.3,133.3 0 0 0 374.7,410.4ZM470.7,296.9A145.3,145.3 0 0 1 470.6,297.6L458.7,296.7A133.3,133.3 0 0 0 458.7,296.0ZM433.3,188.7A145.3,145.3 0 0 1 433.9,189.3L424.9,197.4A133.3,133.3 0 0 0 424.4,196.8ZM331.8,431.6A145.3,145.3 0 0 1 330.7,431.6L330.3,419.6A133.3,133.3 0 0 0 331.3,419.6ZM182.8,312.6A145.3,145.3 0 0 1 182.6,311.5L194.5,309.4A133.3,133.3 0 0 0 194.6,310.5ZM461.8,337.4A145.3,145.3 0 0 1 461.6,338.0L450.4,333.7A133.3,133.3 0 0 0 450.6,333.2ZM202.4,209.6A145.3,145.3 0 0 1 202.9,208.8L213.0,215.2A133.3,133.3 0 0 0 212.6,215.9ZM270.5,152.0A145.3,145.3 0 0 1 271.2,151.7L275.7,162.9A133.3,133.3 0 0 0 275.0,163.1ZM469.8,305.2A145.3,145.3 0 0 1 469.7,306.1L457.8,304.4A133.3,133.3 0 0 0 457.9,303.6ZM361.8,145.6A145.3,145.3 0 0 1 362.9,145.9L359.9,157.5A133.3,133.3 0 0 0 358.8,157.3ZM448.8,209.1A145.3,145.3 0 0 1 449.4,210.0L439.2,216.4A133.3,133.3 0 0 0 438.6,215.5Z" fill="#ffff00" fill-opacity="0.12"/>
<path d="M410.3,404.6A145.3,145.3 0 0 1 409.6,405.1L402.7,395.3A133.3,133.3 0 0 0 403.3,394.8ZM281.3,148.1A145.3,145.3 0 0 1 282.1,147.8L285.7,159.2A133.3,133.3 0 0 0 285.0,159.5ZM349.2,429.8A145.3,145.3 0 0 1 348.4,429.9L346.6,418.1A133.3,133.3 0 0 0 347.2,418.0ZM230.6,176.6A145.3,145.3 0 0 1 231.3,176.0L239.1,185.1A133.3,133.3 0 0 0 238.5,185.7ZM466.6,322.0A145.3,145.3 0 0 1 466.4,322.8L454.8,319.8A133.3,133.3 0 0 0 455.0,319.0ZM201.1,361.1A145.3,145.3 0 0 1 200.8,360.5L211.1,354.4A133.3,133.3 0 0 0 211.4,354.9ZM363.8,426.6A145.3,145.3 0 0 1 363.0,426.8L359.9,415.2A133.3,133.3 0 0 0 360.6,415.1ZM180.9,297.9A145.3,145.3 0 0 1 180.8,297.0L192.8,296.1A133.3,133.3 0 0 0 192.9,296.9ZM266.7,419.1A145.3,145.3 0 0 1 265.9,418.8L270.8,407.9A133.3,133.3 0 0 0 271.6,408.2ZM192.3,343.9A145.3,145.3 0 0 1 192.0,343.1L203.0,338.4A133.3,133.3 0 0 0 203.3,339.1ZM180.5,290.4A145.3,145.3 0 0 1 180.5,289.5L192.5,289.2A133.3,133.3 0 0 0 192.5,290.0ZM325.4,141.1A145.3,145.3 0 0 1 326.0,141.1L326.0,153.1A133.3,133.3 0 0 0 325.4,153.1ZM283.8,147.3A145.3,145.3 0 0 1 284.9,147.0L288.3,158.5A133.3,133.3 0 0 0 287.3,158.8ZM330.1,431.6A145.3,145.3 0 0 1 329.5,431.7L329.2,419.7A133.3,133.3 0 0 0 329.8,419.6ZM229.7,395.4A145.3,145.3 0 0 1 229.1,394.9L237.1,386.0A133.3,133.3 0 0 0 237.7,386.4ZM233.3,174.3A145.3,145.3 0 0 1 233.8,173.9L241.4,183.2A133.3,133.3 0 0 0 241.0,183.5Z" fill="#ffff00" fill-opacity="0.18"/>
<path d="M203.5,207.8A145.3,145.3 0 0 1 205.6,204.6L215.6,211.4A133.3,133.3 0 0 0 213.6,214.3ZM292.1,427.7A145.3,145.3 0 0 1 285.2,425.9L288.6,414.4A133.3,133.3 0 0 0 294.9,416.1ZM363.1,426.8A145.3,145.3 0 0 1 358.2,428.0L355.5,416.3A133.3,133.3 0 0 0 360.0,415.2Z" fill="#ffff00" fill-opacity="0.2"/>
<path d="M180.5,285.9A145.3,145.3 0 0 1 180.5,284.4L192.5,284.5A133.3,133.3 0 0 0 192.5,285.9Z" fill="#ffff00" fill-opacity="0.22"/>
<path d="M196.3,220.4A145.3,145.3 0 0 1 199.9,213.7L210.3,219.7A133.3,133.3 0 0 0 207.0,225.9ZM405.9,165.2A145.3,145.3 0 0 1 408.5,166.9L401.6,176.8A133.3,133.3 0 0 0 399.3,175.2ZM458.9,228.3A145.3,145.3 0 0 1 460.4,231.9L449.3,236.4A133.3,133.3 0 0 0 447.9,233.1ZM330.8,431.6A145.3,145.3 0 0 1 325.8,431.7L325.8,419.7A133.3,133.3 0 0 0 330.4,419.6ZM343.7,430.6A145.3,145.3 0 0 1 339.2,431.1L338.1,419.1A133.3,133.3 0 0 0 342.2,418.7ZM204.0,365.7A145.3,145.3 0 0 1 202.4,363.2L212.6,356.8A133.3,133.3 0 0 0 214.1,359.2Z" fill="#ffff00" fill-opacity="0.23"/>
<path d="M193.5,226.3A145.3,145.3 0 0 1 193.8,225.6L204.7,230.6A133.3,133.3 0 0 0 204.4,231.2ZM462.9,238.3A145.3,145.3 0 0 1 463.1,239.0L451.8,242.9A133.3,133.3 0 0 0 451.5,242.3ZM302.0,429.7A145.3,145.3 0 0 1 301.2,429.6L303.2,417.8A133.3,133.3 0 0 0 303.9,417.9ZM443.0,200.5A145.3,145.3 0 0 1 443.4,201.2L433.7,208.2A133.3,133.3 0 0 0 433.3,207.6ZM461.7,337.6A145.3,145.3 0 0 1 461.4,338.4L450.2,334.1A133.3,133.3 0 0 0 450.5,333.4ZM190.1,338.6A145.3,145.3 0 0 1 189.7,337.5L201.0,333.3A133.3,133.3 0 0 0 201.3,334.3ZM369.7,147.9A145.3,145.3 0 0 1 370.7,148.2L367.0,159.7A133.3,133.3 0 0 0 366.0,159.3ZM244.6,165.9A145.3,145.3 0 0 1 245.5,165.3L252.1,175.3A133.3,133.3 0 0 0 251.3,175.9ZM180.5,290.6A145.3,145.3 0 0 1 180.5,289.8L192.5,289.5A133.3,133.3 0 0 0 192.5,290.2ZM349.5,429.8A145.3,145.3 0 0 1 348.3,429.9L346.5,418.1A133.3,133.3 0 0 0 347.5,417.9ZM227.9,179.0A145.3,145.3 0 0 1 228.5,178.5L236.5,187.4A133.3,133.3 0 0 0 236.0,187.9ZM384.5,419.3A145.3,145.3 0 0 1 383.8,419.6L379.0,408.6A133.3,133.3 0 0 0 379.7,408.3ZM417.6,173.8A145.3,145.3 0 0 1 418.1,174.2L410.5,183.5A133.3,133.3 0 0 0 410.0,183.1ZM457.3,348.0A145.3,145.3 0 0 1 456.9,349.0L446.0,343.9A133.3,133.3 0 0 0 446.5,342.9ZM426.1,181.3A145.3,145.3 0 0 1 426.6,181.8L418.2,190.4A133.3,133.3 0 0 0 417.8,190.0ZM399.0,160.9A145.3,145.3 0 0 1 399.6,161.3L393.5,171.6A133.3,133.3 0 0 0 392.9,171.3ZM250.2,410.5A145.3,145.3 0 0 1 249.6,410.2L255.9,399.9A133.3,133.3 0 0 0 256.4,400.3ZM239.4,403.2A145.3,145.3 0 0 1 238.8,402.8L245.9,393.2A133.3,133.3 0 0 0 246.5,393.6ZM387.4,418.0A145.3,145.3 0 0 1 386.6,418.3L381.6,407.4A133.3,133.3 0 0 0 382.3,407.1ZM246.6,164.6A145.3,145.3 0 0 1 247.2,164.1L253.7,174.2A133.3,133.3 0 0 0 253.1,174.6Z" fill="#ffff00" fill-opacity="0.25"/>
<path d="M467.0,320.4A145.3,145.3 0 0 1 466.9,321.0L455.2,318.2A133.3,133.3 0 0 0 455.3,317.6ZM180.5,286.8A145.3,145.3 0 0 1 180.5,285.7L192.5,285.8A133.3,133.3 0 0 0 192.5,286.8ZM384.5,153.5A145.3,145.3 0 0 1 385.1,153.8L380.2,164.7A133.3,133.3 0 0 0 379.7,164.5ZM446.9,366.7A145.3,145.3 0 0 1 446.4,367.4L436.4,360.7A133.3,133.3 0 0 0 436.9,360.1ZM180.8,296.6A145.3,145.3 0 0 1 180.8,296.0L192.7,295.2A133.3,133.3 0 0 0 192.8,295.8ZM271.7,421.3A145.3,145.3 0 0 1 271.0,421.0L275.5,409.9A133.3,133.3 0 0 0 276.1,410.1ZM454.9,352.9A145.3,145.3 0 0 1 454.4,354.0L443.8,348.4A133.3,133.3 0 0 0 444.2,347.4ZM186.1,246.2A145.3,145.3 0 0 1 186.5,245.1L198.0,248.5A133.3,133.3 0 0 0 197.7,249.5ZM455.2,220.5A145.3,145.3 0 0 1 455.5,221.0L444.8,226.4A133.3,133.3 0 0 0 444.5,225.9ZM430.7,386.8A145.3,145.3 0 0 1 430.1,387.5L421.5,379.1A133.3,133.3 0 0 0 422.1,378.5ZM467.8,316.9A145.3,145.3 0 0 1 467.6,317.8L455.9,315.2A133.3,133.3 0 0 0 456.1,314.4ZM285.2,425.9A145.3,145.3 0 0 1 284.6,425.7L288.0,414.2A133.3,133.3 0 0 0 288.5,414.4ZM323.6,141.1A145.3,145.3 0 0 1 324.4,141.1L324.5,153.1A133.3,133.3 0 0 0 323.8,153.1ZM334.0,431.5A145.3,145.3 0 0 1 333.1,431.5L332.5,419.5A133.3,133.3 0 0 0 333.3,419.5ZM457.0,348.8A145.3,145.3 0 0 1 456.7,349.4L445.9,344.2A133.3,133.3 0 0 0 446.1,343.7ZM194.0,347.7A145.3,145.3 0 0 1 193.7,347.1L204.6,342.1A133.3,133.3 0 0 0 204.9,342.6ZM241.8,405.0A145.3,145.3 0 0 1 240.9,404.3L247.9,394.6A133.3,133.3 0 0 0 248.7,395.2ZM307.3,142.3A145.3,145.3 0 0 1 308.2,142.2L309.6,154.1A133.3,133.3 0 0 0 308.8,154.2ZM243.0,167.0A145.3,145.3 0 0 1 243.6,166.5L250.4,176.4A133.3,133.3 0 0 0 249.8,176.8ZM469.5,264.9A145.3,145.3 0 0 1 469.6,266.0L457.7,267.7A133.3,133.3 0 0 0 457.6,266.7Z" fill="#ffff00" fill-opacity="0.32"/>
<path d="M471.0,286.9A145.3,145.3 0 0 1 471.0,288.9L459.0,288.7A133.3,133.3 0 0 0 459.0,286.9Z" fill="#ffff00" fill-opacity="0.33"/>
<path d="M182.2,263.7A145.3,145.3 0 0 1 182.6,261.7L194.4,263.7A133.3,133.3 0 0 0 194.1,265.5ZM470.4,273.0A145.3,145.3 0 0 1 470.6,274.5L458.6,275.5A133.3,133.3 0 0 0 458.5,274.1ZM192.9,345.3A145.3,145.3 0 0 1 192.3,343.9L203.3,339.1A133.3,133.3 0 0 0 203.9,340.4ZM447.6,207.3A145.3,145.3 0 0 1 448.4,208.5L438.3,215.0A133.3,133.3 0 0 0 437.5,213.8ZM453.6,217.3A145.3,145.3 0 0 1 454.3,218.6L443.7,224.2A133.3,133.3 0 0 0 443.0,223.0Z" fill="#ffff00" fill-opacity="0.44"/>
<path d="M181.2,271.7A145.3,145.3 0 0 1 181.5,268.7L193.4,270.2A133.3,133.3 0 0 0 193.1,272.9ZM360.3,145.3A145.3,145.3 0 0 1 364.0,146.2L360.8,157.8A133.3,133.3 0 0 0 357.4,156.9ZM429.3,184.5A145.3,145.3 0 0 1 431.9,187.2L423.2,195.4A133.3,133.3 0 0 0 420.7,192.9ZM470.1,303.2A145.3,145.3 0 0 1 469.6,307.0L457.7,305.3A133.3,133.3 0 0 0 458.2,301.8ZM231.6,397.1A145.3,145.3 0 0 1 229.3,395.1L237.2,386.1A133.3,133.3 0 0 0 239.4,387.9ZM229.1,394.9A145.3,145.3 0 0 1 226.8,392.8L235.0,384.0A133.3,133.3 0 0 0 237.1,385.9Z" fill="#ffff00" fill-opacity="0.45"/>
<path d="M204.9,205.7A145.3,145.3 0 0 1 205.4,205.0L215.4,211.7A133.3,133.3 0 0 0 214.9,212.4ZM360.1,427.6A145.3,145.3 0 0 1 358.5,428.0L355.8,416.3A133.3,133.3 0 0 0 357.3,415.9Z" fill="#ffff00" fill-opacity="0.47"/>
<path d="M196.5,219.9A145.3,145.3 0 0 1 197.0,219.1L207.6,224.7A133.3,133.3 0 0 0 207.2,225.4ZM197.4,218.3A145.3,145.3 0 0 1 197.8,217.5L208.4,223.2A133.3,133.3 0 0 0 208.0,224.0ZM343.4,430.6A145.3,145.3 0 0 1 341.8,430.8L340.5,418.9A133.3,133.3 0 0 0 342.0,418.7ZM203.9,365.5A145.3,145.3 0 0 1 203.0,364.2L213.2,357.8A133.3,133.3 0 0 0 214.0,359.0ZM203.1,364.3A145.3,145.3 0 0 1 202.2,362.9L212.4,356.6A133.3,133.3 0 0 0 213.2,357.8Z" fill="#ffff00" fill-opacity="0.55"/>
<path d="M185.3,323.8A145.3,145.3 0 0 1 184.7,321.3L196.4,318.4A133.3,133.3 0 0 0 196.9,320.7Z" fill="#ffff00" fill-opacity="0.56"/>
<path d="M292.2,427.8A145.3,145.3 0 0 1 290.6,427.4L293.5,415.7A133.3,133.3 0 0 0 294.9,416.1ZM290.2,427.3A145.3,145.3 0 0 1 288.9,427.0L292.0,415.4A133.3,133.3 0 0 0 293.1,415.6ZM288.2,426.8A145.3,145.3 0 0 1 286.6,426.3L289.9,414.8A133.3,133.3 0 0 0 291.3,415.2Z" fill="#ffff00" fill-opacity="0.57"/>
<path d="M362.1,145.7A145.3,145.3 0 0 1 363.7,146.1L360.6,157.7A133.3,133.3 0 0 0 359.1,157.3ZM470.1,303.4A145.3,145.3 0 0 1 469.9,304.6L458.0,303.1A133.3,133.3 0 0 0 458.1,302.0ZM469.8,305.5A145.3,145.3 0 0 1 469.7,306.4L457.8,304.8A133.3,133.3 0 0 0 457.9,303.9ZM228.0,393.9A145.3,145.3 0 0 1 227.1,393.1L235.2,384.3A133.3,133.3 0 0 0 236.1,385.0Z" fill="#ffff00" fill-opacity="0.62"/>
<path d="M198.2,216.9A145.3,145.3 0 0 1 198.6,216.1L209.1,221.9A133.3,133.3 0 0 0 208.7,222.6ZM198.9,215.6A145.3,145.3 0 0 1 199.7,214.1L210.1,220.1A133.3,133.3 0 0 0 209.4,221.4ZM406.1,165.3A145.3,145.3 0 0 1 407.1,166.0L400.4,176.0A133.3,133.3 0 0 0 399.5,175.3ZM407.2,166.1A145.3,145.3 0 0 1 408.3,166.8L401.5,176.7A133.3,133.3 0 0 0 400.5,176.0ZM459.1,228.6A145.3,145.3 0 0 1 459.6,229.8L448.5,234.5A133.3,133.3 0 0 0 448.1,233.4ZM459.8,230.4A145.3,145.3 0 0 1 460.2,231.2L449.1,235.8A133.3,133.3 0 0 0 448.7,235.0Z" fill="#ffff00" fill-opacity="0.66"/>
<path d="M204.0,207.1A145.3,145.3 0 0 1 204.5,206.4L214.5,213.0A133.3,133.3 0 0 0 214.0,213.7ZM430.8,386.8A145.3,145.3 0 0 1 429.4,388.2L420.8,379.8A133.3,133.3 0 0 0 422.1,378.5ZM286.6,426.3A145.3,145.3 0 0 1 285.0,425.9L288.4,414.4A133.3,133.3 0 0 0 289.8,414.8ZM362.5,427.0A145.3,145.3 0 0 1 361.3,427.3L358.4,415.6A133.3,133.3 0 0 0 359.5,415.4Z" fill="#ffff00" fill-opacity="0.67"/>
<path d="M181.4,269.7A145.3,145.3 0 0 1 181.5,268.8L193.4,270.2A133.3,133.3 0 0 0 193.3,271.1ZM431.1,186.3A145.3,145.3 0 0 1 431.7,187.0L423.0,195.2A133.3,133.3 0 0 0 422.4,194.6ZM229.0,394.8A145.3,145.3 0 0 1 227.8,393.7L235.9,384.8A133.3,133.3 0 0 0 237.0,385.8Z" fill="#ffff00" fill-opacity="0.76"/>
<path d="M467.0,320.3A145.3,145.3 0 0 1 466.4,322.8L454.8,319.8A133.3,133.3 0 0 0 455.4,317.5ZM429.7,387.9A145.3,145.3 0 0 1 428.0,389.7L419.5,381.1A133.3,133.3 0 0 0 421.2,379.5ZM329.9,431.6A145.3,145.3 0 0 1 329.0,431.7L328.7,419.7A133.3,133.3 0 0 0 329.6,419.6ZM327.7,431.7A145.3,145.3 0 0 1 326.4,431.7L326.3,419.7A133.3,133.3 0 0 0 327.5,419.7ZM340.8,430.9A145.3,145.3 0 0 1 339.2,431.1L338.1,419.1A133.3,133.3 0 0 0 339.6,419.0Z" fill="#ffff00" fill-opacity="0.78"/>
<path d="M181.2,271.3A145.3,145.3 0 0 1 181.4,270.0L193.3,271.4A133.3,133.3 0 0 0 193.2,272.5ZM360.3,145.3A145.3,145.3 0 0 1 361.5,145.6L358.6,157.2A133.3,133.3 0 0 0 357.5,156.9ZM429.5,184.6A145.3,145.3 0 0 1 430.1,185.3L421.5,193.6A133.3,133.3 0 0 0 420.9,193.0ZM231.7,397.2A145.3,145.3 0 0 1 230.7,396.3L238.6,387.3A133.3,133.3 0 0 0 239.5,388.0ZM230.4,396.1A145.3,145.3 0 0 1 229.5,395.2L237.4,386.2A133.3,133.3 0 0 0 238.3,387.0Z" fill="#ffff00" fill-opacity="0.89"/>
<path d="M193.7,225.8A145.3,145.3 0 0 1 195.3,222.4L206.1,227.7A133.3,133.3 0 0 0 204.6,230.8Z" fill="#ffff00" fill-opacity="1.0"/>
<path d="M454.0,317.3A131.9,131.9 0 0 1 453.9,317.8L442.2,315.0A119.9,119.9 0 0 0 442.3,314.5ZM360.0,159.0A131.9,131.9 0 0 1 360.6,159.2L357.4,170.8A119.9,119.9 0 0 0 356.9,170.6ZM456.6,303.0A131.9,131.9 0 0 1 456.5,303.6L444.6,302.1A119.9,119.9 0 0 0 444.7,301.4ZM449.2,332.9A131.9,131.9 0 0 1 448.9,333.6L437.7,329.3A119.9,119.9 0 0 0 437.9,328.7ZM194.6,300.1A131.9,131.9 0 0 1 194.5,299.4L206.4,298.2A119.9,119.9 0 0 0 206.5,298.9ZM331.3,418.2A131.9,131.9 0 0 1 330.2,418.2L329.8,406.2A119.9,119.9 0 0 0 330.8,406.2ZM457.6,285.4A131.9,131.9 0 0 1 457.6,286.2L445.6,286.3A119.9,119.9 0 0 0 445.6,285.5ZM347.3,416.5A131.9,131.9 0 0 1 346.3,416.7L344.4,404.8A119.9,119.9 0 0 0 345.3,404.7ZM236.9,188.9A131.9,131.9 0 0 1 237.4,188.4L245.5,197.3A119.9,119.9 0 0 0 245.0,197.8ZM194.3,296.8A131.9,131.9 0 0 1 194.2,296.0L206.2,295.1A119.9,119.9 0 0 0 206.2,295.9ZM272.1,406.9A131.9,131.9 0 0 1 271.4,406.6L276.3,395.6A119.9,119.9 0 0 0 277.0,395.9ZM406.3,181.9A131.9,131.9 0 0 1 406.8,182.3L399.4,191.8A119.9,119.9 0 0 0 398.9,191.4ZM275.6,164.4A131.9,131.9 0 0 1 276.2,164.2L280.7,175.3A119.9,119.9 0 0 0 280.1,175.5ZM421.1,377.6A131.9,131.9 0 0 1 420.5,378.2L411.9,369.8A119.9,119.9 0 0 0 412.4,369.3ZM288.9,413.1A131.9,131.9 0 0 1 288.4,412.9L291.8,401.4A119.9,119.9 0 0 0 292.3,401.5ZM259.1,400.2A131.9,131.9 0 0 1 258.5,399.9L264.7,389.6A119.9,119.9 0 0 0 265.2,389.9ZM287.7,160.1A131.9,131.9 0 0 1 288.7,159.8L292.1,171.3A119.9,119.9 0 0 0 291.2,171.6ZM204.9,233.4A131.9,131.9 0 0 1 205.2,232.8L216.2,237.7A119.9,119.9 0 0 0 215.9,238.3ZM223.6,203.0A131.9,131.9 0 0 1 223.9,202.5L233.2,210.2A119.9,119.9 0 0 0 232.9,210.6ZM300.2,157.0A131.9,131.9 0 0 1 300.9,156.9L303.2,168.6A119.9,119.9 0 0 0 302.5,168.8ZM249.5,394.0A131.9,131.9 0 0 1 248.7,393.4L255.7,383.7A119.9,119.9 0 0 0 256.5,384.3ZM456.2,266.9A131.9,131.9 0 0 1 456.3,267.9L444.5,269.6A119.9,119.9 0 0 0 444.3,268.7Z" fill="#7a0000" fill-opacity="0.12"/>
<path d="M292.8,414.1A131.9,131.9 0 0 1 292.0,413.9L295.1,402.3A119.9,119.9 0 0 0 295.8,402.5ZM329.2,418.3A131.9,131.9 0 0 1 328.2,418.3L328.0,406.3A119.9,119.9 0 0 0 328.9,406.3ZM402.5,393.7A131.9,131.9 0 0 1 401.8,394.1L394.9,384.3A119.9,119.9 0 0 0 395.5,383.9ZM304.2,416.5A131.9,131.9 0 0 1 303.5,416.4L305.5,404.6A119.9,119.9 0 0 0 306.1,404.7ZM437.5,216.3A131.9,131.9 0 0 1 438.0,217.2L427.8,223.5A119.9,119.9 0 0 0 427.3,222.7ZM374.2,409.1A131.9,131.9 0 0 1 373.7,409.3L369.3,398.1A119.9,119.9 0 0 0 369.8,397.9ZM347.0,416.6A131.9,131.9 0 0 1 346.3,416.7L344.5,404.8A119.9,119.9 0 0 0 345.1,404.7ZM365.6,160.7A131.9,131.9 0 0 1 366.6,161.0L362.9,172.4A119.9,119.9 0 0 0 362.0,172.1ZM193.9,290.2A131.9,131.9 0 0 1 193.9,289.5L205.9,289.2A119.9,119.9 0 0 0 205.9,289.8ZM409.3,388.5A131.9,131.9 0 0 1 408.4,389.2L400.9,379.8A119.9,119.9 0 0 0 401.7,379.2ZM194.2,295.7A131.9,131.9 0 0 1 194.1,295.1L206.1,294.3A119.9,119.9 0 0 0 206.1,294.8ZM358.2,414.2A131.9,131.9 0 0 1 357.6,414.4L354.7,402.7A119.9,119.9 0 0 0 355.3,402.6ZM212.6,354.2A131.9,131.9 0 0 1 212.3,353.7L222.6,347.6A119.9,119.9 0 0 0 222.9,348.0ZM356.2,414.7A131.9,131.9 0 0 1 355.6,414.9L352.9,403.2A119.9,119.9 0 0 0 353.5,403.1ZM303.8,416.5A131.9,131.9 0 0 1 303.1,416.3L305.1,404.5A119.9,119.9 0 0 0 305.8,404.6ZM345.3,416.8A131.9,131.9 0 0 1 344.3,417.0L342.6,405.1A119.9,119.9 0 0 0 343.5,405.0ZM203.5,236.8A131.9,131.9 0 0 1 203.8,236.2L214.9,240.7A119.9,119.9 0 0 0 214.6,241.3ZM445.0,230.0A131.9,131.9 0 0 1 445.4,230.9L434.5,235.9A119.9,119.9 0 0 0 434.1,235.1ZM416.9,191.0A131.9,131.9 0 0 1 417.3,191.4L408.9,200.1A119.9,119.9 0 0 0 408.6,199.7ZM247.3,392.5A131.9,131.9 0 0 1 246.8,392.0L254.0,382.4A119.9,119.9 0 0 0 254.5,382.8ZM329.7,418.2A131.9,131.9 0 0 1 329.1,418.3L328.8,406.3A119.9,119.9 0 0 0 329.4,406.2ZM238.6,385.4A131.9,131.9 0 0 1 238.1,384.9L246.0,376.0A119.9,119.9 0 0 0 246.5,376.4Z" fill="#7a0000" fill-opacity="0.18"/>
<path d="M194.4,274.8A131.9,131.9 0 0 1 194.5,273.2L206.5,274.4A119.9,119.9 0 0 0 206.3,275.8Z" fill="#7a0000" fill-opacity="0.22"/>
<path d="M385.5,404.0A131.9,131.9 0 0 1 382.4,405.5L377.3,394.7A119.9,119.9 0 0 0 380.1,393.3ZM330.4,418.2A131.9,131.9 0 0 1 325.8,418.3L325.8,406.3A119.9,119.9 0 0 0 329.9,406.2ZM342.1,417.3A131.9,131.9 0 0 1 337.9,417.7L336.8,405.8A119.9,119.9 0 0 0 340.6,405.4ZM360.4,413.7A131.9,131.9 0 0 1 354.9,415.0L352.2,403.3A119.9,119.9 0 0 0 357.3,402.1ZM231.5,378.7A131.9,131.9 0 0 1 229.6,376.7L238.3,368.5A119.9,119.9 0 0 0 240.1,370.3ZM427.3,202.2A131.9,131.9 0 0 1 429.5,204.9L420.0,212.3A119.9,119.9 0 0 0 418.1,209.9Z" fill="#7a0000" fill-opacity="0.23"/>
<path d="M417.4,191.5A131.9,131.9 0 0 1 418.1,192.2L409.7,200.8A119.9,119.9 0 0 0 409.0,200.1ZM285.4,160.8A131.9,131.9 0 0 1 286.2,160.6L289.8,172.0A119.9,119.9 0 0 0 289.1,172.3ZM205.7,231.8A131.9,131.9 0 0 1 206.0,231.2L216.9,236.2A119.9,119.9 0 0 0 216.6,236.8ZM196.8,258.5A131.9,131.9 0 0 1 197.0,257.9L208.7,260.5A119.9,119.9 0 0 0 208.6,261.0ZM392.1,172.4A131.9,131.9 0 0 1 393.0,172.9L386.9,183.2A119.9,119.9 0 0 0 386.0,182.8ZM252.0,177.0A131.9,131.9 0 0 1 252.9,176.4L259.5,186.4A119.9,119.9 0 0 0 258.8,187.0ZM196.0,310.2A131.9,131.9 0 0 1 195.8,309.2L207.7,307.1A119.9,119.9 0 0 0 207.8,308.0ZM213.8,216.7A131.9,131.9 0 0 1 214.2,216.0L224.4,222.4A119.9,119.9 0 0 0 224.0,223.0ZM414.3,188.6A131.9,131.9 0 0 1 415.0,189.3L406.9,198.2A119.9,119.9 0 0 0 406.2,197.5ZM360.3,413.7A131.9,131.9 0 0 1 359.6,413.9L356.5,402.3A119.9,119.9 0 0 0 357.1,402.1ZM204.6,234.3A131.9,131.9 0 0 1 204.8,233.7L215.8,238.5A119.9,119.9 0 0 0 215.6,239.1ZM193.9,290.0A131.9,131.9 0 0 1 193.9,289.2L205.9,288.9A119.9,119.9 0 0 0 205.9,289.7ZM457.4,294.2A131.9,131.9 0 0 1 457.4,294.8L445.4,294.0A119.9,119.9 0 0 0 445.4,293.5ZM454.7,314.1A131.9,131.9 0 0 1 454.5,314.9L442.8,312.3A119.9,119.9 0 0 0 443.0,311.6ZM266.4,168.6A131.9,131.9 0 0 1 266.9,168.4L272.2,179.1A119.9,119.9 0 0 0 271.8,179.3ZM406.4,390.8A131.9,131.9 0 0 1 405.9,391.1L398.7,381.6A119.9,119.9 0 0 0 399.1,381.3ZM250.6,178.0A131.9,131.9 0 0 1 251.2,177.6L258.0,187.5A119.9,119.9 0 0 0 257.5,187.8Z" fill="#7a0000" fill-opacity="0.25"/>
<path d="M424.5,373.8A131.9,131.9 0 0 1 424.1,374.3L415.2,366.3A119.9,119.9 0 0 0 415.5,365.9ZM335.4,154.9A131.9,131.9 0 0 1 336.1,154.9L335.1,166.9A119.9,119.9 0 0 0 334.5,166.8ZM432.2,208.5A131.9,131.9 0 0 1 432.6,209.0L422.8,216.1A119.9,119.9 0 0 0 422.5,215.6ZM194.6,300.7A131.9,131.9 0 0 1 194.6,300.1L206.5,298.8A119.9,119.9 0 0 0 206.6,299.4ZM239.4,186.7A131.9,131.9 0 0 1 240.0,186.2L247.8,195.3A119.9,119.9 0 0 0 247.2,195.8ZM435.7,359.3A131.9,131.9 0 0 1 435.2,360.0L425.3,353.3A119.9,119.9 0 0 0 425.7,352.7ZM449.3,332.7A131.9,131.9 0 0 1 449.1,333.2L437.8,329.0A119.9,119.9 0 0 0 438.0,328.5ZM276.6,408.8A131.9,131.9 0 0 1 276.0,408.6L280.5,397.4A119.9,119.9 0 0 0 281.1,397.7ZM437.3,216.0A131.9,131.9 0 0 1 437.7,216.6L427.5,223.0A119.9,119.9 0 0 0 427.2,222.4ZM217.0,361.1A131.9,131.9 0 0 1 216.7,360.6L226.6,353.9A119.9,119.9 0 0 0 226.9,354.3ZM214.7,215.2A131.9,131.9 0 0 1 215.0,214.7L225.1,221.3A119.9,119.9 0 0 0 224.8,221.7ZM451.4,326.6A131.9,131.9 0 0 1 451.1,327.4L439.7,323.7A119.9,119.9 0 0 0 439.9,323.0ZM452.0,324.5A131.9,131.9 0 0 1 451.7,325.5L440.3,321.9A119.9,119.9 0 0 0 440.5,321.0ZM437.4,216.2A131.9,131.9 0 0 1 438.0,217.1L427.8,223.4A119.9,119.9 0 0 0 427.3,222.6ZM445.2,342.3A131.9,131.9 0 0 1 444.9,343.0L434.0,337.9A119.9,119.9 0 0 0 434.3,337.2Z" fill="#7a0000" fill-opacity="0.32"/>
<path d="M258.7,172.8A131.9,131.9 0 0 1 259.7,172.2L265.7,182.6A119.9,119.9 0 0 0 264.8,183.1ZM255.0,175.1A131.9,131.9 0 0 1 256.0,174.5L262.3,184.7A119.9,119.9 0 0 0 261.4,185.2ZM456.0,265.3A131.9,131.9 0 0 1 456.2,266.7L444.3,268.5A119.9,119.9 0 0 0 444.1,267.2ZM457.6,286.9A131.9,131.9 0 0 1 457.6,288.7L445.6,288.5A119.9,119.9 0 0 0 445.6,286.8Z" fill="#7a0000" fill-opacity="0.33"/>
<path d="M433.0,363.2A131.9,131.9 0 0 1 431.9,364.7L422.3,357.6A119.9,119.9 0 0 0 423.2,356.2Z" fill="#7a0000" fill-opacity="0.44"/>
<path d="M205.9,231.4A131.9,131.9 0 0 1 207.4,228.3L218.1,233.6A119.9,119.9 0 0 0 216.8,236.4ZM210.1,223.0A131.9,131.9 0 0 1 211.8,220.0L222.2,226.0A119.9,119.9 0 0 0 220.6,228.7ZM229.8,195.9A131.9,131.9 0 0 1 232.2,193.4L240.7,201.8A119.9,119.9 0 0 0 238.6,204.1ZM446.7,233.7A131.9,131.9 0 0 1 448.0,236.9L436.9,241.4A119.9,119.9 0 0 0 435.7,238.5ZM295.2,414.7A131.9,131.9 0 0 1 289.0,413.1L292.3,401.5A119.9,119.9 0 0 0 298.0,403.0Z" fill="#7a0000" fill-opacity="0.45"/>
<path d="M329.9,418.2A131.9,131.9 0 0 1 328.4,418.3L328.2,406.3A119.9,119.9 0 0 0 329.5,406.2ZM341.9,417.3A131.9,131.9 0 0 1 340.7,417.4L339.4,405.5A119.9,119.9 0 0 0 340.4,405.4ZM359.9,413.8A131.9,131.9 0 0 1 358.5,414.2L355.5,402.5A119.9,119.9 0 0 0 356.8,402.2Z" fill="#7a0000" fill-opacity="0.55"/>
<path d="M322.8,154.5A131.9,131.9 0 0 1 324.1,154.5L324.3,166.5A119.9,119.9 0 0 0 323.0,166.5ZM328.2,154.5A131.9,131.9 0 0 1 329.3,154.5L329.0,166.5A119.9,119.9 0 0 0 327.9,166.5ZM344.7,155.9A131.9,131.9 0 0 1 345.8,156.0L344.0,167.9A119.9,119.9 0 0 0 343.0,167.7ZM375.4,164.2A131.9,131.9 0 0 1 376.7,164.7L372.0,175.8A119.9,119.9 0 0 0 370.9,175.3ZM420.5,194.6A131.9,131.9 0 0 1 421.7,195.9L413.0,204.2A119.9,119.9 0 0 0 411.9,203.0ZM386.2,403.6A131.9,131.9 0 0 1 385.0,404.2L379.6,393.5A119.9,119.9 0 0 0 380.7,392.9ZM377.9,407.5A131.9,131.9 0 0 1 376.7,408.1L372.0,397.0A119.9,119.9 0 0 0 373.2,396.5ZM194.8,302.2A131.9,131.9 0 0 1 194.7,301.3L206.6,300.0A119.9,119.9 0 0 0 206.7,300.8ZM201.1,329.6A131.9,131.9 0 0 1 200.7,328.3L212.0,324.4A119.9,119.9 0 0 0 212.5,325.6ZM421.7,195.9A131.9,131.9 0 0 1 422.5,196.7L413.7,204.9A119.9,119.9 0 0 0 412.9,204.1Z" fill="#7a0000" fill-opacity="0.56"/>
<path d="M211.0,221.3A131.9,131.9 0 0 1 211.8,220.0L222.1,226.1A119.9,119.9 0 0 0 221.5,227.2ZM447.5,235.6A131.9,131.9 0 0 1 447.8,236.4L436.7,240.9A119.9,119.9 0 0 0 436.4,240.2Z" fill="#7a0000" fill-opacity="0.62"/>
<path d="M383.7,404.9A131.9,131.9 0 0 1 382.4,405.5L377.2,394.7A119.9,119.9 0 0 0 378.4,394.1ZM327.9,418.3A131.9,131.9 0 0 1 326.4,418.3L326.4,406.3A119.9,119.9 0 0 0 327.7,406.3ZM339.3,417.6A131.9,131.9 0 0 1 338.1,417.7L337.0,405.8A119.9,119.9 0 0 0 338.0,405.7ZM358.0,414.3A131.9,131.9 0 0 1 356.9,414.6L354.1,402.9A119.9,119.9 0 0 0 355.1,402.7Z" fill="#7a0000" fill-opacity="0.66"/>
<path d="M195.5,265.8A131.9,131.9 0 0 1 195.8,263.9L207.6,266.0A119.9,119.9 0 0 0 207.3,267.6ZM357.1,158.3A131.9,131.9 0 0 1 358.2,158.6L355.3,170.2A119.9,119.9 0 0 0 354.2,169.9ZM363.8,160.1A131.9,131.9 0 0 1 364.9,160.4L361.3,171.9A119.9,119.9 0 0 0 360.3,171.6ZM451.6,247.1A131.9,131.9 0 0 1 452.0,248.2L440.5,251.6A119.9,119.9 0 0 0 440.2,250.6ZM230.9,378.0A131.9,131.9 0 0 1 229.6,376.7L238.3,368.5A119.9,119.9 0 0 0 239.5,369.7ZM253.5,396.8A131.9,131.9 0 0 1 252.0,395.8L258.7,385.8A119.9,119.9 0 0 0 260.1,386.7ZM198.9,322.5A131.9,131.9 0 0 1 198.5,321.2L210.1,318.0A119.9,119.9 0 0 0 210.4,319.2ZM212.3,353.7A131.9,131.9 0 0 1 211.4,352.2L221.8,346.2A119.9,119.9 0 0 0 222.7,347.6ZM219.9,365.0A131.9,131.9 0 0 1 218.8,363.6L228.5,356.5A119.9,119.9 0 0 0 229.5,357.9ZM359.7,158.9A131.9,131.9 0 0 1 361.0,159.3L357.8,170.9A119.9,119.9 0 0 0 356.6,170.5Z" fill="#7a0000" fill-opacity="0.67"/>
<path d="M231.1,194.5A131.9,131.9 0 0 1 232.1,193.5L240.7,201.9A119.9,119.9 0 0 0 239.7,202.9ZM446.9,234.3A131.9,131.9 0 0 1 447.2,235.0L436.2,239.7A119.9,119.9 0 0 0 435.9,239.0ZM293.0,414.2A131.9,131.9 0 0 1 292.2,414.0L295.2,402.4A119.9,119.9 0 0 0 296.0,402.5Z" fill="#7a0000" fill-opacity="0.76"/>
<path d="M217.8,210.6A131.9,131.9 0 0 1 219.2,208.7L228.9,215.8A119.9,119.9 0 0 0 227.7,217.5ZM315.5,154.9A131.9,131.9 0 0 1 317.1,154.8L317.9,166.8A119.9,119.9 0 0 0 316.4,166.9ZM385.1,404.2A131.9,131.9 0 0 1 384.0,404.7L378.7,394.0A119.9,119.9 0 0 0 379.7,393.5ZM356.5,414.7A131.9,131.9 0 0 1 355.7,414.9L353.0,403.2A119.9,119.9 0 0 0 353.7,403.0ZM196.4,312.4A131.9,131.9 0 0 1 196.2,311.2L208.0,309.0A119.9,119.9 0 0 0 208.2,310.0ZM195.5,307.1A131.9,131.9 0 0 1 195.3,306.0L207.2,304.2A119.9,119.9 0 0 0 207.3,305.3ZM231.8,378.9A131.9,131.9 0 0 1 230.7,377.9L239.4,369.6A119.9,119.9 0 0 0 240.3,370.5ZM230.5,377.7A131.9,131.9 0 0 1 229.9,377.1L238.7,368.8A119.9,119.9 0 0 0 239.2,369.4ZM427.3,202.2A131.9,131.9 0 0 1 428.2,203.3L418.9,210.9A119.9,119.9 0 0 0 418.0,209.9ZM428.6,203.9A131.9,131.9 0 0 1 429.2,204.5L419.8,212.0A119.9,119.9 0 0 0 419.3,211.4Z" fill="#7a0000" fill-opacity="0.78"/>
<path d="M201.1,243.2A131.9,131.9 0 0 1 201.7,241.5L213.0,245.6A119.9,119.9 0 0 0 212.5,247.2ZM205.9,231.3A131.9,131.9 0 0 1 206.5,230.0L217.4,235.1A119.9,119.9 0 0 0 216.8,236.3ZM206.8,229.4A131.9,131.9 0 0 1 207.2,228.7L217.9,233.9A119.9,119.9 0 0 0 217.6,234.6ZM210.2,222.8A131.9,131.9 0 0 1 210.6,222.1L221.1,227.9A119.9,119.9 0 0 0 220.7,228.6ZM230.3,195.3A131.9,131.9 0 0 1 230.9,194.7L239.5,203.1A119.9,119.9 0 0 0 239.0,203.6ZM449.5,332.2A131.9,131.9 0 0 1 448.6,334.3L437.5,330.0A119.9,119.9 0 0 0 438.2,328.0ZM294.9,414.6A131.9,131.9 0 0 1 293.5,414.3L296.4,402.6A119.9,119.9 0 0 0 297.7,403.0ZM292.0,413.9A131.9,131.9 0 0 1 290.6,413.5L293.8,402.0A119.9,119.9 0 0 0 295.0,402.3ZM290.4,413.5A131.9,131.9 0 0 1 289.6,413.2L292.9,401.7A119.9,119.9 0 0 0 293.6,401.9ZM196.0,309.9A131.9,131.9 0 0 1 195.8,308.7L207.6,306.7A119.9,119.9 0 0 0 207.8,307.7ZM195.1,304.4A131.9,131.9 0 0 1 194.9,303.3L206.8,301.7A119.9,119.9 0 0 0 207.0,302.8Z" fill="#7a0000" fill-opacity="0.89"/>
<path d="M290.1,159.4A131.9,131.9 0 0 1 291.4,159.1L294.5,170.6A119.9,119.9 0 0 0 293.3,171.0ZM293.4,158.5A131.9,131.9 0 0 1 294.7,158.2L297.6,169.9A119.9,119.9 0 0 0 296.3,170.2ZM334.3,154.8A131.9,131.9 0 0 1 337.0,155.0L336.0,166.9A119.9,119.9 0 0 0 333.5,166.7ZM392.7,172.8A131.9,131.9 0 0 1 395.1,174.2L388.8,184.4A119.9,119.9 0 0 0 386.6,183.1ZM399.7,177.2A131.9,131.9 0 0 1 402.0,178.8L395.0,188.5A119.9,119.9 0 0 0 393.0,187.1ZM453.4,319.4A131.9,131.9 0 0 1 452.9,321.6L441.3,318.4A119.9,119.9 0 0 0 441.8,316.4Z" fill="#7a0000" fill-opacity="1.0"/>
<path d="M296.1,401.1A118.5,118.5 0 0 1 295.4,401.0L298.5,389.4A106.5,106.5 0 0 0 299.1,389.5ZM283.3,175.8A118.5,118.5 0 0 1 284.0,175.5L288.2,186.7A106.5,106.5 0 0 0 287.6,187.0ZM426.1,223.4A118.5,118.5 0 0 1 426.6,224.2L416.4,230.5A106.5,106.5 0 0 0 416.0,229.8ZM400.8,378.1A118.5,118.5 0 0 1 400.0,378.7L392.5,369.4A106.5,106.5 0 0 0 393.2,368.8ZM207.5,294.7A118.5,118.5 0 0 1 207.5,294.2L219.5,293.4A106.5,106.5 0 0 0 219.5,293.9ZM225.2,223.8A118.5,118.5 0 0 1 225.5,223.1L235.7,229.6A106.5,106.5 0 0 0 235.3,230.1ZM354.9,401.3A118.5,118.5 0 0 1 354.4,401.4L351.5,389.7A106.5,106.5 0 0 0 352.0,389.6ZM412.9,206.2A118.5,118.5 0 0 1 413.4,206.6L404.5,214.7A106.5,106.5 0 0 0 404.1,214.3ZM400.6,378.3A118.5,118.5 0 0 1 400.2,378.6L392.6,369.3A106.5,106.5 0 0 0 393.0,369.0ZM353.2,401.7A118.5,118.5 0 0 1 352.5,401.8L349.8,390.1A106.5,106.5 0 0 0 350.4,390.0ZM215.9,241.9A118.5,118.5 0 0 1 216.2,241.3L227.3,245.8A106.5,106.5 0 0 0 227.1,246.4ZM236.3,364.1A118.5,118.5 0 0 1 235.7,363.4L244.8,355.6A106.5,106.5 0 0 0 245.3,356.2ZM217.2,238.8A118.5,118.5 0 0 1 217.5,238.3L228.4,243.1A106.5,106.5 0 0 0 228.2,243.6ZM300.6,402.2A118.5,118.5 0 0 1 299.7,402.0L302.3,390.3A106.5,106.5 0 0 0 303.1,390.5ZM417.3,361.7A118.5,118.5 0 0 1 416.9,362.2L407.6,354.5A106.5,106.5 0 0 0 408.0,354.1ZM442.9,268.9A118.5,118.5 0 0 1 443.1,269.8L431.2,271.5A106.5,106.5 0 0 0 431.1,270.6Z" fill="#007a00" fill-opacity="0.12"/>
<path d="M298.3,401.7A118.5,118.5 0 0 1 292.7,400.2L296.0,388.7A106.5,106.5 0 0 0 301.1,390.0Z" fill="#007a00" fill-opacity="0.17"/>
<path d="M414.5,365.0A118.5,118.5 0 0 1 414.1,365.3L405.2,357.3A106.5,106.5 0 0 0 405.5,357.0ZM287.1,174.4A118.5,118.5 0 0 1 287.6,174.2L291.4,185.6A106.5,106.5 0 0 0 291.0,185.7ZM289.5,173.6A118.5,118.5 0 0 1 290.2,173.4L293.8,184.8A106.5,106.5 0 0 0 293.2,185.0ZM356.6,172.0A118.5,118.5 0 0 1 357.1,172.1L353.9,183.7A106.5,106.5 0 0 0 353.4,183.6ZM272.7,180.4A118.5,118.5 0 0 1 273.4,180.1L278.7,190.9A106.5,106.5 0 0 0 278.1,191.2ZM385.3,184.0A118.5,118.5 0 0 1 386.1,184.4L380.0,194.8A106.5,106.5 0 0 0 379.3,194.3ZM207.3,289.8A118.5,118.5 0 0 1 207.3,289.2L219.3,288.9A106.5,106.5 0 0 0 219.3,289.5ZM209.2,307.8A118.5,118.5 0 0 1 209.0,306.9L220.9,304.8A106.5,106.5 0 0 0 221.0,305.6ZM245.9,198.8A118.5,118.5 0 0 1 246.4,198.4L254.4,207.3A106.5,106.5 0 0 0 254.0,207.7ZM338.8,404.2A118.5,118.5 0 0 1 338.3,404.2L337.0,392.3A106.5,106.5 0 0 0 337.5,392.2ZM306.0,403.2A118.5,118.5 0 0 1 305.4,403.1L307.4,391.3A106.5,106.5 0 0 0 308.0,391.4ZM349.7,402.5A118.5,118.5 0 0 1 349.0,402.6L346.6,390.8A106.5,106.5 0 0 0 347.3,390.7ZM345.8,403.2A118.5,118.5 0 0 1 345.3,403.3L343.3,391.4A106.5,106.5 0 0 0 343.8,391.4ZM424.1,220.3A118.5,118.5 0 0 1 424.4,220.7L414.4,227.4A106.5,106.5 0 0 0 414.1,227.0ZM239.1,367.2A118.5,118.5 0 0 1 238.6,366.7L247.5,358.6A106.5,106.5 0 0 0 247.8,359.0ZM291.6,172.9A118.5,118.5 0 0 1 292.5,172.7L295.8,184.2A106.5,106.5 0 0 0 295.0,184.4ZM419.9,358.3A118.5,118.5 0 0 1 419.6,358.7L410.1,351.4A106.5,106.5 0 0 0 410.4,351.0ZM397.1,381.0A118.5,118.5 0 0 1 396.7,381.3L389.5,371.7A106.5,106.5 0 0 0 389.8,371.5ZM255.3,381.7A118.5,118.5 0 0 1 254.8,381.3L262.0,371.7A106.5,106.5 0 0 0 262.4,372.0ZM432.8,337.3A118.5,118.5 0 0 1 432.5,337.8L421.7,332.6A106.5,106.5 0 0 0 421.9,332.2ZM247.4,375.3A118.5,118.5 0 0 1 247.0,374.9L254.9,366.0A106.5,106.5 0 0 0 255.4,366.3Z" fill="#007a00" fill-opacity="0.18"/>
<path d="M329.9,404.8A118.5,118.5 0 0 1 325.8,404.9L325.8,392.9A106.5,106.5 0 0 0 329.5,392.8ZM340.4,404.0A118.5,118.5 0 0 1 336.7,404.4L335.6,392.4A106.5,106.5 0 0 0 338.9,392.1Z" fill="#007a00" fill-opacity="0.2"/>
<path d="M387.4,387.6A118.5,118.5 0 0 1 384.7,389.2L378.8,378.8A106.5,106.5 0 0 0 381.2,377.4ZM408.6,201.7A118.5,118.5 0 0 1 410.8,203.9L402.2,212.2A106.5,106.5 0 0 0 400.2,210.2Z" fill="#007a00" fill-opacity="0.23"/>
<path d="M328.9,404.9A118.5,118.5 0 0 1 328.0,404.9L327.7,392.9A106.5,106.5 0 0 0 328.6,392.9ZM248.2,196.8A118.5,118.5 0 0 1 248.7,196.4L256.5,205.5A106.5,106.5 0 0 0 256.0,205.9ZM402.6,376.6A118.5,118.5 0 0 1 402.1,377.0L394.4,367.8A106.5,106.5 0 0 0 394.8,367.5ZM345.1,403.3A118.5,118.5 0 0 1 344.2,403.5L342.3,391.6A106.5,106.5 0 0 0 343.1,391.5ZM291.5,173.0A118.5,118.5 0 0 1 292.4,172.7L295.7,184.2A106.5,106.5 0 0 0 294.9,184.5ZM440.1,255.4A118.5,118.5 0 0 1 440.3,256.1L428.7,259.1A106.5,106.5 0 0 0 428.5,258.5ZM207.6,295.7A118.5,118.5 0 0 1 207.6,295.0L219.5,294.1A106.5,106.5 0 0 0 219.6,294.8ZM277.6,394.7A118.5,118.5 0 0 1 276.9,394.4L281.9,383.4A106.5,106.5 0 0 0 282.5,383.7ZM348.6,170.1A118.5,118.5 0 0 1 349.1,170.2L346.8,182.0A106.5,106.5 0 0 0 346.3,181.9ZM280.7,176.8A118.5,118.5 0 0 1 281.2,176.6L285.7,187.7A106.5,106.5 0 0 0 285.2,187.9ZM411.4,368.3A118.5,118.5 0 0 1 410.9,368.8L402.3,360.5A106.5,106.5 0 0 0 402.7,360.0ZM265.4,184.4A118.5,118.5 0 0 1 266.0,184.1L272.1,194.4A106.5,106.5 0 0 0 271.5,194.7ZM211.2,256.0A118.5,118.5 0 0 1 211.4,255.4L223.0,258.6A106.5,106.5 0 0 0 222.8,259.1ZM246.3,198.5A118.5,118.5 0 0 1 246.6,198.2L254.7,207.1A106.5,106.5 0 0 0 254.3,207.4ZM343.3,403.6A118.5,118.5 0 0 1 342.4,403.7L340.7,391.8A106.5,106.5 0 0 0 341.5,391.7ZM265.9,388.7A118.5,118.5 0 0 1 265.4,388.4L271.5,378.0A106.5,106.5 0 0 0 272.0,378.3ZM407.6,200.7A118.5,118.5 0 0 1 408.0,201.1L399.6,209.7A106.5,106.5 0 0 0 399.3,209.4ZM435.4,241.5A118.5,118.5 0 0 1 435.8,242.4L424.6,246.8A106.5,106.5 0 0 0 424.3,246.1ZM372.8,395.2A118.5,118.5 0 0 1 371.9,395.5L367.3,384.5A106.5,106.5 0 0 0 368.0,384.1ZM438.6,322.5A118.5,118.5 0 0 1 438.4,323.2L427.0,319.5A106.5,106.5 0 0 0 427.2,318.9ZM329.3,404.8A118.5,118.5 0 0 1 328.8,404.9L328.5,392.9A106.5,106.5 0 0 0 329.0,392.9ZM439.2,320.6A118.5,118.5 0 0 1 438.9,321.5L427.5,318.0A106.5,106.5 0 0 0 427.7,317.2ZM302.8,170.1A118.5,118.5 0 0 1 303.4,170.0L305.7,181.8A106.5,106.5 0 0 0 305.1,181.9ZM379.1,392.2A118.5,118.5 0 0 1 378.7,392.4L373.3,381.7A106.5,106.5 0 0 0 373.7,381.5Z" fill="#007a00" fill-opacity="0.25"/>
<path d="M208.0,299.3A118.5,118.5 0 0 1 207.9,298.7L219.8,297.4A106.5,106.5 0 0 0 219.9,298.0ZM344.9,403.3A118.5,118.5 0 0 1 344.2,403.4L342.4,391.6A106.5,106.5 0 0 0 342.9,391.5ZM361.6,173.4A118.5,118.5 0 0 1 362.4,173.7L358.7,185.1A106.5,106.5 0 0 0 357.9,184.9ZM436.7,328.0A118.5,118.5 0 0 1 436.5,328.5L425.3,324.2A106.5,106.5 0 0 0 425.5,323.8ZM281.6,396.4A118.5,118.5 0 0 1 281.1,396.1L285.6,385.0A106.5,106.5 0 0 0 286.1,385.2ZM405.3,198.6A118.5,118.5 0 0 1 406.0,199.2L397.8,208.0A106.5,106.5 0 0 0 397.2,207.5ZM432.5,234.9A118.5,118.5 0 0 1 432.7,235.3L421.9,240.5A106.5,106.5 0 0 0 421.7,240.1ZM356.8,400.8A118.5,118.5 0 0 1 356.2,400.9L353.1,389.3A106.5,106.5 0 0 0 353.6,389.2ZM216.9,239.6A118.5,118.5 0 0 1 217.1,239.1L228.1,243.9A106.5,106.5 0 0 0 227.9,244.4ZM426.0,223.2A118.5,118.5 0 0 1 426.3,223.7L416.1,230.0A106.5,106.5 0 0 0 415.8,229.6ZM432.8,235.7A118.5,118.5 0 0 1 433.2,236.5L422.4,241.6A106.5,106.5 0 0 0 422.0,240.8ZM226.0,222.5A118.5,118.5 0 0 1 226.3,222.0L236.3,228.5A106.5,106.5 0 0 0 236.1,228.9ZM384.5,389.3A118.5,118.5 0 0 1 383.9,389.7L378.0,379.2A106.5,106.5 0 0 0 378.6,378.9ZM209.0,306.7A118.5,118.5 0 0 1 208.9,306.0L220.7,304.0A106.5,106.5 0 0 0 220.8,304.7ZM258.3,189.0A118.5,118.5 0 0 1 258.8,188.6L265.6,198.5A106.5,106.5 0 0 0 265.1,198.9Z" fill="#007a00" fill-opacity="0.32"/>
<path d="M207.3,286.0A118.5,118.5 0 0 1 207.3,284.7L219.3,284.9A106.5,106.5 0 0 0 219.3,286.0ZM327.3,167.9A118.5,118.5 0 0 1 328.3,167.9L328.1,179.9A106.5,106.5 0 0 0 327.1,179.9ZM334.5,168.2A118.5,118.5 0 0 1 335.6,168.3L334.6,180.3A106.5,106.5 0 0 0 333.6,180.2Z" fill="#007a00" fill-opacity="0.33"/>
<path d="M294.9,400.8A118.5,118.5 0 0 1 294.2,400.6L297.4,389.0A106.5,106.5 0 0 0 298.0,389.2Z" fill="#007a00" fill-opacity="0.39"/>
<path d="M347.0,169.8A118.5,118.5 0 0 1 348.1,170.0L345.8,181.8A106.5,106.5 0 0 0 344.9,181.6ZM444.2,286.8A118.5,118.5 0 0 1 444.2,288.5L432.2,288.3A106.5,106.5 0 0 0 432.2,286.8ZM344.2,169.3A118.5,118.5 0 0 1 345.2,169.5L343.2,181.3A106.5,106.5 0 0 0 342.3,181.2Z" fill="#007a00" fill-opacity="0.44"/>
<path d="M220.6,231.7A118.5,118.5 0 0 1 224.7,224.5L234.9,230.8A106.5,106.5 0 0 0 231.3,237.2ZM417.2,361.8A118.5,118.5 0 0 1 414.5,364.9L405.5,357.0A106.5,106.5 0 0 0 407.9,354.1Z" fill="#007a00" fill-opacity="0.45"/>
<path d="M329.4,404.8A118.5,118.5 0 0 1 328.6,404.9L328.3,392.9A106.5,106.5 0 0 0 329.0,392.9ZM337.8,404.3A118.5,118.5 0 0 1 337.1,404.4L335.9,392.4A106.5,106.5 0 0 0 336.6,392.3Z" fill="#007a00" fill-opacity="0.47"/>
<path d="M297.8,401.6A118.5,118.5 0 0 1 297.1,401.4L300.0,389.7A106.5,106.5 0 0 0 300.6,389.9ZM294.1,400.6A118.5,118.5 0 0 1 293.1,400.3L296.4,388.8A106.5,106.5 0 0 0 297.3,389.0Z" fill="#007a00" fill-opacity="0.48"/>
<path d="M296.6,401.3A118.5,118.5 0 0 1 295.6,401.0L298.6,389.4A106.5,106.5 0 0 0 299.5,389.6ZM247.5,375.4A118.5,118.5 0 0 1 246.3,374.3L254.3,365.4A106.5,106.5 0 0 0 255.5,366.4ZM212.4,321.0A118.5,118.5 0 0 1 212.0,319.5L223.5,316.1A106.5,106.5 0 0 0 223.9,317.5ZM227.3,352.3A118.5,118.5 0 0 1 226.4,350.9L236.4,344.4A106.5,106.5 0 0 0 237.3,345.6ZM413.0,206.3A118.5,118.5 0 0 1 413.7,207.0L404.8,215.1A106.5,106.5 0 0 0 404.2,214.4Z" fill="#007a00" fill-opacity="0.56"/>
<path d="M223.2,227.0A118.5,118.5 0 0 1 223.9,225.8L234.2,232.0A106.5,106.5 0 0 0 233.6,233.0ZM415.5,363.8A118.5,118.5 0 0 1 414.6,364.8L405.6,356.9A106.5,106.5 0 0 0 406.4,356.0Z" fill="#007a00" fill-opacity="0.62"/>
<path d="M386.2,388.3A118.5,118.5 0 0 1 385.1,389.0L379.1,378.6A106.5,106.5 0 0 0 380.1,378.0ZM408.5,201.6A118.5,118.5 0 0 1 409.4,202.5L400.9,211.0A106.5,106.5 0 0 0 400.1,210.1ZM409.6,202.7A118.5,118.5 0 0 1 410.5,203.6L401.9,212.0A106.5,106.5 0 0 0 401.1,211.1Z" fill="#007a00" fill-opacity="0.66"/>
<path d="M208.7,267.9A118.5,118.5 0 0 1 209.0,266.2L220.8,268.3A106.5,106.5 0 0 0 220.6,269.7ZM278.9,177.6A118.5,118.5 0 0 1 280.8,176.8L285.3,187.9A106.5,106.5 0 0 0 283.6,188.6ZM327.5,404.9A118.5,118.5 0 0 1 326.4,404.9L326.4,392.9A106.5,106.5 0 0 0 327.3,392.9ZM339.8,404.1A118.5,118.5 0 0 1 338.8,404.2L337.5,392.3A106.5,106.5 0 0 0 338.4,392.1Z" fill="#007a00" fill-opacity="0.67"/>
<path d="M220.7,231.5A118.5,118.5 0 0 1 221.2,230.6L231.8,236.3A106.5,106.5 0 0 0 231.4,237.1Z" fill="#007a00" fill-opacity="0.76"/>
<path d="M410.1,203.2A118.5,118.5 0 0 1 411.3,204.4L402.6,212.7A106.5,106.5 0 0 0 401.6,211.6ZM387.0,387.9A118.5,118.5 0 0 1 386.1,388.4L380.0,378.1A106.5,106.5 0 0 0 380.8,377.6ZM376.8,393.4A118.5,118.5 0 0 1 374.9,394.2L369.9,383.3A106.5,106.5 0 0 0 371.6,382.5Z" fill="#007a00" fill-opacity="0.78"/>
<path d="M221.6,229.9A118.5,118.5 0 0 1 221.9,229.3L232.5,235.0A106.5,106.5 0 0 0 232.1,235.6ZM222.4,228.5A118.5,118.5 0 0 1 222.9,227.6L233.3,233.6A106.5,106.5 0 0 0 232.8,234.4ZM224.1,225.6A118.5,118.5 0 0 1 224.4,224.9L234.7,231.1A106.5,106.5 0 0 0 234.4,231.7ZM441.6,311.2A118.5,118.5 0 0 1 441.3,312.9L429.6,310.2A106.5,106.5 0 0 0 429.9,308.7ZM416.8,362.3A118.5,118.5 0 0 1 416.3,362.8L407.1,355.1A106.5,106.5 0 0 0 407.6,354.6ZM396.4,381.5A118.5,118.5 0 0 1 394.7,382.8L387.7,373.0A106.5,106.5 0 0 0 389.2,371.9Z" fill="#007a00" fill-opacity="0.89"/>
<path d="M220.7,286.0A105.1,105.1 0 0 1 220.7,284.9L232.7,285.1A93.1,93.1 0 0 0 232.7,286.1Z" fill="#ff00ff" fill-opacity="0.11"/>
<path d="M430.0,299.6A105.1,105.1 0 0 1 429.9,300.1L418.1,298.6A93.1,93.1 0 0 0 418.1,298.1ZM353.2,387.8A105.1,105.1 0 0 1 352.7,388.0L349.6,376.4A93.1,93.1 0 0 0 350.1,376.3ZM267.2,373.7A105.1,105.1 0 0 1 266.5,373.2L273.3,363.3A93.1,93.1 0 0 0 273.9,363.7ZM346.0,183.3A105.1,105.1 0 0 1 346.5,183.4L344.1,195.1A93.1,93.1 0 0 0 343.7,195.0ZM343.6,390.0A105.1,105.1 0 0 1 343.1,390.1L341.1,378.2A93.1,93.1 0 0 0 341.5,378.2ZM272.7,377.1A105.1,105.1 0 0 1 272.2,376.8L278.3,366.5A93.1,93.1 0 0 0 278.7,366.8ZM420.7,241.4A105.1,105.1 0 0 1 421.1,242.2L410.2,247.2A93.1,93.1 0 0 0 409.9,246.6ZM348.0,183.7A105.1,105.1 0 0 1 348.6,183.8L346.0,195.5A93.1,93.1 0 0 0 345.4,195.4ZM229.5,244.2A105.1,105.1 0 0 1 229.7,243.7L240.7,248.6A93.1,93.1 0 0 0 240.5,249.0ZM263.3,370.9A105.1,105.1 0 0 1 262.8,370.6L270.0,361.0A93.1,93.1 0 0 0 270.4,361.3ZM303.4,389.1A105.1,105.1 0 0 1 302.6,388.9L305.3,377.2A93.1,93.1 0 0 0 306.0,377.4Z" fill="#ff00ff" fill-opacity="0.12"/>
<path d="M291.5,187.1A105.1,105.1 0 0 1 291.9,186.9L295.8,198.3A93.1,93.1 0 0 0 295.4,198.4ZM299.5,388.2A105.1,105.1 0 0 1 298.9,388.0L301.9,376.4A93.1,93.1 0 0 0 302.5,376.5ZM398.8,210.8A105.1,105.1 0 0 1 399.3,211.4L390.9,219.9A93.1,93.1 0 0 0 390.4,219.4ZM230.1,242.9A105.1,105.1 0 0 1 230.3,242.4L241.2,247.4A93.1,93.1 0 0 0 241.0,247.9ZM409.0,222.3A105.1,105.1 0 0 1 409.5,222.9L400.0,230.2A93.1,93.1 0 0 0 399.5,229.6ZM409.5,349.9A105.1,105.1 0 0 1 409.0,350.5L399.5,343.2A93.1,93.1 0 0 0 400.0,342.6ZM221.2,297.3A105.1,105.1 0 0 1 221.2,296.8L233.1,295.6A93.1,93.1 0 0 0 233.2,296.1ZM430.8,285.6A105.1,105.1 0 0 1 430.8,286.3L418.8,286.3A93.1,93.1 0 0 0 418.8,285.7ZM379.7,196.2A105.1,105.1 0 0 1 380.2,196.5L374.0,206.8A93.1,93.1 0 0 0 373.6,206.5ZM427.2,258.9A105.1,105.1 0 0 1 427.3,259.5L415.7,262.6A93.1,93.1 0 0 0 415.6,262.0ZM392.1,367.9A105.1,105.1 0 0 1 391.8,368.2L384.2,358.8A93.1,93.1 0 0 0 384.5,358.6ZM224.2,259.5A105.1,105.1 0 0 1 224.3,258.9L235.9,262.1A93.1,93.1 0 0 0 235.8,262.5ZM428.5,308.5A105.1,105.1 0 0 1 428.4,309.1L416.7,306.5A93.1,93.1 0 0 0 416.8,305.9ZM423.0,246.6A105.1,105.1 0 0 1 423.3,247.4L412.2,251.8A93.1,93.1 0 0 0 411.9,251.1ZM367.5,382.9A105.1,105.1 0 0 1 366.7,383.2L362.0,372.1A93.1,93.1 0 0 0 362.7,371.8ZM419.3,238.5A105.1,105.1 0 0 1 419.6,239.1L408.9,244.5A93.1,93.1 0 0 0 408.6,244.0ZM305.4,183.3A105.1,105.1 0 0 1 305.9,183.2L308.2,195.0A93.1,93.1 0 0 0 307.7,195.1ZM405.0,217.4A105.1,105.1 0 0 1 405.5,218.0L396.4,225.8A93.1,93.1 0 0 0 395.9,225.2ZM259.4,367.9A105.1,105.1 0 0 1 258.9,367.5L266.6,358.3A93.1,93.1 0 0 0 267.0,358.6ZM406.9,353.2A105.1,105.1 0 0 1 406.6,353.6L397.3,345.9A93.1,93.1 0 0 0 397.6,345.6Z" fill="#ff00ff" fill-opacity="0.18"/>
<path d="M400.4,212.4A105.1,105.1 0 0 1 402.3,214.4L393.6,222.6A93.1,93.1 0 0 0 391.9,220.9Z" fill="#ff00ff" fill-opacity="0.2"/>
<path d="M328.5,391.5A105.1,105.1 0 0 1 327.7,391.5L327.5,379.5A93.1,93.1 0 0 0 328.2,379.5ZM288.1,188.3A105.1,105.1 0 0 1 288.7,188.0L292.9,199.3A93.1,93.1 0 0 0 292.4,199.5ZM364.4,384.1A105.1,105.1 0 0 1 363.9,384.3L359.6,373.1A93.1,93.1 0 0 0 360.0,373.0ZM256.9,207.0A105.1,105.1 0 0 1 257.4,206.5L265.2,215.7A93.1,93.1 0 0 0 264.8,216.0ZM424.2,323.3A105.1,105.1 0 0 1 424.0,323.7L412.8,319.4A93.1,93.1 0 0 0 412.9,319.1ZM286.6,383.9A105.1,105.1 0 0 1 286.1,383.7L290.6,372.6A93.1,93.1 0 0 0 291.1,372.8ZM359.1,386.1A105.1,105.1 0 0 1 358.5,386.3L354.7,374.9A93.1,93.1 0 0 0 355.3,374.7ZM230.2,242.7A105.1,105.1 0 0 1 230.5,242.0L241.4,247.0A93.1,93.1 0 0 0 241.1,247.7ZM396.3,208.5A105.1,105.1 0 0 1 396.9,209.0L388.8,217.9A93.1,93.1 0 0 0 388.2,217.4ZM221.0,294.7A105.1,105.1 0 0 1 220.9,294.0L232.9,293.2A93.1,93.1 0 0 0 232.9,293.7ZM350.1,388.7A105.1,105.1 0 0 1 349.5,388.8L346.8,377.1A93.1,93.1 0 0 0 347.3,377.0ZM414.6,230.3A105.1,105.1 0 0 1 414.9,230.8L404.7,237.1A93.1,93.1 0 0 0 404.5,236.7ZM228.8,327.0A105.1,105.1 0 0 1 228.5,326.3L239.6,321.7A93.1,93.1 0 0 0 239.9,322.4ZM305.9,389.6A105.1,105.1 0 0 1 305.1,389.5L307.5,377.7A93.1,93.1 0 0 0 308.2,377.8ZM347.6,183.6A105.1,105.1 0 0 1 348.4,183.8L345.8,195.5A93.1,93.1 0 0 0 345.1,195.3ZM231.7,333.3A105.1,105.1 0 0 1 231.4,332.7L242.2,327.4A93.1,93.1 0 0 0 242.4,327.9ZM295.4,185.8A105.1,105.1 0 0 1 296.2,185.5L299.6,197.0A93.1,93.1 0 0 0 298.9,197.3ZM259.0,367.6A105.1,105.1 0 0 1 258.6,367.2L266.2,358.0A93.1,93.1 0 0 0 266.6,358.3ZM409.3,350.2A105.1,105.1 0 0 1 409.0,350.5L399.5,343.2A93.1,93.1 0 0 0 399.8,342.9ZM377.9,377.7A105.1,105.1 0 0 1 377.3,378.0L371.4,367.5A93.1,93.1 0 0 0 371.9,367.2ZM222.2,304.4A105.1,105.1 0 0 1 222.1,303.8L233.9,301.8A93.1,93.1 0 0 0 234.0,302.4ZM425.8,318.5A105.1,105.1 0 0 1 425.6,319.1L414.2,315.3A93.1,93.1 0 0 0 414.4,314.8ZM256.3,365.3A105.1,105.1 0 0 1 255.9,364.9L263.9,355.9A93.1,93.1 0 0 0 264.2,356.3ZM429.1,267.2A105.1,105.1 0 0 1 429.2,267.8L417.4,270.0A93.1,93.1 0 0 0 417.3,269.4ZM373.1,380.2A105.1,105.1 0 0 1 372.7,380.4L367.3,369.7A93.1,93.1 0 0 0 367.7,369.5Z" fill="#ff00ff" fill-opacity="0.25"/>
<path d="M404.4,356.1A105.1,105.1 0 0 1 404.1,356.4L395.2,348.4A93.1,93.1 0 0 0 395.5,348.1ZM353.1,184.9A105.1,105.1 0 0 1 353.5,185.0L350.3,196.6A93.1,93.1 0 0 0 350.0,196.5ZM221.3,297.8A105.1,105.1 0 0 1 221.2,297.3L233.2,296.0A93.1,93.1 0 0 0 233.2,296.5ZM378.6,195.6A105.1,105.1 0 0 1 379.3,196.0L373.2,206.3A93.1,93.1 0 0 0 372.6,205.9ZM227.7,324.1A105.1,105.1 0 0 1 227.4,323.4L238.6,319.1A93.1,93.1 0 0 0 238.9,319.8ZM220.7,289.4A105.1,105.1 0 0 1 220.7,288.9L232.7,288.6A93.1,93.1 0 0 0 232.7,289.1ZM351.6,388.3A105.1,105.1 0 0 1 351.2,388.4L348.3,376.7A93.1,93.1 0 0 0 348.7,376.6ZM246.4,217.5A105.1,105.1 0 0 1 246.8,217.0L255.8,224.9A93.1,93.1 0 0 0 255.4,225.4ZM401.7,359.0A105.1,105.1 0 0 1 401.3,359.5L392.6,351.2A93.1,93.1 0 0 0 393.0,350.8ZM347.0,389.3A105.1,105.1 0 0 1 346.4,389.5L344.0,377.7A93.1,93.1 0 0 0 344.6,377.6ZM258.1,366.8A105.1,105.1 0 0 1 257.7,366.5L265.4,357.3A93.1,93.1 0 0 0 265.8,357.6ZM255.3,208.4A105.1,105.1 0 0 1 255.6,208.1L263.6,217.1A93.1,93.1 0 0 0 263.3,217.3ZM228.4,246.9A105.1,105.1 0 0 1 228.6,246.4L239.7,251.0A93.1,93.1 0 0 0 239.5,251.4ZM278.4,192.6A105.1,105.1 0 0 1 278.8,192.4L284.2,203.1A93.1,93.1 0 0 0 283.8,203.3ZM284.5,383.1A105.1,105.1 0 0 1 284.1,382.9L288.9,371.9A93.1,93.1 0 0 0 289.2,372.0ZM360.2,187.1A105.1,105.1 0 0 1 360.7,187.3L356.7,198.6A93.1,93.1 0 0 0 356.3,198.4ZM426.4,316.8A105.1,105.1 0 0 1 426.1,317.5L414.7,314.0A93.1,93.1 0 0 0 414.9,313.3ZM407.9,220.8A105.1,105.1 0 0 1 408.2,221.2L398.8,228.7A93.1,93.1 0 0 0 398.5,228.3ZM429.7,270.8A105.1,105.1 0 0 1 429.8,271.7L417.9,273.3A93.1,93.1 0 0 0 417.8,272.6Z" fill="#ff00ff" fill-opacity="0.32"/>
<path d="M327.1,181.3A105.1,105.1 0 0 1 328.0,181.3L327.8,193.3A93.1,93.1 0 0 0 327.0,193.3ZM333.5,181.6A105.1,105.1 0 0 1 334.5,181.7L333.5,193.6A93.1,93.1 0 0 0 332.6,193.6ZM430.8,286.8A105.1,105.1 0 0 1 430.8,288.2L418.8,288.0A93.1,93.1 0 0 0 418.8,286.7Z" fill="#ff00ff" fill-opacity="0.33"/>
<path d="M232.4,238.0A105.1,105.1 0 0 1 233.1,236.7L243.7,242.4A93.1,93.1 0 0 0 243.1,243.6ZM349.5,184.0A105.1,105.1 0 0 1 350.4,184.2L347.6,195.9A93.1,93.1 0 0 0 346.8,195.7ZM240.1,347.3A105.1,105.1 0 0 1 239.2,346.1L249.1,339.3A93.1,93.1 0 0 0 249.9,340.3Z" fill="#ff00ff" fill-opacity="0.44"/>
<path d="M400.5,212.5A105.1,105.1 0 0 1 400.9,212.9L392.3,221.3A93.1,93.1 0 0 0 391.9,220.9Z" fill="#ff00ff" fill-opacity="0.47"/>
<path d="M408.3,351.4A105.1,105.1 0 0 1 407.4,352.5L398.1,345.0A93.1,93.1 0 0 0 398.9,344.0ZM349.0,183.9A105.1,105.1 0 0 1 350.1,184.2L347.3,195.8A93.1,93.1 0 0 0 346.4,195.6Z" fill="#ff00ff" fill-opacity="0.56"/>
<path d="M401.5,213.5A105.1,105.1 0 0 1 402.3,214.4L393.6,222.6A93.1,93.1 0 0 0 392.9,221.9Z" fill="#ff00ff" fill-opacity="0.57"/>
<path d="M221.9,270.0A105.1,105.1 0 0 1 222.2,268.5L234.0,270.6A93.1,93.1 0 0 0 233.8,271.8ZM385.3,199.8A105.1,105.1 0 0 1 386.5,200.6L379.5,210.4A93.1,93.1 0 0 0 378.5,209.7ZM399.3,211.3A105.1,105.1 0 0 1 400.3,212.3L391.8,220.8A93.1,93.1 0 0 0 390.9,219.9ZM328.7,391.5A105.1,105.1 0 0 1 327.2,391.5L327.0,379.5A93.1,93.1 0 0 0 328.3,379.5ZM338.4,390.7A105.1,105.1 0 0 1 336.9,390.9L335.6,379.0A93.1,93.1 0 0 0 336.9,378.8ZM224.1,313.2A105.1,105.1 0 0 1 223.8,311.8L235.4,308.9A93.1,93.1 0 0 0 235.7,310.2ZM383.3,198.5A105.1,105.1 0 0 1 384.2,199.1L377.5,209.0A93.1,93.1 0 0 0 376.7,208.5Z" fill="#ff00ff" fill-opacity="0.67"/>
<path d="M430.3,275.8A105.1,105.1 0 0 1 430.5,277.2L418.5,278.3A93.1,93.1 0 0 0 418.4,277.0Z" fill="#ff00ff" fill-opacity="0.78"/>
<path d="M428.5,308.4A105.1,105.1 0 0 1 428.2,309.9L416.5,307.2A93.1,93.1 0 0 0 416.8,305.9Z" fill="#ff00ff" fill-opacity="0.89"/>
<path d="M234.1,286.1A91.7,91.7 0 0 1 234.1,285.1L246.1,285.3A79.7,79.7 0 0 0 246.1,286.1Z" fill="#1010ff" fill-opacity="0.11"/>
<path d="M394.4,347.2A91.7,91.7 0 0 1 394.1,347.5L385.2,339.5A79.7,79.7 0 0 0 385.4,339.2ZM398.4,230.4A91.7,91.7 0 0 1 398.8,231.0L389.3,238.3A79.7,79.7 0 0 0 388.9,237.8ZM398.9,341.8A91.7,91.7 0 0 1 398.4,342.3L388.9,335.0A79.7,79.7 0 0 0 389.3,334.5ZM234.5,295.9A91.7,91.7 0 0 1 234.5,295.4L246.4,294.3A79.7,79.7 0 0 0 246.5,294.7ZM248.7,336.0A91.7,91.7 0 0 1 248.4,335.7L258.6,329.3A79.7,79.7 0 0 0 258.7,329.5ZM242.3,248.3A91.7,91.7 0 0 1 242.6,247.6L253.5,252.7A79.7,79.7 0 0 0 253.3,253.3ZM298.9,198.7A91.7,91.7 0 0 1 299.4,198.6L302.9,210.1A79.7,79.7 0 0 0 302.4,210.2ZM256.5,226.3A91.7,91.7 0 0 1 256.9,225.9L265.9,233.8A79.7,79.7 0 0 0 265.6,234.2ZM274.6,362.5A91.7,91.7 0 0 1 274.0,362.1L280.8,352.2A79.7,79.7 0 0 0 281.3,352.6ZM377.1,210.4A91.7,91.7 0 0 1 377.7,210.8L370.9,220.7A79.7,79.7 0 0 0 370.4,220.3ZM335.9,377.5A91.7,91.7 0 0 1 335.5,377.6L334.2,365.7A79.7,79.7 0 0 0 334.5,365.6ZM278.2,208.0A91.7,91.7 0 0 1 278.5,207.8L284.7,218.1A79.7,79.7 0 0 0 284.4,218.3ZM299.3,198.6A91.7,91.7 0 0 1 300.0,198.4L303.4,209.9A79.7,79.7 0 0 0 302.8,210.1ZM256.5,346.5A91.7,91.7 0 0 1 256.0,346.0L265.2,338.2A79.7,79.7 0 0 0 265.6,338.6ZM255.3,227.6A91.7,91.7 0 0 1 255.7,227.3L264.8,235.0A79.7,79.7 0 0 0 264.6,235.3ZM290.4,201.8A91.7,91.7 0 0 1 291.0,201.5L295.6,212.6A79.7,79.7 0 0 0 295.0,212.9ZM355.8,199.8A91.7,91.7 0 0 1 356.3,199.9L352.3,211.2A79.7,79.7 0 0 0 351.9,211.1ZM413.1,314.4A91.7,91.7 0 0 1 412.9,314.9L401.5,311.2A79.7,79.7 0 0 0 401.7,310.7ZM241.8,249.6A91.7,91.7 0 0 1 242.0,249.1L252.9,254.0A79.7,79.7 0 0 0 252.8,254.4ZM412.3,316.7A91.7,91.7 0 0 1 412.2,317.1L400.9,313.0A79.7,79.7 0 0 0 401.0,312.7ZM396.6,344.7A91.7,91.7 0 0 1 396.3,345.0L387.0,337.4A79.7,79.7 0 0 0 387.3,337.0Z" fill="#1010ff" fill-opacity="0.12"/>
<path d="M295.8,199.7A91.7,91.7 0 0 1 296.2,199.6L300.1,210.9A79.7,79.7 0 0 0 299.7,211.1ZM389.4,220.4A91.7,91.7 0 0 1 390.0,220.9L381.6,229.5A79.7,79.7 0 0 0 381.1,229.1ZM292.9,200.8A91.7,91.7 0 0 1 293.4,200.6L297.7,211.8A79.7,79.7 0 0 0 297.2,212.0ZM359.4,371.7A91.7,91.7 0 0 1 359.1,371.8L354.7,360.7A79.7,79.7 0 0 0 355.0,360.5ZM416.8,297.1A91.7,91.7 0 0 1 416.8,297.5L404.9,296.0A79.7,79.7 0 0 0 404.9,295.7ZM264.0,218.6A91.7,91.7 0 0 1 264.4,218.3L272.4,227.2A79.7,79.7 0 0 0 272.1,227.5ZM349.7,374.9A91.7,91.7 0 0 1 349.3,375.0L346.2,363.4A79.7,79.7 0 0 0 346.6,363.3ZM383.7,357.5A91.7,91.7 0 0 1 383.3,357.8L375.8,348.4A79.7,79.7 0 0 0 376.1,348.2ZM412.8,257.5A91.7,91.7 0 0 1 412.9,257.9L401.5,261.6A79.7,79.7 0 0 0 401.4,261.3ZM316.2,195.2A91.7,91.7 0 0 1 316.7,195.1L317.9,207.1A79.7,79.7 0 0 0 317.4,207.1ZM308.5,376.5A91.7,91.7 0 0 1 307.8,376.3L310.1,364.6A79.7,79.7 0 0 0 310.7,364.7ZM344.8,196.7A91.7,91.7 0 0 1 345.5,196.8L342.9,208.6A79.7,79.7 0 0 0 342.3,208.4ZM266.7,356.6A91.7,91.7 0 0 1 266.3,356.3L274.1,347.1A79.7,79.7 0 0 0 274.4,347.4ZM279.4,365.5A91.7,91.7 0 0 1 279.0,365.3L285.1,355.0A79.7,79.7 0 0 0 285.5,355.2ZM284.5,204.5A91.7,91.7 0 0 1 284.8,204.3L290.2,215.1A79.7,79.7 0 0 0 289.9,215.2ZM398.6,342.0A91.7,91.7 0 0 1 398.4,342.4L388.9,335.0A79.7,79.7 0 0 0 389.1,334.8ZM416.7,298.2A91.7,91.7 0 0 1 416.6,298.6L404.7,297.0A79.7,79.7 0 0 0 404.8,296.6ZM265.1,355.2A91.7,91.7 0 0 1 264.8,354.9L272.8,345.9A79.7,79.7 0 0 0 273.1,346.2ZM308.0,196.4A91.7,91.7 0 0 1 308.5,196.3L310.7,208.1A79.7,79.7 0 0 0 310.3,208.2ZM393.6,224.7A91.7,91.7 0 0 1 394.0,225.1L385.1,233.2A79.7,79.7 0 0 0 384.7,232.8ZM416.4,272.8A91.7,91.7 0 0 1 416.5,273.5L404.7,275.2A79.7,79.7 0 0 0 404.6,274.6Z" fill="#1010ff" fill-opacity="0.18"/>
<path d="M390.9,221.8A91.7,91.7 0 0 1 392.5,223.6L383.8,231.8A79.7,79.7 0 0 0 382.4,230.3Z" fill="#1010ff" fill-opacity="0.2"/>
<path d="M371.9,207.1A91.7,91.7 0 0 1 372.5,207.5L366.4,217.8A79.7,79.7 0 0 0 365.8,217.5ZM348.3,375.3A91.7,91.7 0 0 1 347.9,375.4L345.0,363.7A79.7,79.7 0 0 0 345.4,363.6ZM414.3,262.4A91.7,91.7 0 0 1 414.4,262.9L402.8,266.0A79.7,79.7 0 0 0 402.7,265.5ZM343.4,196.4A91.7,91.7 0 0 1 343.8,196.5L341.5,208.3A79.7,79.7 0 0 0 341.1,208.2ZM241.2,321.9A91.7,91.7 0 0 1 240.9,321.2L252.0,316.6A79.7,79.7 0 0 0 252.2,317.2ZM341.3,376.8A91.7,91.7 0 0 1 340.9,376.8L338.9,365.0A79.7,79.7 0 0 0 339.3,364.9ZM333.5,377.8A91.7,91.7 0 0 1 333.1,377.8L332.2,365.8A79.7,79.7 0 0 0 332.5,365.8ZM392.4,349.4A91.7,91.7 0 0 1 392.1,349.7L383.4,341.4A79.7,79.7 0 0 0 383.7,341.1ZM258.7,348.9A91.7,91.7 0 0 1 258.3,348.6L267.2,340.4A79.7,79.7 0 0 0 267.5,340.7ZM248.5,236.9A91.7,91.7 0 0 1 248.8,236.6L258.8,243.1A79.7,79.7 0 0 0 258.7,243.4ZM345.1,196.8A91.7,91.7 0 0 1 345.7,196.9L343.1,208.6A79.7,79.7 0 0 0 342.6,208.5ZM267.5,357.2A91.7,91.7 0 0 1 267.1,356.9L274.8,347.7A79.7,79.7 0 0 0 275.1,348.0ZM410.6,251.7A91.7,91.7 0 0 1 410.9,252.3L399.7,256.8A79.7,79.7 0 0 0 399.5,256.2ZM236.5,265.2A91.7,91.7 0 0 1 236.7,264.6L248.3,267.5A79.7,79.7 0 0 0 248.2,268.0ZM413.5,312.9A91.7,91.7 0 0 1 413.3,313.6L401.9,310.0A79.7,79.7 0 0 0 402.1,309.4ZM306.3,376.0A91.7,91.7 0 0 1 305.6,375.9L308.2,364.1A79.7,79.7 0 0 0 308.8,364.3ZM403.4,237.6A91.7,91.7 0 0 1 403.8,238.2L393.6,244.5A79.7,79.7 0 0 0 393.2,244.0ZM405.5,241.2A91.7,91.7 0 0 1 405.8,241.7L395.3,247.5A79.7,79.7 0 0 0 395.1,247.1ZM267.9,357.5A91.7,91.7 0 0 1 267.5,357.2L275.1,347.9A79.7,79.7 0 0 0 275.5,348.2Z" fill="#1010ff" fill-opacity="0.25"/>
<path d="M265.7,355.7A91.7,91.7 0 0 1 265.3,355.4L273.2,346.4A79.7,79.7 0 0 0 273.6,346.6ZM242.3,248.4A91.7,91.7 0 0 1 242.5,248.0L253.4,253.0A79.7,79.7 0 0 0 253.2,253.4ZM349.6,197.9A91.7,91.7 0 0 1 350.0,198.0L346.8,209.5A79.7,79.7 0 0 0 346.5,209.4ZM403.4,237.7A91.7,91.7 0 0 1 403.8,238.3L393.6,244.6A79.7,79.7 0 0 0 393.3,244.1ZM329.4,378.0A91.7,91.7 0 0 1 328.8,378.0L328.4,366.1A79.7,79.7 0 0 0 328.9,366.0ZM250.1,234.5A91.7,91.7 0 0 1 250.4,234.1L260.3,241.0A79.7,79.7 0 0 0 260.0,241.3ZM240.2,319.3A91.7,91.7 0 0 1 239.9,318.6L251.1,314.4A79.7,79.7 0 0 0 251.4,315.0ZM417.2,279.9A91.7,91.7 0 0 1 417.3,280.4L405.3,281.2A79.7,79.7 0 0 0 405.2,280.7ZM387.3,218.4A91.7,91.7 0 0 1 387.8,218.9L379.7,227.7A79.7,79.7 0 0 0 379.2,227.3ZM370.8,206.5A91.7,91.7 0 0 1 371.3,206.8L365.3,217.2A79.7,79.7 0 0 0 364.9,217.0ZM390.8,351.1A91.7,91.7 0 0 1 390.3,351.6L381.8,343.0A79.7,79.7 0 0 0 382.3,342.6ZM403.3,237.5A91.7,91.7 0 0 1 403.6,237.9L393.4,244.2A79.7,79.7 0 0 0 393.2,243.9ZM310.5,376.8A91.7,91.7 0 0 1 310.0,376.7L312.1,364.9A79.7,79.7 0 0 0 312.5,365.0ZM344.4,376.2A91.7,91.7 0 0 1 343.7,376.3L341.4,364.6A79.7,79.7 0 0 0 342.0,364.4ZM243.7,327.3A91.7,91.7 0 0 1 243.4,326.8L254.2,321.5A79.7,79.7 0 0 0 254.4,322.0ZM407.4,244.6A91.7,91.7 0 0 1 407.6,245.1L396.9,250.5A79.7,79.7 0 0 0 396.7,250.1ZM394.9,226.2A91.7,91.7 0 0 1 395.4,226.7L386.2,234.5A79.7,79.7 0 0 0 385.8,234.0ZM337.8,377.3A91.7,91.7 0 0 1 337.3,377.4L335.8,365.5A79.7,79.7 0 0 0 336.2,365.4Z" fill="#1010ff" fill-opacity="0.32"/>
<path d="M332.5,195.0A91.7,91.7 0 0 1 333.3,195.0L332.3,207.0A79.7,79.7 0 0 0 331.7,206.9Z" fill="#1010ff" fill-opacity="0.33"/>
<path d="M327.0,194.7A91.7,91.7 0 0 1 327.8,194.7L327.5,206.7A79.7,79.7 0 0 0 326.8,206.7ZM417.4,286.7A91.7,91.7 0 0 1 417.4,288.0L405.4,287.8A79.7,79.7 0 0 0 405.4,286.7Z" fill="#1010ff" fill-opacity="0.44"/>
<path d="M243.3,246.2A91.7,91.7 0 0 1 247.1,239.2L257.4,245.4A79.7,79.7 0 0 0 254.1,251.5Z" fill="#1010ff" fill-opacity="0.45"/>
<path d="M404.8,332.8A91.7,91.7 0 0 1 404.2,333.9L393.9,327.7A79.7,79.7 0 0 0 394.5,326.7ZM243.0,325.9A91.7,91.7 0 0 1 242.4,324.7L253.3,319.7A79.7,79.7 0 0 0 253.8,320.7ZM404.6,239.5A91.7,91.7 0 0 1 405.0,240.2L394.6,246.2A79.7,79.7 0 0 0 394.2,245.6ZM407.8,245.4A91.7,91.7 0 0 1 408.1,246.1L397.4,251.4A79.7,79.7 0 0 0 397.0,250.8ZM378.5,211.4A91.7,91.7 0 0 1 379.3,211.9L372.3,221.7A79.7,79.7 0 0 0 371.6,221.2Z" fill="#1010ff" fill-opacity="0.56"/>
<path d="M391.8,222.8A91.7,91.7 0 0 1 392.3,223.4L383.6,231.6A79.7,79.7 0 0 0 383.2,231.1Z" fill="#1010ff" fill-opacity="0.57"/>
<path d="M245.9,241.4A91.7,91.7 0 0 1 246.3,240.7L256.7,246.7A79.7,79.7 0 0 0 256.3,247.3Z" fill="#1010ff" fill-opacity="0.62"/>
<path d="M235.2,272.1A91.7,91.7 0 0 1 235.4,270.8L247.2,272.8A79.7,79.7 0 0 0 247.0,273.9ZM347.9,197.4A91.7,91.7 0 0 1 349.2,197.7L346.1,209.3A79.7,79.7 0 0 0 345.0,209.1ZM237.6,311.8A91.7,91.7 0 0 1 237.3,310.6L248.9,307.4A79.7,79.7 0 0 0 249.2,308.5ZM390.9,221.9A91.7,91.7 0 0 1 391.4,222.4L382.8,230.8A79.7,79.7 0 0 0 382.4,230.3Z" fill="#1010ff" fill-opacity="0.67"/>
<path d="M243.4,246.0A91.7,91.7 0 0 1 243.9,245.0L254.6,250.5A79.7,79.7 0 0 0 254.2,251.3ZM245.2,242.6A91.7,91.7 0 0 1 245.6,241.9L256.1,247.7A79.7,79.7 0 0 0 255.8,248.3ZM246.5,240.3A91.7,91.7 0 0 1 247.0,239.4L257.3,245.6A79.7,79.7 0 0 0 256.9,246.3Z" fill="#1010ff" fill-opacity="0.76"/>
<path d="M244.0,244.9A91.7,91.7 0 0 1 244.3,244.2L255.0,249.7A79.7,79.7 0 0 0 254.7,250.3ZM244.7,243.4A91.7,91.7 0 0 1 245.0,242.9L255.6,248.6A79.7,79.7 0 0 0 255.3,249.1ZM415.4,305.6A91.7,91.7 0 0 1 415.1,306.9L403.4,304.2A79.7,79.7 0 0 0 403.7,303.1Z" fill="#1010ff" fill-opacity="0.89"/>
<circle cx="325.75" cy="286.4" r="68.0" fill="none" stroke="#f6d6f6" stroke-width="7" stroke-opacity="0.22"/>
<path d="M324.1,214.6L325.8,219.3L327.4,214.6ZM324.7,214.6L326.3,217.3L327.9,214.6ZM325.8,214.6L327.4,217.2L329.1,214.7ZM326.4,214.6L327.8,219.7L329.6,214.7ZM326.9,214.6L328.4,218.4L330.2,214.7ZM328.6,214.7L330.0,218.4L331.9,214.9ZM329.2,214.7L330.4,220.2L332.4,214.9ZM329.8,214.7L331.2,217.2L333.0,215.0ZM334.3,215.1L335.3,219.5L337.5,215.6ZM334.8,215.2L335.1,224.2L338.0,215.7ZM335.4,215.2L336.2,220.4L338.6,215.8ZM335.9,215.3L337.1,218.3L339.1,215.9ZM336.5,215.4L337.3,220.1L339.7,216.0ZM337.0,215.5L338.0,219.4L340.2,216.1ZM339.8,216.0L339.7,224.1L343.0,216.7ZM340.9,216.2L341.0,223.0L344.1,217.0ZM341.5,216.3L342.0,221.0L344.6,217.1ZM342.0,216.5L342.0,222.9L345.2,217.3ZM342.6,216.6L343.1,220.8L345.7,217.4ZM343.1,216.7L343.5,221.6L346.3,217.6ZM343.7,216.9L344.4,220.1L346.8,217.8ZM345.8,217.5L346.3,221.4L348.9,218.5ZM346.4,217.6L346.9,221.5L349.5,218.6ZM349.1,218.5L349.2,222.9L352.1,219.6ZM350.1,218.9L350.3,223.0L353.2,220.0ZM353.3,220.1L353.7,223.1L356.3,221.4ZM356.4,221.5L356.4,225.1L359.3,222.9ZM361.4,224.1L361.0,227.8L364.2,225.7ZM361.9,224.3L360.1,230.3L364.6,226.0ZM362.4,224.6L360.8,230.3L365.1,226.4ZM367.5,228.0L366.4,232.3L370.2,230.0ZM369.8,229.7L368.9,233.4L372.3,231.8ZM372.4,231.8L371.4,235.5L374.9,234.0ZM372.9,232.2L372.0,235.6L375.3,234.4ZM375.4,234.5L374.8,237.3L377.7,236.8ZM377.0,236.1L374.1,241.0L379.2,238.4ZM377.4,236.5L374.4,241.4L379.6,238.9ZM377.7,236.9L376.4,240.3L379.9,239.3ZM378.9,238.1L377.8,241.2L381.0,240.6ZM379.3,238.5L378.4,241.5L381.4,241.0ZM380.4,239.8L376.1,245.4L382.4,242.3ZM380.8,240.2L379.6,243.3L382.8,242.8ZM381.8,241.6L380.9,244.3L383.8,244.1ZM382.2,242.0L380.6,245.2L384.1,244.6ZM385.2,246.1L383.5,249.1L386.9,248.8ZM386.7,248.5L383.2,252.4L388.4,251.3ZM387.0,248.9L383.5,252.8L388.6,251.8ZM387.3,249.4L384.0,253.2L388.9,252.3ZM387.6,249.9L384.2,253.7L389.2,252.7ZM388.1,250.9L386.0,253.9L389.7,253.7ZM389.0,252.4L386.9,255.2L390.4,255.3ZM390.0,254.4L388.6,256.8L391.4,257.3ZM390.3,254.9L387.6,257.9L391.6,257.8ZM390.5,255.4L381.8,261.1L391.8,258.3ZM391.4,257.4L389.2,260.1L392.7,260.4ZM391.7,257.9L385.7,262.1L392.9,261.0ZM391.9,258.5L389.1,261.3L393.1,261.5ZM392.7,260.6L390.7,263.0L393.8,263.6ZM392.9,261.1L386.6,265.0L394.0,264.2ZM393.5,262.7L389.1,265.8L394.5,265.8ZM393.7,263.2L391.1,265.7L394.7,266.3ZM393.9,263.7L388.7,267.0L394.8,266.9ZM394.7,266.4L389.3,269.5L395.6,269.6ZM394.9,267.0L391.2,269.6L395.7,270.1ZM395.0,267.5L389.4,270.6L395.8,270.7ZM395.2,268.1L392.7,270.3L395.9,271.2ZM395.3,268.6L389.1,271.7L396.0,271.8ZM395.4,269.2L389.9,272.1L396.2,272.3ZM395.8,270.8L393.1,273.0L396.5,274.0ZM396.0,271.3L390.7,274.0L396.6,274.5ZM396.3,273.0L393.1,275.2L396.8,276.2ZM396.4,273.6L392.5,275.8L396.9,276.8ZM396.5,274.1L392.3,276.4L397.0,277.3ZM396.6,274.7L391.2,277.1L397.0,277.9ZM396.7,275.2L391.8,277.5L397.1,278.5ZM397.1,278.6L391.9,280.7L397.4,281.8ZM397.2,279.1L392.9,281.1L397.4,282.4ZM397.2,279.7L388.1,282.0L397.5,283.0ZM397.3,280.3L384.9,282.7L397.5,283.5ZM397.3,280.8L392.9,282.7L397.5,284.1ZM397.5,283.6L394.1,285.3L397.5,286.9ZM397.5,284.2L395.1,285.9L397.5,287.5ZM397.5,284.8L393.5,286.4L397.5,288.0ZM397.5,285.3L389.9,286.9L397.5,288.6ZM397.5,285.9L386.9,287.4L397.5,289.2ZM397.5,286.5L387.2,287.8L397.5,289.7ZM397.5,287.0L392.1,288.5L397.4,290.3ZM397.5,287.6L394.3,289.1L397.4,290.8ZM397.5,288.2L393.9,289.6L397.4,291.4ZM397.4,291.0L394.7,292.4L397.1,294.2ZM397.4,291.5L391.0,292.6L397.1,294.8ZM397.3,292.1L394.5,293.4L397.0,295.3ZM397.3,292.7L393.3,293.9L396.9,295.9ZM397.0,295.5L391.6,296.3L396.5,298.7ZM396.8,296.6L393.0,297.6L396.3,299.8ZM396.7,297.1L392.1,298.0L396.2,300.3ZM396.7,297.7L392.3,298.6L396.1,300.9ZM396.3,299.9L390.0,300.2L395.6,303.1ZM396.2,300.5L389.3,300.6L395.4,303.6ZM396.0,301.0L383.5,299.8L395.3,304.2ZM395.9,301.6L386.6,301.0L395.2,304.7ZM395.8,302.1L393.0,303.1L395.0,305.3ZM395.7,302.7L388.9,302.6L394.9,305.8ZM395.6,303.2L392.3,304.0L394.7,306.4ZM395.1,304.9L390.8,305.3L394.2,308.0ZM395.0,305.4L387.7,304.9L394.1,308.5ZM394.8,305.9L387.0,305.2L393.9,309.1ZM393.7,309.7L390.8,310.4L392.5,312.8ZM393.5,310.2L390.0,310.7L392.3,313.3ZM393.3,310.8L387.9,310.5L392.1,313.8ZM393.1,311.3L388.0,311.0L391.9,314.3ZM391.6,315.0L388.0,315.1L390.3,317.9ZM391.4,315.5L388.5,315.9L390.0,318.4ZM390.9,316.5L387.0,316.4L389.5,319.4ZM390.7,317.0L386.0,316.5L389.2,319.9ZM390.4,317.5L385.0,316.6L389.0,320.4ZM390.2,318.0L384.4,316.9L388.7,320.9ZM389.7,319.1L382.9,317.2L388.1,321.9ZM389.4,319.6L384.4,318.6L387.9,322.4ZM389.2,320.1L384.3,319.2L387.6,322.9ZM388.9,320.5L384.1,319.7L387.3,323.4ZM388.6,321.0L385.1,320.9L387.0,323.9ZM387.5,323.0L383.7,322.5L385.8,325.8ZM387.2,323.5L383.7,323.2L385.5,326.2ZM386.6,324.4L383.7,324.4L384.9,327.2ZM386.3,324.9L381.6,323.7L384.5,327.6ZM386.0,325.4L380.3,323.5L384.2,328.1ZM385.7,325.9L379.8,323.8L383.9,328.6ZM385.4,326.3L379.0,323.8L383.5,329.0ZM384.5,327.7L381.4,327.5L382.5,330.4ZM383.8,328.7L380.9,328.5L381.8,331.2ZM382.8,330.0L375.8,326.5L380.8,332.6ZM382.4,330.5L371.7,323.8L380.4,333.0ZM382.1,330.9L371.5,324.2L380.0,333.4ZM381.0,332.2L375.7,329.7L378.9,334.7ZM380.3,333.1L377.3,332.6L378.1,335.5ZM379.9,333.5L375.8,331.9L377.7,335.9ZM379.6,333.9L374.7,331.6L377.4,336.3ZM379.2,334.4L374.8,332.4L377.0,336.7ZM378.8,334.8L371.6,330.1L376.6,337.1ZM378.4,335.2L372.2,331.4L376.2,337.5ZM378.0,335.6L372.2,332.2L375.8,337.9ZM377.7,336.0L374.2,334.9L375.4,338.3ZM376.1,337.6L371.8,335.4L373.7,339.8ZM375.7,338.0L371.7,336.1L373.3,340.2ZM375.3,338.4L370.7,335.8L372.9,340.6ZM374.0,339.5L371.0,338.5L371.6,341.7ZM372.8,340.7L368.5,338.1L370.3,342.7ZM372.3,341.0L368.3,338.6L369.8,343.1ZM371.9,341.4L368.3,339.5L369.4,343.4ZM371.5,341.8L368.4,340.5L368.9,343.8ZM371.0,342.1L368.3,341.2L368.5,344.1ZM370.6,342.5L367.5,341.1L368.0,344.5ZM369.7,343.2L366.3,341.4L367.1,345.1ZM369.3,343.5L365.2,340.8L366.6,345.4ZM367.4,344.9L363.4,341.8L364.7,346.7ZM367.0,345.2L363.5,343.0L364.3,347.0ZM366.1,345.8L362.3,343.0L363.3,347.6ZM365.1,346.4L362.4,345.1L362.4,348.2ZM361.8,348.5L359.2,347.2L358.9,350.1ZM361.3,348.8L357.8,345.9L358.4,350.3ZM360.3,349.3L356.9,346.4L357.4,350.9ZM359.8,349.6L356.6,346.9L356.9,351.1ZM358.3,350.4L354.9,347.0L355.4,351.8ZM355.8,351.6L353.0,349.3L352.8,352.9ZM355.2,351.9L352.2,348.9L352.2,353.1ZM354.7,352.1L350.2,345.5L351.7,353.3ZM354.2,352.3L350.3,347.1L351.2,353.5ZM353.7,352.5L350.3,348.3L350.7,353.7ZM353.2,352.8L350.0,349.2L350.1,353.9ZM351.6,353.4L346.7,344.7L348.5,354.5ZM350.5,353.8L346.8,347.8L347.5,354.8ZM350.0,354.0L346.4,348.3L346.9,355.0ZM349.5,354.2L346.5,350.2L346.4,355.2ZM348.9,354.3L346.0,350.3L345.8,355.3ZM348.4,354.5L344.8,348.4L345.3,355.5ZM347.9,354.7L344.9,350.4L344.8,355.6ZM346.3,355.2L344.0,353.3L343.1,356.1ZM343.5,356.0L340.9,351.6L340.4,356.7ZM343.0,356.1L340.3,351.4L339.8,356.8ZM342.5,356.2L340.1,353.3L339.3,356.9ZM339.1,356.9L337.1,354.6L335.9,357.5ZM336.9,357.3L334.8,353.6L333.7,357.8ZM336.4,357.4L334.2,352.9L333.1,357.8ZM331.9,357.9L329.9,352.7L328.6,358.1ZM331.3,358.0L329.4,353.2L328.1,358.2ZM330.8,358.0L328.8,350.6L327.5,358.2ZM329.6,358.1L327.9,353.3L326.4,358.2ZM329.1,358.1L327.3,354.1L325.8,358.2ZM327.4,358.2L325.8,355.2L324.1,358.2ZM326.8,358.2L325.2,351.7L323.6,358.2ZM325.7,358.2L324.2,352.8L322.4,358.1ZM324.6,358.2L323.1,354.5L321.3,358.1ZM324.0,358.2L322.5,355.1L320.7,358.0ZM323.4,358.2L322.1,351.9L320.2,358.0ZM322.9,358.1L321.4,355.3L319.6,357.9ZM322.3,358.1L320.9,354.5L319.1,357.9ZM321.7,358.1L320.5,353.4L318.5,357.8ZM315.6,357.5L314.5,353.9L312.4,356.9ZM315.0,357.4L313.8,354.6L311.8,356.8ZM314.5,357.3L313.5,353.6L311.3,356.7ZM313.9,357.2L313.3,351.8L310.7,356.6ZM311.7,356.8L310.9,352.7L308.5,356.1ZM311.1,356.7L311.4,348.2L308.0,356.0ZM310.6,356.6L309.9,352.3L307.4,355.8ZM310.0,356.5L309.3,352.6L306.9,355.7ZM309.5,356.3L310.3,346.6L306.3,355.5ZM308.9,356.2L309.0,349.7L305.8,355.4ZM308.4,356.1L309.9,344.5L305.2,355.2ZM307.8,355.9L308.1,348.8L304.7,355.0ZM307.3,355.8L306.8,351.7L304.2,354.9ZM305.1,355.2L305.9,347.4L302.0,354.2ZM304.6,355.0L305.1,348.3L301.5,354.0ZM304.0,354.8L304.6,348.2L301.0,353.8ZM303.5,354.7L303.6,349.4L300.4,353.6ZM303.0,354.5L302.3,351.7L299.9,353.4ZM301.4,353.9L302.2,347.4L298.3,352.8ZM300.8,353.7L300.5,350.3L297.8,352.5ZM300.3,353.5L300.0,350.1L297.3,352.3ZM298.7,352.9L298.8,348.7L295.7,351.6ZM297.7,352.5L297.6,348.8L294.7,351.2ZM296.7,352.0L296.8,348.0L293.7,350.7ZM296.1,351.8L296.1,348.2L293.2,350.4ZM295.6,351.6L295.5,348.2L292.7,350.1ZM295.1,351.3L294.9,348.1L292.2,349.9ZM294.6,351.1L294.8,347.1L291.7,349.6ZM294.1,350.9L295.7,344.2L291.2,349.3ZM293.6,350.6L293.8,346.7L290.7,349.1ZM292.1,349.8L293.5,344.0L289.3,348.2ZM291.6,349.6L291.8,346.0L288.8,347.9ZM289.1,348.2L290.4,343.0L286.4,346.4ZM288.7,347.9L290.8,341.4L285.9,346.1ZM288.2,347.6L293.6,336.2L285.4,345.8ZM287.7,347.3L292.4,337.1L285.0,345.5ZM287.2,347.0L291.2,338.2L284.5,345.2ZM286.8,346.7L290.7,337.9L284.1,344.9ZM286.3,346.4L289.5,338.9L283.6,344.5ZM283.5,344.5L285.2,339.6L280.9,342.5ZM283.0,344.1L283.4,341.0L280.5,342.1ZM282.6,343.8L284.0,339.4L280.0,341.8ZM281.7,343.1L282.8,339.2L279.2,341.0ZM281.2,342.7L282.6,338.5L278.7,340.7ZM280.8,342.4L283.6,336.6L278.3,340.3ZM280.4,342.0L281.7,338.0L277.9,339.9ZM279.9,341.7L282.0,336.8L277.5,339.5ZM279.5,341.3L280.7,337.5L277.1,339.2ZM279.1,341.0L280.3,337.1L276.6,338.8ZM278.6,340.6L280.2,336.4L276.2,338.4ZM277.0,339.1L278.3,335.4L274.6,336.8ZM276.6,338.7L278.9,334.0L274.2,336.4ZM276.1,338.3L277.1,335.0L273.8,336.0ZM274.9,337.1L276.3,333.6L272.7,334.8ZM274.5,336.7L276.5,332.7L272.3,334.4ZM274.1,336.3L276.9,331.5L271.9,333.9ZM273.8,335.9L276.8,331.0L271.6,333.5ZM273.4,335.5L275.4,331.5L271.2,333.1ZM272.2,334.3L273.4,331.1L270.1,331.8ZM271.9,333.8L275.2,328.9L269.8,331.3ZM271.5,333.4L273.1,329.9L269.4,330.9ZM271.1,333.0L272.4,329.8L269.1,330.5ZM270.7,332.6L274.5,327.4L268.7,330.0ZM270.4,332.1L275.6,325.9L268.4,329.6ZM270.0,331.7L273.3,327.1L268.0,329.1ZM268.6,329.9L269.8,327.1L266.7,327.3ZM267.3,328.1L268.9,325.0L265.5,325.4ZM267.0,327.6L269.8,323.8L265.2,324.9ZM265.1,324.8L266.7,322.0L263.4,322.0ZM264.8,324.3L268.7,320.2L263.1,321.5ZM264.5,323.9L268.4,319.7L262.9,321.0ZM262.3,319.9L263.7,317.4L260.8,317.0ZM261.5,318.4L265.2,314.9L260.1,315.5ZM261.2,317.9L264.1,314.8L259.9,315.0ZM261.0,317.4L264.1,314.2L259.7,314.5ZM260.5,316.4L263.2,313.5L259.2,313.4ZM260.3,315.9L264.2,312.5L259.0,312.9ZM260.1,315.4L263.3,312.3L258.8,312.4ZM258.4,311.2L262.0,308.2L257.3,308.1ZM257.8,309.6L260.0,307.2L256.8,306.5ZM256.9,306.9L259.4,304.5L256.1,303.8ZM256.3,304.7L268.1,300.2L255.6,301.6ZM256.2,304.2L264.1,300.7L255.5,301.0ZM256.1,303.6L261.2,300.8L255.3,300.5ZM255.9,303.1L263.2,299.9L255.2,299.9ZM255.5,301.5L258.2,299.3L254.9,298.3ZM255.4,300.9L258.3,298.7L254.8,297.7ZM255.3,300.3L259.2,298.0L254.8,297.1ZM255.2,299.8L259.6,297.4L254.7,296.6ZM255.1,299.2L258.0,297.1L254.6,296.0ZM254.9,298.1L257.9,296.1L254.5,294.9ZM254.8,297.6L257.5,295.6L254.4,294.3ZM254.7,297.0L259.8,294.7L254.3,293.8ZM254.7,296.5L257.1,294.5L254.3,293.2ZM254.6,295.9L258.3,293.8L254.2,292.7ZM254.5,295.3L257.0,293.4L254.2,292.1ZM254.4,294.8L258.5,292.8L254.1,291.5ZM254.4,294.2L258.4,292.2L254.1,291.0ZM254.3,293.7L257.0,291.8L254.1,290.4ZM254.3,293.1L259.0,291.1L254.0,289.8ZM254.1,290.8L257.7,289.1L254.0,287.6ZM254.0,288.6L259.7,286.9L254.0,285.3ZM254.0,288.0L260.3,286.4L254.0,284.8ZM254.0,286.9L258.5,285.3L254.0,283.6ZM254.0,286.3L263.8,284.9L254.0,283.1ZM254.0,285.8L266.3,284.5L254.1,282.5ZM254.0,285.2L265.1,284.0L254.1,282.0ZM254.0,284.6L260.2,283.3L254.1,281.4ZM254.0,284.1L261.4,282.9L254.2,280.8ZM254.0,283.5L258.5,282.2L254.2,280.3ZM254.2,280.1L256.8,278.8L254.6,276.9ZM254.4,278.5L257.5,277.2L254.8,275.2ZM254.5,277.9L258.0,276.8L254.9,274.7ZM254.5,277.3L257.7,276.2L255.0,274.1ZM254.8,275.7L258.8,274.7L255.3,272.5ZM254.8,275.1L259.0,274.2L255.4,271.9ZM254.9,274.5L259.7,273.8L255.5,271.3ZM255.5,271.8L261.4,271.5L256.2,268.6ZM255.6,271.2L258.9,270.3L256.3,268.1ZM255.9,269.6L260.6,269.1L256.8,266.4ZM256.1,269.0L259.5,268.3L256.9,265.9ZM256.2,268.5L260.5,268.0L257.1,265.3ZM256.4,267.9L261.1,267.6L257.3,264.8ZM256.5,267.4L259.5,266.6L257.4,264.3ZM256.8,266.3L261.0,265.9L257.8,263.2ZM257.0,265.8L263.5,266.2L258.0,262.7ZM257.1,265.2L266.1,266.5L258.2,262.1ZM257.3,264.7L263.9,265.2L258.4,261.6ZM257.8,263.1L264.7,263.9L259.0,260.0ZM258.0,262.6L264.7,263.3L259.2,259.5ZM258.2,262.0L262.0,261.8L259.4,259.0ZM259.2,259.4L265.3,260.2L260.5,256.4ZM259.4,258.9L265.9,260.0L260.8,255.9ZM259.7,258.3L265.8,259.3L261.0,255.4ZM259.9,257.8L268.1,259.8L261.2,254.9ZM260.1,257.3L265.0,257.8L261.5,254.4ZM260.3,256.8L266.0,257.7L261.7,253.9ZM261.8,253.7L268.6,255.6L263.4,250.9ZM262.1,253.2L266.7,253.9L263.6,250.4ZM262.6,252.3L267.0,252.9L264.2,249.4ZM263.7,250.3L266.8,250.3L265.4,247.5ZM264.0,249.8L269.0,251.0L265.7,247.0ZM264.6,248.8L268.2,249.3L266.3,246.1ZM265.2,247.9L268.4,248.1L267.0,245.2ZM265.8,246.9L269.8,247.7L267.6,244.2ZM266.1,246.5L270.1,247.3L268.0,243.8ZM268.0,243.7L271.2,244.1L270.0,241.1ZM268.7,242.8L272.3,243.6L270.7,240.2ZM270.5,240.6L274.4,241.8L272.6,238.1ZM271.2,239.7L275.4,241.3L273.4,237.3ZM273.8,236.8L277.9,238.6L276.1,234.5ZM274.2,236.4L278.1,238.0L276.6,234.1ZM275.8,234.8L279.0,235.8L278.2,232.6ZM276.2,234.4L281.4,237.6L278.6,232.2ZM276.6,234.0L281.1,236.6L279.1,231.8ZM277.1,233.6L280.1,234.7L279.5,231.5ZM277.9,232.9L280.8,233.8L280.4,230.8ZM278.3,232.5L283.8,236.5L280.8,230.4ZM280.9,230.3L284.1,231.9L283.5,228.3ZM282.2,229.3L286.0,231.7L284.9,227.4ZM282.7,228.9L286.1,230.9L285.3,227.1ZM283.1,228.6L286.9,231.2L285.8,226.7ZM285.0,227.3L288.8,230.1L287.7,225.5ZM285.4,227.0L288.5,228.8L288.2,225.2ZM285.9,226.7L289.0,228.6L288.7,224.9ZM286.4,226.4L290.8,230.4L289.1,224.6ZM287.3,225.7L290.4,227.7L290.1,224.1ZM288.3,225.1L292.0,228.2L291.1,223.5ZM289.3,224.6L292.9,227.8L292.1,223.0ZM290.2,224.0L294.2,228.0L293.1,222.5ZM291.2,223.5L293.8,224.9L294.1,221.9ZM291.7,223.2L295.6,227.3L294.6,221.7ZM292.2,222.9L295.6,226.0L295.1,221.5ZM292.7,222.7L295.3,224.3L295.6,221.2ZM293.2,222.4L297.0,226.5L296.1,221.0ZM293.7,222.1L297.5,226.5L296.7,220.8ZM294.2,221.9L296.9,223.9L297.2,220.5ZM294.7,221.6L297.6,224.1L297.7,220.3ZM295.2,221.4L301.8,232.2L298.2,220.1ZM295.7,221.2L301.9,231.2L298.7,219.9ZM296.3,220.9L299.5,224.5L299.3,219.7ZM297.8,220.3L300.6,222.9L300.8,219.1ZM301.5,218.8L304.0,221.2L304.6,217.8ZM303.1,218.3L306.2,222.8L306.2,217.3ZM303.6,218.1L306.8,223.2L306.7,217.2ZM304.2,217.9L306.6,220.4L307.3,217.0ZM304.7,217.8L306.9,219.7L307.8,216.9ZM308.0,216.8L310.2,219.3L311.1,216.1ZM312.4,215.9L314.5,219.0L315.6,215.3ZM312.9,215.8L315.0,218.6L316.1,215.2ZM315.1,215.4L317.6,221.9L318.4,215.0ZM315.7,215.3L318.0,220.8L318.9,214.9ZM316.3,215.2L318.4,220.3L319.5,214.9ZM316.8,215.2L318.8,218.5L320.1,214.8ZM319.1,214.9L320.9,218.0L322.3,214.7ZM319.6,214.9L321.6,219.8L322.9,214.7ZM320.2,214.8L322.0,218.7L323.4,214.6ZM320.7,214.8L322.6,218.7L324.0,214.6ZM322.4,214.7L324.1,217.5L325.7,214.6Z" fill="#eeb0ee" fill-opacity="0.5"/>
<path d="M324.9,214.6L325.8,217.9L326.6,214.6ZM325.4,214.6L326.3,216.1L327.2,214.6ZM326.6,214.6L327.4,216.0L328.3,214.6ZM327.1,214.6L327.9,218.1L328.9,214.7ZM327.7,214.6L328.5,217.0L329.4,214.7ZM329.4,214.7L330.1,217.1L331.1,214.8ZM329.9,214.7L330.5,218.7L331.7,214.8ZM330.5,214.8L331.3,216.0L332.3,214.9ZM335.0,215.2L335.5,218.1L336.7,215.4ZM335.6,215.3L335.4,222.2L337.3,215.5ZM336.1,215.4L336.4,218.9L337.8,215.6ZM336.7,215.4L337.3,217.1L338.4,215.7ZM337.2,215.5L337.6,218.6L339.0,215.8ZM337.8,215.6L338.2,218.0L339.5,215.9ZM340.6,216.1L340.1,222.2L342.3,216.5ZM341.7,216.4L341.4,221.3L343.4,216.8ZM342.2,216.5L342.3,219.6L343.9,216.9ZM342.8,216.6L342.5,221.3L344.5,217.1ZM343.3,216.8L343.5,219.5L345.0,217.2ZM343.8,216.9L343.9,220.2L345.5,217.4ZM344.4,217.1L344.8,218.9L346.1,217.5ZM346.6,217.7L346.7,220.2L348.2,218.2ZM347.1,217.8L347.3,220.2L348.8,218.4ZM349.8,218.7L349.7,221.5L351.4,219.3ZM350.8,219.1L350.8,221.7L352.5,219.8ZM354.0,220.4L354.2,222.0L355.6,221.1ZM357.1,221.8L357.0,223.9L358.6,222.6ZM362.0,224.4L361.7,226.7L363.5,225.3ZM362.5,224.7L361.0,228.9L364.0,225.6ZM363.0,225.0L361.6,228.9L364.5,225.9ZM368.2,228.5L367.2,231.2L369.6,229.5ZM370.4,230.2L369.7,232.4L371.8,231.3ZM373.0,232.3L372.2,234.5L374.3,233.5ZM373.4,232.7L372.9,234.6L374.7,233.9ZM375.9,235.0L375.6,236.5L377.1,236.3ZM377.5,236.6L375.2,239.9L378.7,237.9ZM377.9,237.0L375.6,240.3L379.1,238.3ZM378.3,237.4L377.3,239.5L379.4,238.7ZM379.4,238.7L378.8,240.4L380.6,240.0ZM379.8,239.1L379.3,240.7L380.9,240.4ZM380.9,240.4L377.5,244.3L382.0,241.8ZM381.2,240.8L380.5,242.5L382.3,242.2ZM382.3,242.1L381.8,243.6L383.4,243.5ZM382.6,242.6L381.6,244.4L383.7,244.0ZM385.6,246.7L384.6,248.4L386.5,248.2ZM387.1,249.1L384.5,251.7L388.0,250.6ZM387.4,249.6L384.8,252.1L388.3,251.1ZM387.7,250.1L385.3,252.4L388.5,251.6ZM388.0,250.6L385.5,252.9L388.8,252.1ZM388.5,251.5L387.2,253.3L389.4,253.1ZM389.3,253.0L388.1,254.6L390.1,254.6ZM390.3,255.0L389.6,256.3L391.1,256.6ZM390.6,255.5L388.9,257.3L391.3,257.1ZM390.8,256.1L383.8,260.2L391.5,257.7ZM391.7,258.1L390.4,259.6L392.4,259.7ZM392.0,258.6L387.4,261.4L392.6,260.3ZM392.2,259.2L390.3,260.8L392.8,260.8ZM393.0,261.3L391.8,262.6L393.6,262.9ZM393.2,261.8L388.3,264.4L393.8,263.4ZM393.8,263.4L390.5,265.3L394.3,265.0ZM393.9,263.9L392.3,265.4L394.5,265.6ZM394.1,264.5L390.3,266.5L394.6,266.1ZM394.9,267.2L390.9,269.1L395.4,268.8ZM395.1,267.7L392.5,269.3L395.5,269.4ZM395.2,268.2L391.0,270.2L395.6,269.9ZM395.4,268.8L393.9,270.0L395.8,270.5ZM395.5,269.3L390.8,271.3L395.9,271.0ZM395.6,269.9L391.5,271.7L396.0,271.6ZM396.0,271.5L394.4,272.7L396.3,273.3ZM396.1,272.1L392.3,273.7L396.4,273.8ZM396.4,273.7L394.4,275.0L396.7,275.5ZM396.5,274.3L393.9,275.6L396.8,276.0ZM396.6,274.9L393.7,276.2L396.9,276.6ZM396.7,275.4L392.8,276.9L397.0,277.2ZM396.8,276.0L393.3,277.3L397.0,277.7ZM397.2,279.3L393.5,280.5L397.4,281.1ZM397.3,279.9L394.4,281.0L397.4,281.6ZM397.3,280.5L390.2,281.8L397.4,282.2ZM397.3,281.0L387.4,282.5L397.5,282.8ZM397.4,281.6L394.4,282.6L397.5,283.3ZM397.5,284.4L395.4,285.3L397.5,286.1ZM397.5,285.0L396.3,285.8L397.5,286.7ZM397.5,285.5L394.9,286.4L397.5,287.3ZM397.5,286.1L391.8,286.9L397.5,287.8ZM397.5,286.7L389.2,287.4L397.5,288.4ZM397.5,287.2L389.4,287.9L397.5,289.0ZM397.5,287.8L393.7,288.5L397.5,289.5ZM397.5,288.3L395.6,289.1L397.5,290.1ZM397.5,288.9L395.2,289.7L397.4,290.7ZM397.4,291.7L395.9,292.5L397.2,293.5ZM397.3,292.3L392.7,292.7L397.1,294.0ZM397.3,292.8L395.7,293.6L397.1,294.6ZM397.2,293.4L394.7,294.0L397.0,295.2ZM396.9,296.2L393.1,296.5L396.6,297.9ZM396.7,297.3L394.3,297.8L396.4,299.1ZM396.6,297.9L393.6,298.2L396.3,299.6ZM396.5,298.4L393.7,298.8L396.2,300.2ZM396.1,300.7L391.6,300.6L395.8,302.4ZM396.0,301.2L391.0,301.0L395.6,302.9ZM395.9,301.8L386.0,300.4L395.5,303.5ZM395.8,302.3L388.6,301.5L395.4,304.0ZM395.6,302.9L394.2,303.4L395.2,304.6ZM395.5,303.4L390.6,303.1L395.1,305.1ZM395.4,304.0L393.5,304.4L394.9,305.6ZM394.9,305.6L392.1,305.7L394.4,307.3ZM394.8,306.1L389.5,305.5L394.3,307.8ZM394.6,306.7L388.8,305.8L394.1,308.3ZM393.4,310.4L391.9,310.8L392.8,312.1ZM393.2,311.0L391.2,311.1L392.6,312.6ZM393.0,311.5L389.4,311.0L392.4,313.1ZM392.8,312.0L389.4,311.6L392.2,313.6ZM391.3,315.7L389.1,315.6L390.6,317.3ZM391.1,316.2L389.6,316.4L390.3,317.8ZM390.6,317.2L388.2,317.0L389.8,318.8ZM390.4,317.7L387.3,317.1L389.6,319.3ZM390.1,318.2L386.4,317.3L389.3,319.8ZM389.9,318.7L385.8,317.6L389.1,320.3ZM389.4,319.7L384.5,318.1L388.5,321.3ZM389.1,320.2L385.7,319.4L388.2,321.8ZM388.8,320.7L385.6,319.9L388.0,322.2ZM388.5,321.2L385.4,320.4L387.7,322.7ZM388.3,321.7L386.2,321.5L387.4,323.2ZM387.1,323.6L384.8,323.2L386.2,325.1ZM386.8,324.1L384.8,323.9L385.9,325.6ZM386.2,325.1L384.7,325.1L385.3,326.6ZM385.9,325.6L382.8,324.5L385.0,327.0ZM385.6,326.0L381.7,324.4L384.6,327.5ZM385.3,326.5L381.2,324.7L384.3,327.9ZM385.0,327.0L380.4,324.8L384.0,328.4ZM384.0,328.3L382.4,328.3L383.0,329.8ZM383.4,329.3L381.8,329.2L382.3,330.7ZM382.3,330.6L377.3,327.7L381.2,332.0ZM382.0,331.0L373.7,325.4L380.9,332.4ZM381.6,331.5L373.4,325.8L380.5,332.8ZM380.6,332.8L376.9,330.8L379.4,334.1ZM379.8,333.6L378.2,333.4L378.6,335.0ZM379.4,334.1L376.8,332.9L378.3,335.4ZM379.1,334.5L375.8,332.7L377.9,335.8ZM378.7,334.9L375.8,333.4L377.5,336.2ZM378.3,335.3L373.0,331.5L377.1,336.6ZM377.9,335.7L373.5,332.7L376.7,337.0ZM377.5,336.1L373.5,333.4L376.3,337.4ZM377.1,336.5L375.1,335.8L375.9,337.8ZM375.5,338.1L372.8,336.5L374.3,339.3ZM375.1,338.5L372.6,337.1L373.8,339.7ZM374.7,338.9L371.7,336.9L373.4,340.1ZM373.5,340.1L371.8,339.5L372.1,341.2ZM372.2,341.2L369.5,339.2L370.8,342.3ZM371.8,341.5L369.2,339.7L370.4,342.6ZM371.3,341.9L369.1,340.5L370.0,343.0ZM370.9,342.2L369.1,341.4L369.5,343.3ZM370.4,342.6L369.0,342.2L369.1,343.7ZM370.0,342.9L368.2,342.1L368.6,344.0ZM369.1,343.6L367.1,342.4L367.7,344.7ZM368.7,344.0L366.1,341.9L367.2,345.0ZM366.8,345.3L364.3,343.1L365.4,346.3ZM366.4,345.6L364.3,344.1L364.9,346.6ZM365.4,346.2L363.1,344.2L364.0,347.2ZM364.5,346.9L363.0,346.1L363.0,347.8ZM361.1,348.9L359.7,348.2L359.6,349.7ZM360.6,349.2L358.5,347.1L359.1,350.0ZM359.6,349.7L357.6,347.7L358.1,350.5ZM359.1,350.0L357.2,348.1L357.6,350.8ZM357.6,350.7L355.5,348.3L356.0,351.5ZM355.1,351.9L353.5,350.5L353.5,352.6ZM354.6,352.2L352.8,350.2L352.9,352.9ZM354.0,352.4L351.0,347.2L352.4,353.1ZM353.5,352.6L351.0,348.7L351.9,353.3ZM353.0,352.8L350.8,349.8L351.4,353.5ZM352.5,353.0L350.6,350.5L350.8,353.7ZM350.9,353.7L347.5,346.7L349.2,354.2ZM349.8,354.0L347.3,349.5L348.2,354.6ZM349.3,354.2L347.0,350.0L347.6,354.8ZM348.8,354.4L346.9,351.6L347.1,355.0ZM348.2,354.6L346.4,351.8L346.6,355.1ZM347.7,354.8L345.3,350.1L346.0,355.3ZM347.2,354.9L345.3,351.9L345.5,355.4ZM345.5,355.4L344.4,354.4L343.8,355.9ZM342.8,356.1L341.2,353.0L341.1,356.5ZM342.3,356.3L340.6,352.9L340.6,356.7ZM341.7,356.4L340.4,354.6L340.0,356.8ZM338.4,357.1L337.3,355.8L336.7,357.4ZM336.2,357.4L335.0,355.0L334.4,357.7ZM335.6,357.5L334.3,354.4L333.9,357.7ZM331.1,358.0L330.0,354.3L329.4,358.1ZM330.6,358.0L329.5,354.7L328.8,358.1ZM330.0,358.1L328.9,352.5L328.3,358.2ZM328.9,358.1L327.9,354.8L327.1,358.2ZM328.3,358.2L327.4,355.5L326.6,358.2ZM326.6,358.2L325.8,356.5L324.9,358.2ZM326.1,358.2L325.2,353.4L324.3,358.2ZM324.9,358.2L324.1,354.4L323.2,358.2ZM323.8,358.2L323.0,355.9L322.1,358.1ZM323.2,358.2L322.5,356.3L321.5,358.1ZM322.7,358.1L322.1,353.6L320.9,358.0ZM322.1,358.1L321.3,356.6L320.4,358.0ZM321.6,358.1L320.8,355.9L319.8,358.0ZM321.0,358.0L320.4,354.8L319.2,357.9ZM314.8,357.4L314.3,355.2L313.1,357.1ZM314.3,357.3L313.6,355.8L312.5,357.0ZM313.7,357.2L313.2,354.9L312.0,356.9ZM313.2,357.1L313.0,353.3L311.4,356.8ZM310.9,356.7L310.6,354.0L309.2,356.3ZM310.4,356.5L311.0,350.1L308.7,356.1ZM309.8,356.4L309.6,353.6L308.1,356.0ZM309.3,356.3L309.0,353.9L307.6,355.9ZM308.7,356.2L309.8,348.6L307.0,355.7ZM308.2,356.0L308.5,351.4L306.5,355.6ZM307.7,355.9L309.2,346.8L306.0,355.4ZM307.1,355.7L307.7,350.5L305.4,355.3ZM306.6,355.6L306.4,353.0L304.9,355.1ZM304.4,355.0L305.3,349.2L302.7,354.4ZM303.9,354.8L304.5,350.0L302.2,354.2ZM303.3,354.6L304.0,349.8L301.7,354.0ZM302.8,354.4L303.1,350.8L301.1,353.8ZM302.3,354.2L301.9,352.8L300.6,353.7ZM300.7,353.7L301.5,349.0L299.0,353.0ZM300.1,353.5L300.0,351.5L298.5,352.8ZM299.6,353.3L299.5,351.3L298.0,352.6ZM298.0,352.6L298.2,350.0L296.4,351.9ZM297.0,352.2L297.0,350.0L295.4,351.5ZM296.0,351.7L296.2,349.2L294.4,351.0ZM295.5,351.5L295.5,349.4L293.9,350.7ZM295.0,351.3L294.9,349.3L293.4,350.5ZM294.4,351.0L294.4,349.2L292.9,350.2ZM293.9,350.8L294.2,348.3L292.4,350.0ZM293.4,350.5L294.9,345.8L291.9,349.7ZM292.9,350.3L293.2,347.9L291.4,349.4ZM291.4,349.5L292.7,345.4L289.9,348.6ZM290.9,349.2L291.1,347.1L289.4,348.3ZM288.5,347.8L289.6,344.3L287.0,346.9ZM288.0,347.5L289.9,342.9L286.5,346.5ZM287.5,347.2L292.2,338.3L286.1,346.2ZM287.1,346.9L291.1,339.1L285.6,345.9ZM286.6,346.6L290.0,339.9L285.1,345.6ZM286.1,346.3L289.6,339.7L284.7,345.3ZM285.7,346.0L288.4,340.5L284.2,345.0ZM282.9,344.0L284.3,340.8L281.5,342.9ZM282.4,343.7L282.7,341.9L281.1,342.6ZM282.0,343.3L283.1,340.5L280.6,342.2ZM281.1,342.6L281.9,340.2L279.7,341.5ZM280.7,342.3L281.7,339.6L279.3,341.2ZM280.2,341.9L282.5,337.9L278.9,340.8ZM279.8,341.6L280.8,339.1L278.5,340.4ZM279.4,341.2L281.0,338.0L278.0,340.1ZM278.9,340.8L279.8,338.5L277.6,339.7ZM278.5,340.5L279.4,338.1L277.2,339.3ZM278.1,340.1L279.3,337.5L276.8,338.9ZM276.4,338.6L277.4,336.3L275.2,337.3ZM276.0,338.2L277.8,335.1L274.8,336.9ZM275.6,337.8L276.2,335.9L274.4,336.5ZM274.4,336.6L275.3,334.5L273.2,335.3ZM274.0,336.2L275.4,333.6L272.8,334.9ZM273.6,335.8L275.8,332.6L272.4,334.5ZM273.2,335.4L275.6,332.0L272.1,334.1ZM272.9,335.0L274.3,332.4L271.7,333.6ZM271.7,333.7L272.5,331.9L270.6,332.4ZM271.4,333.3L274.0,329.9L270.2,331.9ZM271.0,332.8L272.1,330.8L269.9,331.5ZM270.6,332.4L271.5,330.6L269.5,331.0ZM270.3,332.0L273.2,328.5L269.2,330.6ZM269.9,331.5L274.1,327.1L268.8,330.2ZM269.6,331.1L272.0,328.1L268.5,329.7ZM268.2,329.3L268.8,327.8L267.2,327.9ZM266.9,327.5L267.9,325.7L265.9,326.0ZM266.5,327.0L268.6,324.6L265.6,325.6ZM264.7,324.2L265.6,322.6L263.8,322.7ZM264.4,323.7L267.3,321.0L263.5,322.2ZM264.1,323.2L267.1,320.5L263.2,321.7ZM261.9,319.3L262.6,317.9L261.1,317.7ZM261.2,317.8L263.8,315.5L260.4,316.2ZM260.9,317.3L262.9,315.4L260.2,315.7ZM260.7,316.7L262.8,314.8L260.0,315.1ZM260.2,315.7L261.9,314.0L259.5,314.1ZM260.0,315.2L262.8,313.0L259.3,313.6ZM259.8,314.7L262.0,312.8L259.1,313.1ZM258.1,310.5L260.7,308.7L257.5,308.8ZM257.6,308.9L258.8,307.6L257.0,307.2ZM256.7,306.2L258.2,304.9L256.3,304.5ZM256.1,304.0L265.7,300.8L255.7,302.3ZM256.0,303.5L262.1,301.1L255.6,301.8ZM255.9,302.9L259.6,301.2L255.5,301.2ZM255.7,302.4L261.3,300.3L255.4,300.7ZM255.4,300.7L256.9,299.5L255.1,299.0ZM255.3,300.2L257.0,299.0L255.0,298.4ZM255.2,299.6L257.8,298.3L254.9,297.9ZM255.1,299.1L258.1,297.7L254.8,297.3ZM255.0,298.5L256.8,297.3L254.7,296.8ZM254.8,297.4L256.6,296.2L254.5,295.6ZM254.7,296.8L256.3,295.7L254.5,295.1ZM254.6,296.3L258.2,294.9L254.4,294.5ZM254.6,295.7L255.9,294.7L254.3,294.0ZM254.5,295.2L257.0,294.0L254.3,293.4ZM254.4,294.6L255.8,293.6L254.2,292.8ZM254.4,294.0L257.1,292.9L254.2,292.3ZM254.3,293.5L257.0,292.4L254.1,291.7ZM254.2,292.9L255.7,291.9L254.1,291.2ZM254.2,292.3L257.5,291.2L254.1,290.6ZM254.0,290.1L256.4,289.1L254.0,288.3ZM254.0,287.8L258.1,286.9L254.0,286.1ZM254.0,287.3L258.6,286.4L254.0,285.5ZM254.0,286.1L257.0,285.3L254.0,284.4ZM254.0,285.6L261.6,284.9L254.0,283.8ZM254.0,285.0L263.8,284.5L254.0,283.3ZM254.0,284.5L262.8,283.9L254.0,282.7ZM254.0,283.9L258.5,283.2L254.1,282.1ZM254.0,283.3L259.6,282.8L254.1,281.6ZM254.0,282.8L257.0,282.1L254.2,281.0ZM254.3,279.4L255.6,278.7L254.5,277.6ZM254.5,277.7L256.2,277.1L254.7,276.0ZM254.5,277.2L256.7,276.6L254.8,275.4ZM254.6,276.6L256.5,276.0L254.9,274.9ZM254.9,274.9L257.5,274.5L255.2,273.2ZM255.0,274.4L257.6,274.0L255.3,272.6ZM255.1,273.8L258.3,273.5L255.4,272.1ZM255.6,271.0L259.8,271.1L256.0,269.3ZM255.7,270.5L257.6,270.0L256.1,268.8ZM256.1,268.8L259.2,268.8L256.6,267.2ZM256.3,268.3L258.3,267.9L256.7,266.6ZM256.4,267.8L259.2,267.6L256.9,266.1ZM256.6,267.2L259.7,267.2L257.1,265.5ZM256.7,266.7L258.3,266.2L257.2,265.0ZM257.0,265.6L259.7,265.5L257.6,263.9ZM257.2,265.0L261.9,265.6L257.7,263.4ZM257.4,264.5L264.2,265.9L257.9,262.8ZM257.5,264.0L262.3,264.7L258.1,262.3ZM258.1,262.4L263.0,263.3L258.7,260.7ZM258.3,261.8L263.1,262.7L258.9,260.2ZM258.5,261.3L260.8,261.3L259.1,259.7ZM259.5,258.7L263.8,259.6L260.2,257.1ZM259.7,258.2L264.4,259.3L260.4,256.6ZM260.0,257.7L264.3,258.7L260.7,256.1ZM260.2,257.1L266.3,259.0L260.9,255.5ZM260.4,256.6L263.7,257.2L261.2,255.0ZM260.7,256.1L264.6,257.0L261.4,254.5ZM262.1,253.1L267.1,254.7L263.0,251.5ZM262.4,252.6L265.4,253.2L263.3,251.0ZM263.0,251.6L265.8,252.2L263.8,250.1ZM264.1,249.6L265.8,249.6L265.0,248.1ZM264.4,249.2L267.7,250.2L265.3,247.7ZM265.0,248.2L267.1,248.6L265.9,246.7ZM265.6,247.2L267.4,247.4L266.5,245.8ZM266.2,246.3L268.7,247.0L267.2,244.9ZM266.5,245.8L269.0,246.5L267.5,244.4ZM268.5,243.1L270.2,243.3L269.6,241.7ZM269.2,242.2L271.3,242.8L270.3,240.8ZM270.9,240.0L273.4,240.9L272.1,238.7ZM271.7,239.2L274.3,240.4L272.9,237.8ZM274.4,236.3L276.9,237.6L275.6,235.0ZM274.8,235.9L277.1,237.0L276.0,234.6ZM276.4,234.3L278.1,234.9L277.7,233.1ZM276.8,233.9L280.3,236.4L278.1,232.7ZM277.2,233.5L280.1,235.5L278.5,232.3ZM277.6,233.1L279.3,233.7L278.9,232.0ZM278.5,232.4L280.0,232.9L279.8,231.2ZM278.9,232.0L282.7,235.2L280.2,230.9ZM281.5,229.9L283.3,230.8L282.9,228.8ZM282.8,228.8L285.1,230.5L284.3,227.8ZM283.3,228.5L285.3,229.8L284.7,227.5ZM283.8,228.2L286.1,230.0L285.2,227.2ZM285.6,226.9L288.0,228.9L287.1,225.9ZM286.1,226.6L287.8,227.7L287.5,225.6ZM286.5,226.3L288.4,227.5L288.0,225.3ZM287.0,225.9L290.0,229.0L288.5,225.0ZM288.0,225.3L289.8,226.6L289.5,224.4ZM288.9,224.8L291.2,227.0L290.4,223.9ZM289.9,224.2L292.2,226.5L291.4,223.3ZM290.9,223.6L293.5,226.6L292.4,222.8ZM291.9,223.1L293.3,223.9L293.4,222.3ZM292.4,222.8L294.9,225.9L293.9,222.0ZM292.9,222.6L294.9,224.7L294.4,221.8ZM293.4,222.3L294.8,223.2L295.0,221.5ZM293.9,222.1L296.3,225.1L295.5,221.3ZM294.4,221.8L296.9,225.0L296.0,221.1ZM294.9,221.6L296.4,222.8L296.5,220.8ZM295.4,221.3L297.1,222.9L297.0,220.6ZM295.9,221.1L300.8,229.9L297.5,220.4ZM296.4,220.9L300.9,229.0L298.0,220.2ZM296.9,220.6L299.0,223.1L298.6,219.9ZM298.5,220.0L300.1,221.7L300.1,219.3ZM302.2,218.6L303.6,220.0L303.9,218.0ZM303.8,218.0L305.7,221.4L305.5,217.5ZM304.3,217.9L306.4,221.6L306.0,217.4ZM304.9,217.7L306.2,219.1L306.6,217.2ZM305.4,217.5L306.6,218.5L307.1,217.1ZM308.7,216.7L309.9,218.1L310.4,216.3ZM313.1,215.7L314.3,217.7L314.8,215.4ZM313.7,215.6L314.8,217.3L315.4,215.4ZM315.9,215.3L317.4,220.2L317.6,215.1ZM316.4,215.2L317.8,219.2L318.2,215.0ZM317.0,215.1L318.3,218.7L318.7,214.9ZM317.6,215.1L318.7,217.2L319.3,214.9ZM319.8,214.8L320.8,216.7L321.6,214.7ZM320.4,214.8L321.5,218.3L322.1,214.7ZM320.9,214.8L321.9,217.3L322.7,214.7ZM321.5,214.7L322.5,217.3L323.2,214.6ZM323.2,214.6L324.1,216.3L324.9,214.6Z" fill="#800a96" fill-opacity="0.9"/>
<path d="M326.9,214.0A72.4,72.4 0 0 1 327.5,214.0L327.5,214.9A71.5,71.5 0 0 0 326.9,214.9ZM329.7,213.8A72.7,72.7 0 0 1 330.4,213.9L330.3,215.0A71.5,71.5 0 0 0 329.7,215.0ZM332.0,214.7A72.0,72.0 0 0 1 332.6,214.8L332.5,215.2A71.5,71.5 0 0 0 331.9,215.2ZM332.6,213.5A73.2,73.2 0 0 1 333.3,213.5L333.1,215.3A71.5,71.5 0 0 0 332.5,215.2ZM333.2,213.5A73.3,73.3 0 0 1 333.9,213.6L333.7,215.3A71.5,71.5 0 0 0 333.0,215.3ZM333.7,214.6A72.2,72.2 0 0 1 334.3,214.7L334.2,215.4A71.5,71.5 0 0 0 333.6,215.3ZM335.0,213.1A73.9,73.9 0 0 1 335.7,213.2L335.3,215.5A71.5,71.5 0 0 0 334.7,215.5ZM335.4,214.7A72.4,72.4 0 0 1 336.0,214.8L335.9,215.6A71.5,71.5 0 0 0 335.3,215.5ZM339.8,215.5A72.3,72.3 0 0 1 340.5,215.6L340.3,216.4A71.5,71.5 0 0 0 339.7,216.3ZM340.5,215.0A72.9,72.9 0 0 1 341.2,215.1L340.9,216.5A71.5,71.5 0 0 0 340.2,216.4ZM341.0,215.7A72.4,72.4 0 0 1 341.6,215.8L341.4,216.6A71.5,71.5 0 0 0 340.8,216.5ZM346.4,215.4A73.9,73.9 0 0 1 347.0,215.6L346.3,217.9A71.5,71.5 0 0 0 345.7,217.7ZM346.6,216.6A72.9,72.9 0 0 1 347.2,216.8L346.8,218.1A71.5,71.5 0 0 0 346.2,217.9ZM347.2,216.7A73.0,73.0 0 0 1 347.8,216.9L347.4,218.2A71.5,71.5 0 0 0 346.8,218.1ZM348.5,218.2A71.9,71.9 0 0 1 349.1,218.4L349.0,218.8A71.5,71.5 0 0 0 348.4,218.6ZM349.6,218.6A71.9,71.9 0 0 1 350.2,218.8L350.0,219.1A71.5,71.5 0 0 0 349.4,218.9ZM352.6,218.5A73.0,73.0 0 0 1 353.2,218.7L352.7,220.2A71.5,71.5 0 0 0 352.1,219.9ZM353.4,219.6A72.3,72.3 0 0 1 354.0,219.9L353.7,220.6A71.5,71.5 0 0 0 353.1,220.3ZM353.8,220.2A71.8,71.8 0 0 1 354.3,220.5L354.2,220.8A71.5,71.5 0 0 0 353.6,220.6ZM354.6,219.8A72.6,72.6 0 0 1 355.2,220.0L354.7,221.0A71.5,71.5 0 0 0 354.1,220.8ZM355.6,220.4A72.5,72.5 0 0 1 356.1,220.6L355.7,221.5A71.5,71.5 0 0 0 355.2,221.2ZM355.8,221.2A71.8,71.8 0 0 1 356.4,221.5L356.2,221.7A71.5,71.5 0 0 0 355.7,221.5ZM356.8,220.4A72.9,72.9 0 0 1 357.4,220.7L356.8,222.0A71.5,71.5 0 0 0 356.2,221.7ZM357.2,220.8A72.8,72.8 0 0 1 357.8,221.1L357.3,222.2A71.5,71.5 0 0 0 356.7,221.9ZM357.5,221.6A72.2,72.2 0 0 1 358.1,221.8L357.8,222.5A71.5,71.5 0 0 0 357.2,222.2ZM358.5,222.2A72.1,72.1 0 0 1 359.0,222.5L358.8,223.0A71.5,71.5 0 0 0 358.2,222.7ZM359.0,222.3A72.2,72.2 0 0 1 359.6,222.6L359.3,223.2A71.5,71.5 0 0 0 358.7,222.9ZM360.1,221.5A73.5,73.5 0 0 1 360.7,221.8L359.8,223.5A71.5,71.5 0 0 0 359.2,223.2ZM359.9,223.0A72.0,72.0 0 0 1 360.5,223.3L360.3,223.8A71.5,71.5 0 0 0 359.7,223.5ZM360.6,223.1A72.3,72.3 0 0 1 361.1,223.4L360.7,224.0A71.5,71.5 0 0 0 360.2,223.7ZM361.1,223.3A72.4,72.4 0 0 1 361.7,223.6L361.2,224.3A71.5,71.5 0 0 0 360.7,224.0ZM361.5,223.7A72.2,72.2 0 0 1 362.1,224.0L361.7,224.6A71.5,71.5 0 0 0 361.2,224.3ZM361.9,224.1A72.0,72.0 0 0 1 362.5,224.4L362.2,224.9A71.5,71.5 0 0 0 361.7,224.6ZM362.4,224.5A71.9,71.9 0 0 1 362.9,224.8L362.7,225.2A71.5,71.5 0 0 0 362.1,224.9ZM365.4,225.0A73.1,73.1 0 0 1 365.9,225.3L365.1,226.7A71.5,71.5 0 0 0 364.5,226.3ZM365.9,225.2A73.2,73.2 0 0 1 366.5,225.6L365.5,227.0A71.5,71.5 0 0 0 365.0,226.6ZM366.5,225.4A73.3,73.3 0 0 1 367.0,225.8L366.0,227.3A71.5,71.5 0 0 0 365.5,226.9ZM366.8,225.9A73.1,73.1 0 0 1 367.4,226.3L366.5,227.6A71.5,71.5 0 0 0 365.9,227.3ZM367.2,226.4A72.9,72.9 0 0 1 367.7,226.8L366.9,227.9A71.5,71.5 0 0 0 366.4,227.6ZM367.3,227.2A72.3,72.3 0 0 1 367.8,227.6L367.4,228.3A71.5,71.5 0 0 0 366.9,227.9ZM368.0,227.3A72.6,72.6 0 0 1 368.5,227.7L367.8,228.6A71.5,71.5 0 0 0 367.3,228.2ZM369.1,226.7A73.8,73.8 0 0 1 369.6,227.1L368.3,228.9A71.5,71.5 0 0 0 367.8,228.6ZM368.6,228.3A72.2,72.2 0 0 1 369.2,228.7L368.7,229.3A71.5,71.5 0 0 0 368.2,228.9ZM370.2,228.1A73.3,73.3 0 0 1 370.7,228.5L369.6,229.9A71.5,71.5 0 0 0 369.1,229.6ZM370.2,229.1A72.6,72.6 0 0 1 370.7,229.5L370.1,230.3A71.5,71.5 0 0 0 369.6,229.9ZM370.9,229.1A72.9,72.9 0 0 1 371.4,229.5L370.5,230.6A71.5,71.5 0 0 0 370.0,230.2ZM371.4,229.4A73.0,73.0 0 0 1 371.9,229.8L370.9,231.0A71.5,71.5 0 0 0 370.5,230.6ZM372.7,229.6A73.7,73.7 0 0 1 373.2,230.0L371.8,231.7A71.5,71.5 0 0 0 371.3,231.3ZM373.3,229.8A73.9,73.9 0 0 1 373.8,230.2L372.2,232.1A71.5,71.5 0 0 0 371.8,231.7ZM373.1,230.9A72.9,72.9 0 0 1 373.6,231.4L372.7,232.4A71.5,71.5 0 0 0 372.2,232.0ZM373.5,231.3A72.9,72.9 0 0 1 374.0,231.8L373.1,232.8A71.5,71.5 0 0 0 372.6,232.4ZM373.5,232.2A72.3,72.3 0 0 1 374.0,232.6L373.5,233.2A71.5,71.5 0 0 0 373.0,232.8ZM375.5,233.4A72.7,72.7 0 0 1 376.0,233.8L375.1,234.7A71.5,71.5 0 0 0 374.7,234.3ZM376.0,233.8A72.8,72.8 0 0 1 376.4,234.2L375.6,235.1A71.5,71.5 0 0 0 375.1,234.7ZM375.9,234.6A72.1,72.1 0 0 1 376.4,235.0L376.0,235.5A71.5,71.5 0 0 0 375.5,235.1ZM377.1,234.3A73.1,73.1 0 0 1 377.5,234.7L376.4,235.9A71.5,71.5 0 0 0 375.9,235.4ZM377.3,235.7A72.3,72.3 0 0 1 377.7,236.1L377.1,236.7A71.5,71.5 0 0 0 376.7,236.2ZM378.1,235.6A73.0,73.0 0 0 1 378.6,236.1L377.5,237.1A71.5,71.5 0 0 0 377.1,236.6ZM377.8,236.8A71.9,71.9 0 0 1 378.2,237.2L377.9,237.5A71.5,71.5 0 0 0 377.5,237.0ZM379.2,238.5A71.8,71.8 0 0 1 379.7,239.0L379.4,239.2A71.5,71.5 0 0 0 379.0,238.7ZM380.6,238.0A73.2,73.2 0 0 1 381.1,238.5L379.8,239.6A71.5,71.5 0 0 0 379.4,239.1ZM380.9,240.0A72.1,72.1 0 0 1 381.3,240.5L380.9,240.9A71.5,71.5 0 0 0 380.5,240.4ZM383.6,240.8A73.7,73.7 0 0 1 384.0,241.3L382.3,242.6A71.5,71.5 0 0 0 381.9,242.1ZM383.8,241.4A73.5,73.5 0 0 1 384.2,241.9L382.6,243.1A71.5,71.5 0 0 0 382.2,242.6ZM385.5,243.0A73.9,73.9 0 0 1 385.9,243.5L384.0,244.9A71.5,71.5 0 0 0 383.6,244.4ZM385.3,243.8A73.2,73.2 0 0 1 385.7,244.3L384.3,245.3A71.5,71.5 0 0 0 383.9,244.8ZM385.0,244.8A72.4,72.4 0 0 1 385.3,245.3L384.6,245.8A71.5,71.5 0 0 0 384.2,245.3ZM386.2,244.6A73.5,73.5 0 0 1 386.5,245.2L384.9,246.3A71.5,71.5 0 0 0 384.6,245.7ZM385.5,245.8A72.3,72.3 0 0 1 385.9,246.3L385.2,246.7A71.5,71.5 0 0 0 384.9,246.2ZM387.0,245.4A73.7,73.7 0 0 1 387.4,246.0L385.5,247.2A71.5,71.5 0 0 0 385.2,246.7ZM385.8,247.0A71.8,71.8 0 0 1 386.1,247.5L385.9,247.7A71.5,71.5 0 0 0 385.5,247.1ZM386.6,247.8A72.1,72.1 0 0 1 386.9,248.3L386.5,248.6A71.5,71.5 0 0 0 386.1,248.1ZM387.8,247.7A73.2,73.2 0 0 1 388.2,248.2L386.7,249.1A71.5,71.5 0 0 0 386.4,248.6ZM387.9,248.3A72.9,72.9 0 0 1 388.2,248.8L387.0,249.6A71.5,71.5 0 0 0 386.7,249.0ZM387.8,249.0A72.4,72.4 0 0 1 388.1,249.6L387.3,250.1A71.5,71.5 0 0 0 387.0,249.5ZM389.5,252.6A72.2,72.2 0 0 1 389.8,253.2L389.2,253.5A71.5,71.5 0 0 0 388.9,252.9ZM389.5,253.3A71.9,71.9 0 0 1 389.8,253.8L389.5,254.0A71.5,71.5 0 0 0 389.2,253.4ZM390.4,254.7A71.9,71.9 0 0 1 390.6,255.3L390.2,255.5A71.5,71.5 0 0 0 390.0,254.9ZM391.2,255.0A72.6,72.6 0 0 1 391.4,255.6L390.5,256.0A71.5,71.5 0 0 0 390.2,255.4ZM392.0,257.1A72.4,72.4 0 0 1 392.3,257.7L391.4,258.1A71.5,71.5 0 0 0 391.1,257.5ZM393.1,257.3A73.4,73.4 0 0 1 393.3,257.8L391.6,258.6A71.5,71.5 0 0 0 391.4,258.0ZM392.2,258.3A72.2,72.2 0 0 1 392.4,258.8L391.8,259.1A71.5,71.5 0 0 0 391.6,258.5ZM394.7,260.4A73.7,73.7 0 0 1 394.9,261.0L392.9,261.7A71.5,71.5 0 0 0 392.6,261.1ZM394.0,261.2A72.7,72.7 0 0 1 394.2,261.8L393.0,262.2A71.5,71.5 0 0 0 392.8,261.7ZM393.9,263.7A71.8,71.8 0 0 1 394.1,264.3L393.8,264.4A71.5,71.5 0 0 0 393.6,263.8ZM396.6,265.2A73.9,73.9 0 0 1 396.7,265.8L394.4,266.5A71.5,71.5 0 0 0 394.3,265.9ZM396.6,265.8A73.8,73.8 0 0 1 396.8,266.4L394.6,267.1A71.5,71.5 0 0 0 394.4,266.5ZM396.1,266.6A73.1,73.1 0 0 1 396.3,267.2L394.7,267.6A71.5,71.5 0 0 0 394.6,267.0ZM395.2,267.4A72.1,72.1 0 0 1 395.4,268.0L394.9,268.1A71.5,71.5 0 0 0 394.7,267.5ZM396.0,271.3A71.9,71.9 0 0 1 396.1,271.9L395.8,272.0A71.5,71.5 0 0 0 395.6,271.4ZM397.5,271.5A73.3,73.3 0 0 1 397.7,272.2L395.9,272.5A71.5,71.5 0 0 0 395.8,271.9ZM397.1,274.0A72.4,72.4 0 0 1 397.2,274.6L396.3,274.7A71.5,71.5 0 0 0 396.2,274.1ZM397.3,277.4A72.1,72.1 0 0 1 397.4,278.0L396.8,278.1A71.5,71.5 0 0 0 396.7,277.4ZM397.7,277.9A72.5,72.5 0 0 1 397.8,278.5L396.8,278.6A71.5,71.5 0 0 0 396.8,278.0ZM399.2,278.3A73.9,73.9 0 0 1 399.3,278.9L396.9,279.2A71.5,71.5 0 0 0 396.8,278.6ZM397.9,279.0A72.5,72.5 0 0 1 398.0,279.6L396.9,279.7A71.5,71.5 0 0 0 396.9,279.1ZM397.3,279.6A71.8,71.8 0 0 1 397.3,280.3L397.0,280.3A71.5,71.5 0 0 0 396.9,279.7ZM398.4,283.0A72.8,72.8 0 0 1 398.5,283.6L397.2,283.7A71.5,71.5 0 0 0 397.2,283.0ZM398.6,283.5A72.9,72.9 0 0 1 398.6,284.2L397.2,284.2A71.5,71.5 0 0 0 397.2,283.6ZM399.2,284.1A73.5,73.5 0 0 1 399.2,284.7L397.2,284.8A71.5,71.5 0 0 0 397.2,284.2ZM398.4,284.7A72.6,72.6 0 0 1 398.4,285.3L397.2,285.3A71.5,71.5 0 0 0 397.2,284.7ZM398.3,290.4A72.6,72.6 0 0 1 398.2,291.0L397.1,291.0A71.5,71.5 0 0 0 397.1,290.3ZM397.8,290.9A72.2,72.2 0 0 1 397.8,291.6L397.1,291.5A71.5,71.5 0 0 0 397.1,290.9ZM398.0,291.5A72.4,72.4 0 0 1 397.9,292.1L397.0,292.1A71.5,71.5 0 0 0 397.1,291.4ZM398.6,292.1A73.1,73.1 0 0 1 398.6,292.8L397.0,292.6A71.5,71.5 0 0 0 397.0,292.0ZM397.7,294.9A72.5,72.5 0 0 1 397.6,295.5L396.7,295.4A71.5,71.5 0 0 0 396.8,294.8ZM397.5,295.5A72.3,72.3 0 0 1 397.4,296.1L396.6,296.0A71.5,71.5 0 0 0 396.7,295.4ZM398.0,296.1A72.9,72.9 0 0 1 397.9,296.7L396.5,296.5A71.5,71.5 0 0 0 396.6,295.9ZM397.9,296.7A72.9,72.9 0 0 1 397.8,297.3L396.4,297.1A71.5,71.5 0 0 0 396.5,296.5ZM396.3,299.9A71.9,71.9 0 0 1 396.2,300.5L395.9,300.4A71.5,71.5 0 0 0 396.0,299.8ZM396.9,300.6A72.5,72.5 0 0 1 396.8,301.2L395.8,301.0A71.5,71.5 0 0 0 395.9,300.3ZM397.2,301.2A73.0,73.0 0 0 1 397.1,301.8L395.6,301.5A71.5,71.5 0 0 0 395.8,300.9ZM395.6,306.1A72.6,72.6 0 0 1 395.4,306.7L394.4,306.4A71.5,71.5 0 0 0 394.6,305.8ZM395.1,308.3A72.7,72.7 0 0 1 394.9,308.9L393.7,308.6A71.5,71.5 0 0 0 393.9,308.0ZM395.3,309.0A73.1,73.1 0 0 1 395.1,309.6L393.6,309.1A71.5,71.5 0 0 0 393.8,308.5ZM394.2,309.2A72.1,72.1 0 0 1 394.0,309.8L393.4,309.6A71.5,71.5 0 0 0 393.6,309.0ZM393.9,309.7A72.0,72.0 0 0 1 393.7,310.3L393.2,310.1A71.5,71.5 0 0 0 393.4,309.6ZM393.5,310.2A71.8,71.8 0 0 1 393.3,310.8L393.0,310.7A71.5,71.5 0 0 0 393.2,310.1ZM393.4,310.7A71.9,71.9 0 0 1 393.1,311.3L392.8,311.2A71.5,71.5 0 0 0 393.0,310.6ZM393.0,313.6A72.6,72.6 0 0 1 392.8,314.2L391.8,313.8A71.5,71.5 0 0 0 392.0,313.2ZM392.7,314.2A72.5,72.5 0 0 1 392.5,314.7L391.6,314.3A71.5,71.5 0 0 0 391.8,313.8ZM392.1,314.5A72.0,72.0 0 0 1 391.8,315.1L391.3,314.9A71.5,71.5 0 0 0 391.6,314.3ZM391.3,316.0A71.9,71.9 0 0 1 391.0,316.6L390.7,316.4A71.5,71.5 0 0 0 390.9,315.8ZM388.1,323.3A72.4,72.4 0 0 1 387.8,323.8L387.0,323.3A71.5,71.5 0 0 0 387.3,322.8ZM387.4,323.5A72.0,72.0 0 0 1 387.1,324.1L386.7,323.8A71.5,71.5 0 0 0 387.0,323.3ZM386.4,325.6A72.2,72.2 0 0 1 386.1,326.1L385.5,325.7A71.5,71.5 0 0 0 385.8,325.2ZM383.9,328.7A71.9,71.9 0 0 1 383.5,329.2L383.2,328.9A71.5,71.5 0 0 0 383.6,328.4ZM384.1,330.2A72.9,72.9 0 0 1 383.7,330.7L382.6,329.8A71.5,71.5 0 0 0 382.9,329.3ZM382.8,330.7A72.2,72.2 0 0 1 382.4,331.2L381.9,330.7A71.5,71.5 0 0 0 382.2,330.2ZM382.8,331.4A72.6,72.6 0 0 1 382.4,331.9L381.5,331.2A71.5,71.5 0 0 0 381.9,330.7ZM381.1,333.7A72.8,72.8 0 0 1 380.7,334.2L379.7,333.3A71.5,71.5 0 0 0 380.1,332.8ZM380.0,334.2A72.3,72.3 0 0 1 379.5,334.7L379.0,334.2A71.5,71.5 0 0 0 379.4,333.7ZM377.2,338.7A73.4,73.4 0 0 1 376.8,339.1L375.5,337.8A71.5,71.5 0 0 0 375.9,337.4ZM377.2,339.5A73.9,73.9 0 0 1 376.7,339.9L375.1,338.2A71.5,71.5 0 0 0 375.5,337.7ZM376.0,339.1A72.8,72.8 0 0 1 375.5,339.5L374.6,338.6A71.5,71.5 0 0 0 375.1,338.1ZM374.4,340.7A72.9,72.9 0 0 1 373.9,341.1L373.0,340.1A71.5,71.5 0 0 0 373.5,339.7ZM373.8,340.9A72.7,72.7 0 0 1 373.3,341.3L372.6,340.4A71.5,71.5 0 0 0 373.0,340.0ZM372.7,341.4A72.3,72.3 0 0 1 372.3,341.8L371.7,341.2A71.5,71.5 0 0 0 372.2,340.8ZM372.3,341.8A72.4,72.4 0 0 1 371.9,342.2L371.3,341.5A71.5,71.5 0 0 0 371.8,341.1ZM367.9,345.4A72.5,72.5 0 0 1 367.4,345.7L366.8,344.9A71.5,71.5 0 0 0 367.3,344.6ZM367.3,345.6A72.3,72.3 0 0 1 366.8,345.9L366.4,345.3A71.5,71.5 0 0 0 366.9,344.9ZM366.9,345.9A72.3,72.3 0 0 1 366.3,346.2L365.9,345.6A71.5,71.5 0 0 0 366.4,345.2ZM365.3,346.6A72.0,72.0 0 0 1 364.8,346.9L364.5,346.5A71.5,71.5 0 0 0 365.0,346.2ZM364.4,347.3A72.1,72.1 0 0 1 363.9,347.6L363.5,347.1A71.5,71.5 0 0 0 364.1,346.8ZM363.3,347.7A71.9,71.9 0 0 1 362.8,348.0L362.6,347.7A71.5,71.5 0 0 0 363.1,347.4ZM362.3,349.4A72.8,72.8 0 0 1 361.8,349.7L361.1,348.5A71.5,71.5 0 0 0 361.7,348.2ZM361.5,350.2A73.1,73.1 0 0 1 360.9,350.5L360.1,349.1A71.5,71.5 0 0 0 360.7,348.8ZM358.0,350.9A72.1,72.1 0 0 1 357.4,351.1L357.1,350.6A71.5,71.5 0 0 0 357.7,350.4ZM357.8,351.9A73.0,73.0 0 0 1 357.3,352.2L356.6,350.9A71.5,71.5 0 0 0 357.2,350.6ZM356.5,353.0A73.4,73.4 0 0 1 355.9,353.3L355.1,351.6A71.5,71.5 0 0 0 355.7,351.3ZM356.0,353.4A73.5,73.5 0 0 1 355.4,353.7L354.6,351.8A71.5,71.5 0 0 0 355.2,351.6ZM354.9,352.4A72.2,72.2 0 0 1 354.4,352.7L354.1,352.0A71.5,71.5 0 0 0 354.7,351.8ZM351.4,354.2A72.5,72.5 0 0 1 350.8,354.4L350.4,353.5A71.5,71.5 0 0 0 351.0,353.3ZM349.6,354.3A71.9,71.9 0 0 1 349.0,354.5L348.9,354.1A71.5,71.5 0 0 0 349.4,353.9ZM346.2,356.8A73.3,73.3 0 0 1 345.6,357.0L345.1,355.2A71.5,71.5 0 0 0 345.7,355.1ZM344.4,356.6A72.6,72.6 0 0 1 343.7,356.7L343.5,355.7A71.5,71.5 0 0 0 344.1,355.5ZM343.8,356.9A72.7,72.7 0 0 1 343.2,357.0L342.9,355.8A71.5,71.5 0 0 0 343.5,355.7ZM343.3,357.1A72.8,72.8 0 0 1 342.7,357.2L342.4,355.9A71.5,71.5 0 0 0 343.0,355.8ZM342.8,357.3A73.0,73.0 0 0 1 342.2,357.5L341.8,356.1A71.5,71.5 0 0 0 342.4,355.9ZM340.0,357.9A72.9,72.9 0 0 1 339.3,358.0L339.1,356.6A71.5,71.5 0 0 0 339.7,356.5ZM339.4,357.7A72.6,72.6 0 0 1 338.7,357.8L338.5,356.7A71.5,71.5 0 0 0 339.1,356.6ZM336.5,357.9A72.3,72.3 0 0 1 335.9,357.9L335.8,357.2A71.5,71.5 0 0 0 336.4,357.1ZM334.2,357.9A72.0,72.0 0 0 1 333.6,358.0L333.5,357.5A71.5,71.5 0 0 0 334.2,357.4ZM333.8,359.0A73.0,73.0 0 0 1 333.1,359.1L333.0,357.5A71.5,71.5 0 0 0 333.6,357.5ZM333.2,359.2A73.2,73.2 0 0 1 332.6,359.3L332.4,357.6A71.5,71.5 0 0 0 333.0,357.5ZM332.6,359.2A73.1,73.1 0 0 1 332.0,359.2L331.9,357.6A71.5,71.5 0 0 0 332.5,357.6ZM332.1,359.2A73.1,73.1 0 0 1 331.4,359.2L331.3,357.7A71.5,71.5 0 0 0 331.9,357.6ZM331.4,358.4A72.2,72.2 0 0 1 330.8,358.4L330.7,357.7A71.5,71.5 0 0 0 331.4,357.7ZM330.9,358.7A72.5,72.5 0 0 1 330.2,358.7L330.2,357.8A71.5,71.5 0 0 0 330.8,357.7ZM326.3,359.4A73.0,73.0 0 0 1 325.7,359.4L325.7,357.9A71.5,71.5 0 0 0 326.3,357.9ZM324.6,358.3A71.9,71.9 0 0 1 324.0,358.2L324.0,357.9A71.5,71.5 0 0 0 324.6,357.9ZM319.4,359.2A73.1,73.1 0 0 1 318.8,359.1L319.0,357.6A71.5,71.5 0 0 0 319.6,357.6ZM318.9,359.0A72.9,72.9 0 0 1 318.3,358.9L318.4,357.5A71.5,71.5 0 0 0 319.0,357.6ZM318.2,359.9A73.9,73.9 0 0 1 317.6,359.8L317.8,357.5A71.5,71.5 0 0 0 318.5,357.5ZM317.7,359.7A73.8,73.8 0 0 1 317.0,359.7L317.3,357.4A71.5,71.5 0 0 0 317.9,357.5ZM317.3,358.1A72.2,72.2 0 0 1 316.6,358.0L316.7,357.3A71.5,71.5 0 0 0 317.3,357.4ZM316.7,357.7A71.9,71.9 0 0 1 316.1,357.7L316.2,357.3A71.5,71.5 0 0 0 316.8,357.3ZM316.0,359.0A73.3,73.3 0 0 1 315.4,359.0L315.6,357.2A71.5,71.5 0 0 0 316.2,357.3ZM315.6,358.0A72.3,72.3 0 0 1 314.9,357.9L315.1,357.1A71.5,71.5 0 0 0 315.7,357.2ZM315.0,357.9A72.3,72.3 0 0 1 314.4,357.8L314.5,357.0A71.5,71.5 0 0 0 315.1,357.1ZM314.4,357.9A72.4,72.4 0 0 1 313.8,357.8L313.9,356.9A71.5,71.5 0 0 0 314.6,357.0ZM311.1,357.2A72.3,72.3 0 0 1 310.5,357.0L310.6,356.3A71.5,71.5 0 0 0 311.3,356.4ZM310.6,356.7A71.9,71.9 0 0 1 310.0,356.6L310.1,356.2A71.5,71.5 0 0 0 310.7,356.3ZM304.6,355.0A71.8,71.8 0 0 1 304.0,354.9L304.1,354.6A71.5,71.5 0 0 0 304.7,354.7ZM304.1,354.9A71.8,71.8 0 0 1 303.5,354.7L303.6,354.4A71.5,71.5 0 0 0 304.2,354.6ZM300.8,354.1A72.1,72.1 0 0 1 300.2,353.8L300.4,353.3A71.5,71.5 0 0 0 301.0,353.5ZM299.8,355.1A73.4,73.4 0 0 1 299.2,354.8L299.9,353.1A71.5,71.5 0 0 0 300.5,353.3ZM297.6,354.4A73.6,73.6 0 0 1 297.0,354.2L297.8,352.2A71.5,71.5 0 0 0 298.4,352.5ZM297.1,354.0A73.4,73.4 0 0 1 296.5,353.7L297.3,352.0A71.5,71.5 0 0 0 297.9,352.2ZM295.5,352.0A72.3,72.3 0 0 1 294.9,351.8L295.3,351.1A71.5,71.5 0 0 0 295.8,351.3ZM291.4,350.0A72.3,72.3 0 0 1 290.9,349.7L291.2,349.0A71.5,71.5 0 0 0 291.8,349.3ZM289.6,348.6A72.0,72.0 0 0 1 289.1,348.3L289.3,347.9A71.5,71.5 0 0 0 289.8,348.2ZM287.7,348.6A72.9,72.9 0 0 1 287.1,348.2L287.9,347.0A71.5,71.5 0 0 0 288.4,347.4ZM284.0,345.8A72.7,72.7 0 0 1 283.5,345.5L284.1,344.5A71.5,71.5 0 0 0 284.6,344.9ZM284.0,344.8A71.8,71.8 0 0 1 283.5,344.5L283.7,344.2A71.5,71.5 0 0 0 284.2,344.6ZM282.0,345.7A73.7,73.7 0 0 1 281.4,345.3L282.8,343.5A71.5,71.5 0 0 0 283.3,343.9ZM282.3,344.3A72.4,72.4 0 0 1 281.8,343.9L282.3,343.2A71.5,71.5 0 0 0 282.8,343.6ZM280.3,343.1A72.7,72.7 0 0 1 279.8,342.7L280.6,341.8A71.5,71.5 0 0 0 281.0,342.2ZM276.9,339.3A72.0,72.0 0 0 1 276.4,338.9L276.8,338.5A71.5,71.5 0 0 0 277.2,338.9ZM276.0,339.4A72.7,72.7 0 0 1 275.5,338.9L276.4,338.1A71.5,71.5 0 0 0 276.8,338.5ZM276.0,338.6A72.1,72.1 0 0 1 275.5,338.1L275.9,337.7A71.5,71.5 0 0 0 276.4,338.1ZM273.2,338.1A73.7,73.7 0 0 1 272.8,337.7L274.4,336.1A71.5,71.5 0 0 0 274.8,336.6ZM274.0,336.5A72.1,72.1 0 0 1 273.6,336.1L274.0,335.7A71.5,71.5 0 0 0 274.4,336.2ZM271.4,334.3A72.5,72.5 0 0 1 270.9,333.9L271.7,333.2A71.5,71.5 0 0 0 272.1,333.7ZM271.4,333.6A72.0,72.0 0 0 1 271.0,333.1L271.3,332.8A71.5,71.5 0 0 0 271.7,333.3ZM268.4,330.2A72.1,72.1 0 0 1 268.0,329.7L268.5,329.3A71.5,71.5 0 0 0 268.9,329.8ZM267.8,329.9A72.4,72.4 0 0 1 267.5,329.4L268.2,328.8A71.5,71.5 0 0 0 268.6,329.3ZM267.7,329.2A72.1,72.1 0 0 1 267.4,328.7L267.9,328.4A71.5,71.5 0 0 0 268.2,328.9ZM267.3,328.1A71.8,71.8 0 0 1 267.0,327.6L267.2,327.5A71.5,71.5 0 0 0 267.6,328.0ZM265.1,328.3A73.7,73.7 0 0 1 264.7,327.8L266.6,326.5A71.5,71.5 0 0 0 266.9,327.1ZM265.1,326.2A72.6,72.6 0 0 1 264.7,325.7L265.6,325.1A71.5,71.5 0 0 0 266.0,325.7ZM264.1,325.5A73.0,73.0 0 0 1 263.8,325.0L265.0,324.2A71.5,71.5 0 0 0 265.4,324.7ZM264.5,324.6A72.1,72.1 0 0 1 264.2,324.0L264.8,323.7A71.5,71.5 0 0 0 265.1,324.2ZM264.4,324.0A71.9,71.9 0 0 1 264.1,323.4L264.5,323.2A71.5,71.5 0 0 0 264.8,323.8ZM262.4,322.6A73.0,73.0 0 0 1 262.0,322.0L263.3,321.3A71.5,71.5 0 0 0 263.6,321.8ZM262.2,322.0A72.8,72.8 0 0 1 261.9,321.4L263.1,320.8A71.5,71.5 0 0 0 263.4,321.3ZM262.0,321.4A72.7,72.7 0 0 1 261.7,320.9L262.8,320.3A71.5,71.5 0 0 0 263.1,320.8ZM261.5,321.1A73.0,73.0 0 0 1 261.2,320.5L262.5,319.8A71.5,71.5 0 0 0 262.8,320.4ZM261.5,320.4A72.7,72.7 0 0 1 261.2,319.9L262.3,319.3A71.5,71.5 0 0 0 262.6,319.9ZM260.9,320.1A73.1,73.1 0 0 1 260.6,319.5L262.0,318.8A71.5,71.5 0 0 0 262.3,319.4ZM261.6,319.1A71.9,71.9 0 0 1 261.4,318.5L261.8,318.3A71.5,71.5 0 0 0 262.0,318.9ZM260.7,318.3A72.5,72.5 0 0 1 260.4,317.7L261.3,317.3A71.5,71.5 0 0 0 261.5,317.9ZM258.4,313.7A72.6,72.6 0 0 1 258.2,313.1L259.2,312.7A71.5,71.5 0 0 0 259.5,313.2ZM258.8,312.9A72.0,72.0 0 0 1 258.6,312.3L259.0,312.1A71.5,71.5 0 0 0 259.3,312.7ZM258.7,312.3A71.9,71.9 0 0 1 258.5,311.7L258.8,311.6A71.5,71.5 0 0 0 259.1,312.2ZM258.3,311.3A71.9,71.9 0 0 1 258.1,310.7L258.5,310.6A71.5,71.5 0 0 0 258.7,311.1ZM257.4,311.0A72.6,72.6 0 0 1 257.2,310.4L258.3,310.0A71.5,71.5 0 0 0 258.5,310.6ZM256.5,310.7A73.4,73.4 0 0 1 256.3,310.1L258.1,309.5A71.5,71.5 0 0 0 258.3,310.1ZM257.0,309.3A72.5,72.5 0 0 1 256.8,308.7L257.7,308.4A71.5,71.5 0 0 0 257.9,309.0ZM257.3,308.6A71.9,71.9 0 0 1 257.1,308.0L257.6,307.9A71.5,71.5 0 0 0 257.7,308.5ZM255.2,308.1A73.8,73.8 0 0 1 255.0,307.5L257.2,306.8A71.5,71.5 0 0 0 257.4,307.4ZM256.4,307.1A72.4,72.4 0 0 1 256.2,306.5L257.1,306.3A71.5,71.5 0 0 0 257.2,306.9ZM254.8,307.0A73.8,73.8 0 0 1 254.7,306.4L256.9,305.7A71.5,71.5 0 0 0 257.1,306.3ZM255.0,306.4A73.5,73.5 0 0 1 254.8,305.7L256.8,305.2A71.5,71.5 0 0 0 256.9,305.8ZM256.2,304.8A71.9,71.9 0 0 1 256.1,304.2L256.5,304.1A71.5,71.5 0 0 0 256.6,304.7ZM255.6,304.4A72.4,72.4 0 0 1 255.4,303.8L256.3,303.6A71.5,71.5 0 0 0 256.5,304.2ZM254.6,301.1A72.7,72.7 0 0 1 254.5,300.5L255.6,300.3A71.5,71.5 0 0 0 255.7,300.9ZM252.5,291.0A73.4,73.4 0 0 1 252.5,290.4L254.4,290.3A71.5,71.5 0 0 0 254.4,290.9ZM253.5,290.4A72.3,72.3 0 0 1 253.5,289.7L254.3,289.7A71.5,71.5 0 0 0 254.4,290.3ZM253.0,288.7A72.8,72.8 0 0 1 252.9,288.1L254.3,288.0A71.5,71.5 0 0 0 254.3,288.6ZM252.3,288.1A73.5,73.5 0 0 1 252.3,287.5L254.3,287.5A71.5,71.5 0 0 0 254.3,288.1ZM253.1,287.5A72.7,72.7 0 0 1 253.1,286.9L254.3,286.9A71.5,71.5 0 0 0 254.3,287.5ZM252.0,281.2A73.9,73.9 0 0 1 252.1,280.5L254.5,280.7A71.5,71.5 0 0 0 254.4,281.4ZM252.1,280.6A73.9,73.9 0 0 1 252.1,280.0L254.5,280.2A71.5,71.5 0 0 0 254.5,280.8ZM254.1,279.6A72.0,72.0 0 0 1 254.2,279.0L254.6,279.1A71.5,71.5 0 0 0 254.6,279.7ZM253.7,277.9A72.5,72.5 0 0 1 253.8,277.2L254.8,277.4A71.5,71.5 0 0 0 254.7,278.0ZM254.0,275.0A72.6,72.6 0 0 1 254.1,274.4L255.2,274.6A71.5,71.5 0 0 0 255.1,275.2ZM253.9,274.4A72.8,72.8 0 0 1 254.1,273.8L255.3,274.0A71.5,71.5 0 0 0 255.2,274.7ZM255.4,271.8A71.9,71.9 0 0 1 255.5,271.2L255.9,271.3A71.5,71.5 0 0 0 255.7,271.9ZM254.8,271.1A72.6,72.6 0 0 1 255.0,270.5L256.0,270.7A71.5,71.5 0 0 0 255.9,271.4ZM255.6,270.7A71.9,71.9 0 0 1 255.7,270.1L256.1,270.2A71.5,71.5 0 0 0 256.0,270.8ZM256.0,268.5A72.0,72.0 0 0 1 256.1,267.9L256.7,268.0A71.5,71.5 0 0 0 256.5,268.6ZM257.9,259.5A73.0,73.0 0 0 1 258.1,258.9L259.5,259.5A71.5,71.5 0 0 0 259.3,260.1ZM257.8,258.9A73.3,73.3 0 0 1 258.0,258.3L259.7,259.0A71.5,71.5 0 0 0 259.5,259.6ZM258.6,258.6A72.7,72.7 0 0 1 258.8,258.0L259.9,258.5A71.5,71.5 0 0 0 259.7,259.0ZM259.2,258.2A72.2,72.2 0 0 1 259.5,257.7L260.2,257.9A71.5,71.5 0 0 0 259.9,258.5ZM260.5,253.8A73.0,73.0 0 0 1 260.8,253.2L262.1,253.9A71.5,71.5 0 0 0 261.8,254.4ZM260.8,253.3A72.9,72.9 0 0 1 261.1,252.7L262.3,253.4A71.5,71.5 0 0 0 262.0,253.9ZM261.4,253.0A72.5,72.5 0 0 1 261.7,252.4L262.6,252.9A71.5,71.5 0 0 0 262.3,253.4ZM263.2,250.1A72.3,72.3 0 0 1 263.5,249.5L264.2,249.9A71.5,71.5 0 0 0 263.9,250.5ZM264.2,249.3A71.9,71.9 0 0 1 264.5,248.8L264.8,249.0A71.5,71.5 0 0 0 264.5,249.5ZM264.1,247.3A73.0,73.0 0 0 1 264.5,246.8L265.7,247.6A71.5,71.5 0 0 0 265.4,248.1ZM265.4,246.8A72.2,72.2 0 0 1 265.8,246.2L266.3,246.6A71.5,71.5 0 0 0 266.0,247.1ZM267.1,244.5A72.1,72.1 0 0 1 267.5,244.0L267.9,244.3A71.5,71.5 0 0 0 267.6,244.8ZM266.1,243.1A73.7,73.7 0 0 1 266.5,242.6L268.3,243.9A71.5,71.5 0 0 0 267.9,244.4ZM268.1,242.4A72.5,72.5 0 0 1 268.5,241.9L269.3,242.5A71.5,71.5 0 0 0 268.9,243.0ZM269.1,241.7A72.1,72.1 0 0 1 269.5,241.3L270.0,241.6A71.5,71.5 0 0 0 269.6,242.1ZM270.0,241.0A71.9,71.9 0 0 1 270.4,240.5L270.7,240.8A71.5,71.5 0 0 0 270.3,241.3ZM270.2,240.4A72.1,72.1 0 0 1 270.6,240.0L271.1,240.3A71.5,71.5 0 0 0 270.7,240.8ZM269.9,239.4A73.0,73.0 0 0 1 270.3,239.0L271.4,239.9A71.5,71.5 0 0 0 271.0,240.4ZM270.6,239.3A72.5,72.5 0 0 1 271.0,238.8L271.8,239.5A71.5,71.5 0 0 0 271.4,240.0ZM271.9,238.9A71.8,71.8 0 0 1 272.3,238.4L272.5,238.6A71.5,71.5 0 0 0 272.1,239.1ZM272.6,238.1A71.8,71.8 0 0 1 273.1,237.6L273.3,237.8A71.5,71.5 0 0 0 272.9,238.3ZM272.0,236.7A73.2,73.2 0 0 1 272.5,236.3L273.7,237.4A71.5,71.5 0 0 0 273.2,237.9ZM272.7,236.5A72.8,72.8 0 0 1 273.1,236.1L274.1,237.0A71.5,71.5 0 0 0 273.6,237.5ZM273.5,235.8A72.7,72.7 0 0 1 274.0,235.3L274.8,236.2A71.5,71.5 0 0 0 274.4,236.6ZM274.3,235.7A72.2,72.2 0 0 1 274.7,235.3L275.2,235.8A71.5,71.5 0 0 0 274.8,236.2ZM275.2,234.3A72.6,72.6 0 0 1 275.7,233.8L276.4,234.6A71.5,71.5 0 0 0 276.0,235.1ZM280.1,230.3A72.3,72.3 0 0 1 280.6,229.9L281.1,230.6A71.5,71.5 0 0 0 280.6,231.0ZM280.2,229.5A72.9,72.9 0 0 1 280.7,229.1L281.5,230.2A71.5,71.5 0 0 0 281.0,230.6ZM280.3,228.7A73.4,73.4 0 0 1 280.8,228.3L282.0,229.9A71.5,71.5 0 0 0 281.5,230.2ZM281.7,229.6A71.9,71.9 0 0 1 282.2,229.2L282.4,229.5A71.5,71.5 0 0 0 281.9,229.9ZM282.2,227.5A73.2,73.2 0 0 1 282.8,227.1L283.8,228.5A71.5,71.5 0 0 0 283.3,228.9ZM284.7,226.0A73.0,73.0 0 0 1 285.2,225.7L286.1,226.9A71.5,71.5 0 0 0 285.6,227.3ZM285.8,226.6A71.9,71.9 0 0 1 286.3,226.3L286.5,226.6A71.5,71.5 0 0 0 286.0,226.9ZM289.1,224.5A72.0,72.0 0 0 1 289.7,224.1L289.9,224.5A71.5,71.5 0 0 0 289.4,224.9ZM290.0,223.8A72.1,72.1 0 0 1 290.6,223.5L290.9,224.0A71.5,71.5 0 0 0 290.3,224.3ZM291.1,223.3A72.0,72.0 0 0 1 291.6,223.0L291.9,223.4A71.5,71.5 0 0 0 291.3,223.7ZM292.0,222.6A72.2,72.2 0 0 1 292.5,222.3L292.8,222.9A71.5,71.5 0 0 0 292.3,223.2ZM298.5,219.1A72.6,72.6 0 0 1 299.1,218.9L299.5,219.9A71.5,71.5 0 0 0 298.9,220.1ZM299.1,217.5A73.9,73.9 0 0 1 299.7,217.2L300.5,219.5A71.5,71.5 0 0 0 300.0,219.7ZM299.8,217.7A73.4,73.4 0 0 1 300.4,217.5L301.1,219.3A71.5,71.5 0 0 0 300.5,219.5ZM300.6,218.2A72.7,72.7 0 0 1 301.2,218.0L301.6,219.1A71.5,71.5 0 0 0 301.0,219.3ZM301.0,217.6A73.1,73.1 0 0 1 301.6,217.4L302.1,218.9A71.5,71.5 0 0 0 301.5,219.1ZM301.5,217.4A73.2,73.2 0 0 1 302.1,217.1L302.6,218.7A71.5,71.5 0 0 0 302.1,218.9ZM302.3,217.9A72.4,72.4 0 0 1 302.9,217.7L303.2,218.6A71.5,71.5 0 0 0 302.6,218.8ZM303.4,217.5A72.4,72.4 0 0 1 304.0,217.3L304.2,218.2A71.5,71.5 0 0 0 303.7,218.4ZM303.9,217.4A72.3,72.3 0 0 1 304.5,217.2L304.8,218.0A71.5,71.5 0 0 0 304.2,218.2ZM307.2,216.6A72.3,72.3 0 0 1 307.8,216.4L308.0,217.1A71.5,71.5 0 0 0 307.4,217.3ZM307.8,216.7A72.0,72.0 0 0 1 308.5,216.5L308.6,217.0A71.5,71.5 0 0 0 308.0,217.1ZM308.1,215.3A73.3,73.3 0 0 1 308.7,215.1L309.1,216.9A71.5,71.5 0 0 0 308.5,217.0ZM310.5,215.7A72.3,72.3 0 0 1 311.1,215.6L311.3,216.4A71.5,71.5 0 0 0 310.7,216.5ZM311.0,215.2A72.7,72.7 0 0 1 311.6,215.1L311.9,216.3A71.5,71.5 0 0 0 311.3,216.4ZM311.4,214.3A73.5,73.5 0 0 1 312.0,214.2L312.4,216.2A71.5,71.5 0 0 0 311.8,216.3ZM312.3,215.7A71.9,71.9 0 0 1 312.9,215.6L313.0,216.1A71.5,71.5 0 0 0 312.4,216.2ZM312.7,214.7A72.9,72.9 0 0 1 313.3,214.6L313.5,216.0A71.5,71.5 0 0 0 312.9,216.1ZM313.3,214.9A72.6,72.6 0 0 1 313.9,214.8L314.1,215.9A71.5,71.5 0 0 0 313.5,216.0ZM314.8,213.8A73.4,73.4 0 0 1 315.5,213.7L315.7,215.6A71.5,71.5 0 0 0 315.1,215.7ZM315.4,214.0A73.1,73.1 0 0 1 316.1,213.9L316.3,215.5A71.5,71.5 0 0 0 315.7,215.6ZM318.8,213.2A73.5,73.5 0 0 1 319.5,213.1L319.6,215.2A71.5,71.5 0 0 0 319.0,215.2ZM319.4,213.5A73.2,73.2 0 0 1 320.1,213.5L320.2,215.1A71.5,71.5 0 0 0 319.6,215.2ZM320.1,214.1A72.6,72.6 0 0 1 320.7,214.0L320.8,215.1A71.5,71.5 0 0 0 320.1,215.1ZM322.8,212.6A73.9,73.9 0 0 1 323.5,212.5L323.6,214.9A71.5,71.5 0 0 0 322.9,215.0ZM323.5,214.2A72.3,72.3 0 0 1 324.1,214.1L324.1,214.9A71.5,71.5 0 0 0 323.5,214.9ZM324.6,213.9A72.5,72.5 0 0 1 325.2,213.9L325.3,214.9A71.5,71.5 0 0 0 324.6,214.9ZM325.2,214.4A72.0,72.0 0 0 1 325.8,214.4L325.8,214.9A71.5,71.5 0 0 0 325.2,214.9Z" fill="#8c8a2a"/>
<circle cx="325.75" cy="286.4" r="71.5" fill="none" stroke="#8c8a2a" stroke-width="2.0"/>
<circle cx="325.75" cy="286.4" r="57.8" fill="none" stroke="#808080" stroke-width="1.9"/>
<line x1="325.8" y1="234.6" x2="325.8" y2="231.2" stroke="#555" stroke-width="1.1"/>
<line x1="332.7" y1="233.3" x2="332.9" y2="231.9" stroke="#555" stroke-width="0.9"/>
<line x1="339.5" y1="234.6" x2="339.9" y2="233.2" stroke="#555" stroke-width="0.9"/>
<line x1="346.1" y1="236.8" x2="346.6" y2="235.5" stroke="#555" stroke-width="0.9"/>
<line x1="352.4" y1="239.9" x2="353.1" y2="238.7" stroke="#555" stroke-width="0.9"/>
<line x1="357.1" y1="245.1" x2="359.1" y2="242.4" stroke="#555" stroke-width="1.1"/>
<line x1="363.4" y1="248.3" x2="364.4" y2="247.3" stroke="#555" stroke-width="0.9"/>
<line x1="368.0" y1="253.5" x2="369.1" y2="252.6" stroke="#555" stroke-width="0.9"/>
<line x1="371.9" y1="259.2" x2="373.1" y2="258.5" stroke="#555" stroke-width="0.9"/>
<line x1="375.1" y1="265.4" x2="376.4" y2="264.9" stroke="#555" stroke-width="0.9"/>
<line x1="375.6" y1="272.5" x2="378.9" y2="271.6" stroke="#555" stroke-width="1.1"/>
<line x1="378.8" y1="278.8" x2="380.2" y2="278.6" stroke="#555" stroke-width="0.9"/>
<line x1="379.3" y1="285.7" x2="380.7" y2="285.7" stroke="#555" stroke-width="0.9"/>
<line x1="379.0" y1="292.7" x2="380.4" y2="292.8" stroke="#555" stroke-width="0.9"/>
<line x1="377.7" y1="299.5" x2="379.1" y2="299.9" stroke="#555" stroke-width="0.9"/>
<line x1="373.9" y1="305.5" x2="377.1" y2="306.7" stroke="#555" stroke-width="1.1"/>
<line x1="372.6" y1="312.4" x2="373.8" y2="313.1" stroke="#555" stroke-width="0.9"/>
<line x1="368.8" y1="318.3" x2="370.0" y2="319.1" stroke="#555" stroke-width="0.9"/>
<line x1="364.4" y1="323.6" x2="365.4" y2="324.6" stroke="#555" stroke-width="0.9"/>
<line x1="359.2" y1="328.3" x2="360.1" y2="329.4" stroke="#555" stroke-width="0.9"/>
<line x1="352.6" y1="330.7" x2="354.3" y2="333.6" stroke="#555" stroke-width="1.1"/>
<line x1="347.3" y1="335.5" x2="347.9" y2="336.7" stroke="#555" stroke-width="0.9"/>
<line x1="340.8" y1="337.8" x2="341.2" y2="339.2" stroke="#555" stroke-width="0.9"/>
<line x1="334.0" y1="339.4" x2="334.2" y2="340.7" stroke="#555" stroke-width="0.9"/>
<line x1="327.1" y1="340.0" x2="327.1" y2="341.4" stroke="#555" stroke-width="0.9"/>
<line x1="320.3" y1="337.9" x2="320.0" y2="341.3" stroke="#555" stroke-width="1.1"/>
<line x1="313.3" y1="338.5" x2="313.0" y2="339.9" stroke="#555" stroke-width="0.9"/>
<line x1="306.6" y1="336.5" x2="306.1" y2="337.8" stroke="#555" stroke-width="0.9"/>
<line x1="300.3" y1="333.6" x2="299.7" y2="334.8" stroke="#555" stroke-width="0.9"/>
<line x1="294.4" y1="329.9" x2="293.6" y2="331.0" stroke="#555" stroke-width="0.9"/>
<line x1="290.3" y1="324.2" x2="288.0" y2="326.6" stroke="#555" stroke-width="1.1"/>
<line x1="284.3" y1="320.4" x2="283.2" y2="321.3" stroke="#555" stroke-width="0.9"/>
<line x1="280.3" y1="314.7" x2="279.1" y2="315.5" stroke="#555" stroke-width="0.9"/>
<line x1="277.0" y1="308.6" x2="275.7" y2="309.2" stroke="#555" stroke-width="0.9"/>
<line x1="274.5" y1="302.1" x2="273.2" y2="302.5" stroke="#555" stroke-width="0.9"/>
<line x1="274.7" y1="295.0" x2="271.3" y2="295.6" stroke="#555" stroke-width="1.1"/>
<line x1="272.2" y1="288.4" x2="270.8" y2="288.5" stroke="#555" stroke-width="0.9"/>
<line x1="272.4" y1="281.5" x2="271.0" y2="281.3" stroke="#555" stroke-width="0.9"/>
<line x1="273.5" y1="274.6" x2="272.1" y2="274.3" stroke="#555" stroke-width="0.9"/>
<line x1="275.4" y1="267.9" x2="274.1" y2="267.4" stroke="#555" stroke-width="0.9"/>
<line x1="279.8" y1="262.4" x2="276.8" y2="260.8" stroke="#555" stroke-width="1.1"/>
<line x1="281.9" y1="255.6" x2="280.7" y2="254.8" stroke="#555" stroke-width="0.9"/>
<line x1="286.2" y1="250.2" x2="285.2" y2="249.3" stroke="#555" stroke-width="0.9"/>
<line x1="291.2" y1="245.4" x2="290.3" y2="244.3" stroke="#555" stroke-width="0.9"/>
<line x1="296.8" y1="241.3" x2="296.1" y2="240.1" stroke="#555" stroke-width="0.9"/>
<line x1="303.7" y1="239.5" x2="302.2" y2="236.5" stroke="#555" stroke-width="1.1"/>
<line x1="309.4" y1="235.4" x2="309.0" y2="234.0" stroke="#555" stroke-width="0.9"/>
<line x1="316.1" y1="233.7" x2="315.9" y2="232.3" stroke="#555" stroke-width="0.9"/>
<line x1="323.1" y1="232.9" x2="323.0" y2="231.5" stroke="#555" stroke-width="0.9"/>
<text x="341.8" y="254.0" font-family="Liberation Serif" font-size="9.8" fill="#2a2a2a" stroke="#2a2a2a" stroke-width="0.2">1 mbp</text>
<text x="352.0" y="276.7" font-family="Liberation Serif" font-size="9.8" fill="#2a2a2a" stroke="#2a2a2a" stroke-width="0.2">2 mbp</text>
<text x="352.0" y="305.0" font-family="Liberation Serif" font-size="9.8" fill="#2a2a2a" stroke="#2a2a2a" stroke-width="0.2">3 mbp</text>
<text x="337.2" y="326.8" font-family="Liberation Serif" font-size="9.8" fill="#2a2a2a" stroke="#2a2a2a" stroke-width="0.2">4 mbp</text>
<text x="309.3" y="333.2" font-family="Liberation Serif" font-size="9.8" fill="#2a2a2a" stroke="#2a2a2a" stroke-width="0.2">5 mbp</text>
<text x="284.2" y="321.6" font-family="Liberation Serif" font-size="9.8" fill="#2a2a2a" stroke="#2a2a2a" stroke-width="0.2">6 mbp</text>
<text x="275.8" y="296.1" font-family="Liberation Serif" font-size="9.8" fill="#2a2a2a" stroke="#2a2a2a" stroke-width="0.2">7 mbp</text>
<text x="277.4" y="268.5" font-family="Liberation Serif" font-size="9.8" fill="#2a2a2a" stroke="#2a2a2a" stroke-width="0.2">8 mbp</text>
<text x="293.2" y="248.6" font-family="Liberation Serif" font-size="9.8" fill="#2a2a2a" stroke="#2a2a2a" stroke-width="0.2">9 mbp</text>
<path d="M238.0,21.0L229.7,44.8M235.3,26.6L224.0,46.0M196.5,40.0L221.3,47.6M175.8,52.2L182.9,69.3M160.5,62.4L161.0,86.6M146.5,75.2L160.5,89.2M133.0,85.3L151.6,93.8M123.6,95.5L151.6,94.3M112.0,107.8L142.7,101.5M104.5,116.8L141.4,105.3M98.0,126.4L131.2,115.5M91.2,137.6L118.5,132.0M83.6,149.9L112.1,138.9M72.6,171.5L86.6,185.5M66.2,186.3L86.6,186.8M53.1,234.5L71.0,237.4M48.2,262.8L68.6,264.8M48.2,287.0L66.6,304.5M48.2,298.7L66.6,304.5M48.2,314.5L66.6,307.4M49.6,326.1L68.6,316.8M52.6,339.6L70.1,336.6M54.0,350.4L70.1,337.2M401.3,20.0L398.0,37.1M444.3,34.8L457.6,62.9M462.6,46.4L461.9,65.6M485.7,57.6L464.2,65.6M504.0,70.2L487.4,82.1M513.9,80.5L490.7,83.5M573.9,159.6L557.6,169.0M586.1,286.1L604.4,286.1M584.2,313.2L602.8,315.1M575.9,355.0L597.3,349.6M575.9,356.7L593.3,365.0M574.7,363.8L590.2,375.7M570.0,380.4L585.4,387.5M554.8,409.9L573.0,415.2M552.3,414.5L566.4,426.1M535.7,440.5L551.5,448.0M531.6,445.5L544.8,459.6M489.7,489.4L511.7,491.4M488.7,489.4L497.4,505.0M481.5,495.5L480.5,517.9M442.8,518.9L457.1,530.7M443.8,520.0L444.4,540.3M145.8,499.1L168.0,493.5M157.0,507.5L168.0,493.8M171.0,518.2L170.3,494.5M305,8L228.3,44.8M348.8,8.4L284.3,29.4" fill="none" stroke="#3a3a3a" stroke-width="1.0"/>
<g font-family="Liberation Sans" font-size="8.8" fill="#333"><text x="274" y="6.9">tRNA–Thr [2] tRNA–Ala</text><text x="215.7" y="19.7">tRNA–Thr [1]</text><text x="183.4" y="31.0">tRNA–Phe [2]</text><text x="141.4" y="42.7">tRNA–Phe [1]</text><text x="135.8" y="53.7">tRNA–Leu</text><text x="108.3" y="64.9">tRNA–Sec [2]</text><text x="93.8" y="75.9">tRNA–Sec [1]</text><text x="93" y="86.6">tRNA–Leu</text><text x="82" y="97.5">tRNA–Met</text><text x="73.9" y="109.8">tRNA–Ala</text><text x="63.2" y="118.7">tRNA–Met</text><text x="58.6" y="127.7">tRNA–Gln</text><text x="49.7" y="139.6">tRNA–Arg</text><text x="44.6" y="151.3">tRNA–Lys</text><text x="19.1" y="174.7">tRNA–Thr [2]</text><text x="12.2" y="188.7">tRNA–Thr [1]</text><text x="14" y="235.7">tRNA–Ala</text><text x="8.8" y="265.5">tRNA–Gly</text><text x="7.3" y="290.7">tRNA–Arg</text><text x="7.3" y="301.4">tRNA–Arg</text><text x="7.3" y="317.5">tRNA–Met</text><text x="11.7" y="329.2">tRNA–Lys</text><text x="0.9" y="343.2">tRNA–Ser [2]</text><text x="2.9" y="354.0">tRNA–Ser [1]</text><text x="384.7" y="17.9">tRNA–Arg</text><text x="421.2" y="32.8">tRNA–Met [1]</text><text x="463.2" y="46.1">tRNA–Met [2]</text><text x="485.7" y="60.3">tRNA–Met [3]</text><text x="502.3" y="72.9">tRNA–Ile</text><text x="513.9" y="82.8">tRNA–Tyr</text><text x="575.2" y="162.9">tRNA–Leu</text><text x="605.1" y="289.2">tRNA–Arg</text><text x="603.2" y="317.0">tRNA–Val</text><text x="598" y="351.9">tRNA–Asn</text><text x="593.7" y="368.1">tRNA–Ala</text><text x="590.9" y="378.0">tRNA–Val</text><text x="586.1" y="389.4">tRNA–Pro</text><text x="574.3" y="418.0">tRNA–Ser</text><text x="567.2" y="429.1">tRNA–Glu</text><text x="552.3" y="451.2">tRNA–Val</text><text x="545.7" y="462.2">tRNA–Pro</text><text x="512.5" y="494.1">tRNA–Ser [1]</text><text x="498.5" y="509.4">tRNA–Ser [2]</text><text x="480.5" y="522.1">tRNA–Gly</text><text x="458.1" y="535.5">tRNA–Cys [1]</text><text x="421.4" y="545.7">tRNA–Cys [2]</text><text x="106.8" y="502.1">tRNA–His</text><text x="117.2" y="511.3">tRNA–Leu</text><text x="130.1" y="521.7">tRNA–Asp</text></g>
<rect x="230.2" y="47.3" width="1.6" height="1.6" fill="#555"/><rect x="224.6" y="48.4" width="1.6" height="1.6" fill="#555"/><rect x="221.9" y="50.0" width="1.6" height="1.6" fill="#555"/><rect x="184.0" y="71.4" width="1.6" height="1.6" fill="#555"/><rect x="162.4" y="88.5" width="1.6" height="1.6" fill="#555"/><rect x="161.3" y="90.3" width="1.6" height="1.6" fill="#555"/><rect x="153.1" y="95.6" width="1.6" height="1.6" fill="#555"/><rect x="153.2" y="96.1" width="1.6" height="1.6" fill="#555"/><rect x="144.4" y="103.2" width="1.6" height="1.6" fill="#555"/><rect x="143.1" y="107.0" width="1.6" height="1.6" fill="#555"/><rect x="133.0" y="117.0" width="1.6" height="1.6" fill="#555"/><rect x="120.5" y="133.3" width="1.6" height="1.6" fill="#555"/><rect x="114.2" y="140.1" width="1.6" height="1.6" fill="#555"/><rect x="89.0" y="186.1" width="1.6" height="1.6" fill="#555"/><rect x="89.0" y="187.3" width="1.6" height="1.6" fill="#555"/><rect x="73.6" y="237.3" width="1.6" height="1.6" fill="#555"/><rect x="71.3" y="264.3" width="1.6" height="1.6" fill="#555"/><rect x="69.3" y="303.5" width="1.6" height="1.6" fill="#555"/><rect x="69.3" y="303.5" width="1.6" height="1.6" fill="#555"/><rect x="69.3" y="306.3" width="1.6" height="1.6" fill="#555"/><rect x="71.3" y="315.6" width="1.6" height="1.6" fill="#555"/><rect x="72.7" y="335.1" width="1.6" height="1.6" fill="#555"/><rect x="72.7" y="335.7" width="1.6" height="1.6" fill="#555"/><rect x="396.2" y="39.7" width="1.6" height="1.6" fill="#555"/><rect x="455.0" y="65.1" width="1.6" height="1.6" fill="#555"/><rect x="459.3" y="67.8" width="1.6" height="1.6" fill="#555"/><rect x="461.5" y="67.8" width="1.6" height="1.6" fill="#555"/><rect x="484.4" y="84.0" width="1.6" height="1.6" fill="#555"/><rect x="487.7" y="85.4" width="1.6" height="1.6" fill="#555"/><rect x="553.7" y="169.8" width="1.6" height="1.6" fill="#555"/><rect x="581.8" y="285.3" width="1.6" height="1.6" fill="#555"/><rect x="579.9" y="312.0" width="1.6" height="1.6" fill="#555"/><rect x="571.7" y="353.3" width="1.6" height="1.6" fill="#555"/><rect x="571.7" y="355.0" width="1.6" height="1.6" fill="#555"/><rect x="570.6" y="362.0" width="1.6" height="1.6" fill="#555"/><rect x="565.9" y="378.3" width="1.6" height="1.6" fill="#555"/><rect x="550.9" y="407.4" width="1.6" height="1.6" fill="#555"/><rect x="548.5" y="412.0" width="1.6" height="1.6" fill="#555"/><rect x="532.1" y="437.6" width="1.6" height="1.6" fill="#555"/><rect x="528.0" y="442.6" width="1.6" height="1.6" fill="#555"/><rect x="486.7" y="485.9" width="1.6" height="1.6" fill="#555"/><rect x="485.7" y="485.9" width="1.6" height="1.6" fill="#555"/><rect x="478.6" y="491.9" width="1.6" height="1.6" fill="#555"/><rect x="440.4" y="515.0" width="1.6" height="1.6" fill="#555"/><rect x="441.4" y="516.1" width="1.6" height="1.6" fill="#555"/><rect x="169.3" y="489.9" width="1.6" height="1.6" fill="#555"/><rect x="169.3" y="490.2" width="1.6" height="1.6" fill="#555"/><rect x="171.6" y="490.9" width="1.6" height="1.6" fill="#555"/><rect x="228.4" y="47.7" width="1.6" height="1.6" fill="#555"/><rect x="283.8" y="32.6" width="1.6" height="1.6" fill="#555"/><rect x="313.0" y="31.0" width="1.6" height="1.6" fill="#555"/><rect x="325.0" y="29.4" width="1.6" height="1.6" fill="#555"/>
<g font-family="Liberation Sans" fill="#1a1a1a" stroke="#1a1a1a" stroke-width="0.2">
<text x="677.3" y="95.1" font-size="11.5" textLength="73" lengthAdjust="spacingAndGlyphs">GC content %</text>
<rect x="677.3" y="96.8" width="73" height="0.9" fill="#333"/>
<text x="677.3" y="110.8" font-size="11.5" textLength="110" lengthAdjust="spacingAndGlyphs">deviation above avg</text>
<text x="677.3" y="127.2" font-size="11.5" textLength="110" lengthAdjust="spacingAndGlyphs">deviation below avg</text>
<rect x="654.2" y="107" width="15.4" height="1.8" fill="#8c8a2a"/>
<rect x="654.2" y="123" width="15.4" height="1.8" fill="#880099"/>
<text x="677.3" y="146.7" font-size="11.5" textLength="27.9" lengthAdjust="spacingAndGlyphs">AGEs</text>
<rect x="677.3" y="148.2" width="27.9" height="0.9" fill="#333"/>
<rect x="656.9" y="154.2" width="12.6" height="13.3" fill="#1010ff" stroke="#333" stroke-width="0.9"/>
<text x="678.3" y="165.9" font-size="11.3" textLength="26.3" lengthAdjust="spacingAndGlyphs">RP73</text>
<rect x="656.9" y="177.9" width="12.6" height="13.3" fill="#ff00ff" stroke="#333" stroke-width="0.9"/>
<text x="678.3" y="189.6" font-size="11.3" textLength="27.4" lengthAdjust="spacingAndGlyphs">PAO1</text>
<rect x="656.9" y="201.6" width="12.6" height="13.3" fill="#006a00" stroke="#333" stroke-width="0.9"/>
<text x="678.3" y="213.3" font-size="11.3">PACS2</text>
<rect x="656.9" y="225.3" width="12.6" height="13.3" fill="#6a0000" stroke="#333" stroke-width="0.9"/>
<text x="678.3" y="237.0" font-size="11.3">PA7</text>
<rect x="656.9" y="249.0" width="12.6" height="13.3" fill="#ffff00" stroke="#333" stroke-width="0.9"/>
<text x="678.3" y="260.7" font-size="11.3">PA14</text>
<rect x="656.9" y="272.7" width="12.6" height="13.3" fill="#7a7a10" stroke="#333" stroke-width="0.9"/>
<text x="678.3" y="284.4" font-size="11.3" textLength="58.4" lengthAdjust="spacingAndGlyphs">NCGM2.S1</text>
<rect x="656.9" y="296.4" width="12.6" height="13.3" fill="#7a1a8a" stroke="#333" stroke-width="0.9"/>
<text x="678.3" y="308.1" font-size="11.3">M18</text>
<rect x="656.9" y="320.1" width="12.6" height="13.3" fill="#22ffff" stroke="#333" stroke-width="0.9"/>
<text x="678.3" y="331.8" font-size="11.3" textLength="38.3" lengthAdjust="spacingAndGlyphs">LESB58</text>
<rect x="656.9" y="343.8" width="12.6" height="13.3" fill="#ee0000" stroke="#333" stroke-width="0.9"/>
<text x="678.3" y="355.5" font-size="11.3">DK2</text>
<rect x="656.9" y="367.5" width="12.6" height="13.3" fill="#77ff77" stroke="#333" stroke-width="0.9"/>
<text x="678.3" y="379.2" font-size="11.3" textLength="44.5" lengthAdjust="spacingAndGlyphs">B136-33</text>
<rect x="656.9" y="391.2" width="12.6" height="13.3" fill="#0a1a80" stroke="#333" stroke-width="0.9"/>
<text x="678.3" y="402.9" font-size="11.3">213BR</text>
<rect x="656.9" y="414.9" width="12.6" height="13.3" fill="#66b2b2" stroke="#333" stroke-width="0.9"/>
<text x="678.3" y="426.6" font-size="11.3">19BR</text>
<rect x="656.9" y="438.6" width="12.6" height="13.3" fill="#ff8c1a" stroke="#333" stroke-width="0.9"/>
<text x="678.3" y="450.3" font-size="11.3" textLength="24.8" lengthAdjust="spacingAndGlyphs">Core</text>
</g>
</svg>
</body></html>
